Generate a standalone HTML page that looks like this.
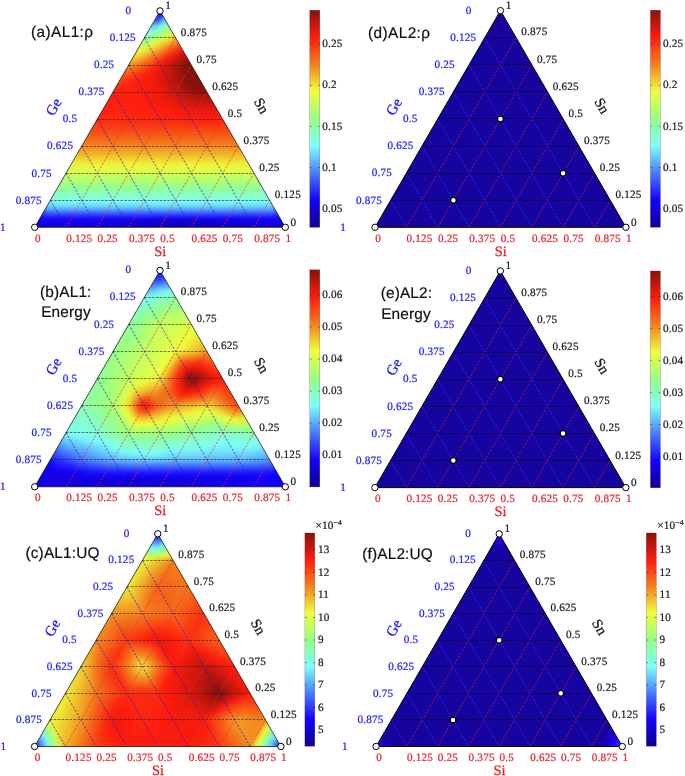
<!DOCTYPE html><html><head><meta charset="utf-8"><title>Ternary AL figure</title><style>html,body{margin:0;padding:0;background:#fff}svg{display:block}text{white-space:pre;text-rendering:geometricPrecision}</style></head><body>
<svg width="685" height="776" viewBox="0 0 685 776">
<defs><linearGradient id="jet" x1="0" y1="1" x2="0" y2="0"><stop offset="0" stop-color="#100092"/><stop offset="0.125" stop-color="#1400ff"/><stop offset="0.25" stop-color="#487dff"/><stop offset="0.375" stop-color="#7dfffa"/><stop offset="0.5" stop-color="#96ff87"/><stop offset="0.625" stop-color="#eeff3c"/><stop offset="0.75" stop-color="#f3801e"/><stop offset="0.875" stop-color="#fd1c0e"/><stop offset="1" stop-color="#87120c"/></linearGradient>
<filter id="sm" x="-5%" y="-5%" width="110%" height="110%" color-interpolation-filters="sRGB"><feGaussianBlur stdDeviation="2.1"/><feComponentTransfer><feFuncA type="linear" slope="60" intercept="0"/></feComponentTransfer></filter>
<radialGradient id="cornL" gradientUnits="userSpaceOnUse" cx="0" cy="0" r="1"><stop offset="0" stop-color="#2a3cff"/><stop offset="1" stop-color="#2a3cff" stop-opacity="0"/></radialGradient>
<clipPath id="cpa"><polygon points="34.7,227.3 285.3,227.3 160,10.91"/></clipPath>
<clipPath id="cpb"><polygon points="34.7,486.8 285.3,486.8 160,270.41"/></clipPath>
<clipPath id="cpc"><polygon points="34.6,746.5 280.9,746.5 157.75,533.82"/></clipPath>
<clipPath id="cpd"><polygon points="375,227.3 625.9,227.3 500.45,10.65"/></clipPath>
<clipPath id="cpe"><polygon points="374.9,487.6 625.8,487.6 500.35,270.95"/></clipPath>
<clipPath id="cpf"><polygon points="376.1,746.5 622.3,746.5 499.2,533.91"/></clipPath>
<radialGradient id="spot"><stop offset="0" stop-color="#701010"/><stop offset="0.35" stop-color="#801210" stop-opacity="0.7"/><stop offset="1" stop-color="#a01410" stop-opacity="0"/></radialGradient>
</defs>
<rect width="685" height="776" fill="#fff"/>
<g id="panel-a">
<g clip-path="url(#cpa)"><g filter="url(#sm)">
<path fill="#1300e3" stroke="#1300e3" d="M34.7,227.3h6.96l-3.48,-6.01zM41.66,227.3h6.96l-3.48,-6.01zM62.54,227.3l3.48,-6.01h-6.96zM219.17,221.29h6.96l-3.48,-6.01z"/>
<path fill="#1300e5" stroke="#1300e5" d="M41.66,227.3l3.48,-6.01h-6.96zM48.62,227.3l3.48,-6.01h-6.96zM226.13,221.29h6.96l-3.48,-6.01zM156.52,16.92h6.96l-3.48,-6.01z"/>
<path fill="#1300e2" stroke="#1300e2" d="M48.62,227.3h6.96l-3.48,-6.01zM55.58,227.3h6.96l-3.48,-6.01zM69.51,227.3l3.48,-6.01h-6.96z"/>
<path fill="#1300e4" stroke="#1300e4" d="M55.58,227.3l3.48,-6.01h-6.96zM135.64,221.29h6.96l-3.48,-6.01z"/>
<path fill="#1300e1" stroke="#1300e1" d="M62.54,227.3h6.96l-3.48,-6.01zM69.51,227.3h6.96l-3.48,-6.01zM76.47,227.3l3.48,-6.01h-6.96zM142.6,221.29h6.96l-3.48,-6.01z"/>
<path fill="#1300e0" stroke="#1300e0" d="M76.47,227.3h6.96l-3.48,-6.01zM278.34,227.3h6.96l-3.48,-6.01zM212.21,221.29h6.96l-3.48,-6.01z"/>
<path fill="#1300df" stroke="#1300df" d="M83.43,227.3l3.48,-6.01h-6.96zM83.43,227.3h6.96l-3.48,-6.01zM271.38,227.3h6.96l-3.48,-6.01zM278.34,227.3l3.48,-6.01h-6.96z"/>
<path fill="#1300dd" stroke="#1300dd" d="M90.39,227.3l3.48,-6.01h-6.96zM264.42,227.3h6.96l-3.48,-6.01zM271.38,227.3l3.48,-6.01h-6.96z"/>
<path fill="#1300de" stroke="#1300de" d="M90.39,227.3h6.96l-3.48,-6.01zM149.56,221.29h6.96l-3.48,-6.01zM205.25,221.29h6.96l-3.48,-6.01z"/>
<path fill="#1300db" stroke="#1300db" d="M97.35,227.3l3.48,-6.01h-6.96zM104.31,227.3h6.96l-3.48,-6.01zM163.48,221.29h6.96l-3.48,-6.01z"/>
<path fill="#1300dc" stroke="#1300dc" d="M97.35,227.3h6.96l-3.48,-6.01zM257.46,227.3h6.96l-3.48,-6.01zM156.52,221.29h6.96l-3.48,-6.01zM198.29,221.29h6.96l-3.48,-6.01z"/>
<path fill="#1300d8" stroke="#1300d8" d="M104.31,227.3l3.48,-6.01h-6.96zM243.53,227.3h6.96l-3.48,-6.01z"/>
<path fill="#1200d5" stroke="#1200d5" d="M111.27,227.3l3.48,-6.01h-6.96z"/>
<path fill="#1300d9" stroke="#1300d9" d="M111.27,227.3h6.96l-3.48,-6.01zM177.4,221.29h6.96l-3.48,-6.01zM184.36,221.29h6.96l-3.48,-6.01z"/>
<path fill="#1200d1" stroke="#1200d1" d="M118.23,227.3l3.48,-6.01h-6.96zM222.65,227.3h6.96l-3.48,-6.01z"/>
<path fill="#1300d7" stroke="#1300d7" d="M118.23,227.3h6.96l-3.48,-6.01zM257.46,227.3l3.48,-6.01h-6.96z"/>
<path fill="#1200cd" stroke="#1200cd" d="M125.19,227.3l3.48,-6.01h-6.96zM208.73,227.3h6.96l-3.48,-6.01z"/>
<path fill="#1200d4" stroke="#1200d4" d="M125.19,227.3h6.96l-3.48,-6.01zM229.61,227.3h6.96l-3.48,-6.01zM250.49,227.3l3.48,-6.01h-6.96z"/>
<path fill="#1200c9" stroke="#1200c9" d="M132.16,227.3l3.48,-6.01h-6.96zM166.96,227.3h6.96l-3.48,-6.01zM173.92,227.3h6.96l-3.48,-6.01zM180.88,227.3h6.96l-3.48,-6.01zM187.84,227.3h6.96l-3.48,-6.01z"/>
<path fill="#1200d2" stroke="#1200d2" d="M132.16,227.3h6.96l-3.48,-6.01z"/>
<path fill="#1200c5" stroke="#1200c5" d="M139.12,227.3l3.48,-6.01h-6.96z"/>
<path fill="#1200d0" stroke="#1200d0" d="M139.12,227.3h6.96l-3.48,-6.01zM243.53,227.3l3.48,-6.01h-6.96z"/>
<path fill="#1200c2" stroke="#1200c2" d="M146.08,227.3l3.48,-6.01h-6.96z"/>
<path fill="#1200ce" stroke="#1200ce" d="M146.08,227.3h6.96l-3.48,-6.01z"/>
<path fill="#1200be" stroke="#1200be" d="M153.04,227.3l3.48,-6.01h-6.96z"/>
<path fill="#1200cc" stroke="#1200cc" d="M153.04,227.3h6.96l-3.48,-6.01zM236.57,227.3l3.48,-6.01h-6.96z"/>
<path fill="#1200bb" stroke="#1200bb" d="M160,227.3l3.48,-6.01h-6.96z"/>
<path fill="#1200ca" stroke="#1200ca" d="M160,227.3h6.96l-3.48,-6.01zM194.81,227.3h6.96l-3.48,-6.01z"/>
<path fill="#1100b9" stroke="#1100b9" d="M166.96,227.3l3.48,-6.01h-6.96z"/>
<path fill="#1100b7" stroke="#1100b7" d="M173.92,227.3l3.48,-6.01h-6.96zM180.88,227.3l3.48,-6.01h-6.96zM187.84,227.3l3.48,-6.01h-6.96z"/>
<path fill="#1100b8" stroke="#1100b8" d="M194.81,227.3l3.48,-6.01h-6.96z"/>
<path fill="#1100ba" stroke="#1100ba" d="M201.77,227.3l3.48,-6.01h-6.96z"/>
<path fill="#1200cb" stroke="#1200cb" d="M201.77,227.3h6.96l-3.48,-6.01z"/>
<path fill="#1200bd" stroke="#1200bd" d="M208.73,227.3l3.48,-6.01h-6.96z"/>
<path fill="#1200c0" stroke="#1200c0" d="M215.69,227.3l3.48,-6.01h-6.96z"/>
<path fill="#1200cf" stroke="#1200cf" d="M215.69,227.3h6.96l-3.48,-6.01z"/>
<path fill="#1200c4" stroke="#1200c4" d="M222.65,227.3l3.48,-6.01h-6.96z"/>
<path fill="#1200c8" stroke="#1200c8" d="M229.61,227.3l3.48,-6.01h-6.96z"/>
<path fill="#1200d6" stroke="#1200d6" d="M236.57,227.3h6.96l-3.48,-6.01z"/>
<path fill="#1300da" stroke="#1300da" d="M250.49,227.3h6.96l-3.48,-6.01zM264.42,227.3l3.48,-6.01h-6.96zM170.44,221.29h6.96l-3.48,-6.01zM191.32,221.29h6.96l-3.48,-6.01z"/>
<path fill="#1400fa" stroke="#1400fa" d="M38.18,221.29h6.96l-3.48,-6.01z"/>
<path fill="#1c14ff" stroke="#1c14ff" d="M45.14,221.29l3.48,-6.01h-6.96zM52.1,221.29l3.48,-6.01h-6.96z"/>
<path fill="#1400f9" stroke="#1400f9" d="M45.14,221.29h6.96l-3.48,-6.01zM52.1,221.29h6.96l-3.48,-6.01z"/>
<path fill="#1c13ff" stroke="#1c13ff" d="M59.06,221.29l3.48,-6.01h-6.96zM66.03,221.29l3.48,-6.01h-6.96zM72.99,221.29l3.48,-6.01h-6.96z"/>
<path fill="#1400f8" stroke="#1400f8" d="M59.06,221.29h6.96l-3.48,-6.01zM66.03,221.29h6.96l-3.48,-6.01z"/>
<path fill="#1400f7" stroke="#1400f7" d="M72.99,221.29h6.96l-3.48,-6.01z"/>
<path fill="#1c12ff" stroke="#1c12ff" d="M79.95,221.29l3.48,-6.01h-6.96z"/>
<path fill="#1400f6" stroke="#1400f6" d="M79.95,221.29h6.96l-3.48,-6.01z"/>
<path fill="#1b12ff" stroke="#1b12ff" d="M86.91,221.29l3.48,-6.01h-6.96zM274.86,221.29l3.48,-6.01h-6.96z"/>
<path fill="#1400f4" stroke="#1400f4" d="M86.91,221.29h6.96l-3.48,-6.01zM267.9,221.29h6.96l-3.48,-6.01z"/>
<path fill="#1b11ff" stroke="#1b11ff" d="M93.87,221.29l3.48,-6.01h-6.96zM267.9,221.29l3.48,-6.01h-6.96z"/>
<path fill="#1400f3" stroke="#1400f3" d="M93.87,221.29h6.96l-3.48,-6.01z"/>
<path fill="#1b10ff" stroke="#1b10ff" d="M100.83,221.29l3.48,-6.01h-6.96zM260.94,221.29l3.48,-6.01h-6.96z"/>
<path fill="#1300f1" stroke="#1300f1" d="M100.83,221.29h6.96l-3.48,-6.01z"/>
<path fill="#1a0fff" stroke="#1a0fff" d="M107.79,221.29l3.48,-6.01h-6.96zM253.98,221.29l3.48,-6.01h-6.96z"/>
<path fill="#1300ee" stroke="#1300ee" d="M107.79,221.29h6.96l-3.48,-6.01zM247.01,221.29h6.96l-3.48,-6.01z"/>
<path fill="#1a0eff" stroke="#1a0eff" d="M114.75,221.29l3.48,-6.01h-6.96zM247.01,221.29l3.48,-6.01h-6.96z"/>
<path fill="#1300ec" stroke="#1300ec" d="M114.75,221.29h6.96l-3.48,-6.01z"/>
<path fill="#190dff" stroke="#190dff" d="M121.71,221.29l3.48,-6.01h-6.96zM240.05,221.29l3.48,-6.01h-6.96z"/>
<path fill="#1300e9" stroke="#1300e9" d="M121.71,221.29h6.96l-3.48,-6.01z"/>
<path fill="#190cff" stroke="#190cff" d="M128.68,221.29l3.48,-6.01h-6.96z"/>
<path fill="#1300e6" stroke="#1300e6" d="M128.68,221.29h6.96l-3.48,-6.01z"/>
<path fill="#180bff" stroke="#180bff" d="M135.64,221.29l3.48,-6.01h-6.96z"/>
<path fill="#1809ff" stroke="#1809ff" d="M142.6,221.29l3.48,-6.01h-6.96zM219.17,221.29l3.48,-6.01h-6.96z"/>
<path fill="#1708ff" stroke="#1708ff" d="M149.56,221.29l3.48,-6.01h-6.96zM212.21,221.29l3.48,-6.01h-6.96z"/>
<path fill="#1707ff" stroke="#1707ff" d="M156.52,221.29l3.48,-6.01h-6.96zM205.25,221.29l3.48,-6.01h-6.96z"/>
<path fill="#1706ff" stroke="#1706ff" d="M163.48,221.29l3.48,-6.01h-6.96z"/>
<path fill="#1606ff" stroke="#1606ff" d="M170.44,221.29l3.48,-6.01h-6.96zM198.29,221.29l3.48,-6.01h-6.96z"/>
<path fill="#1605ff" stroke="#1605ff" d="M177.4,221.29l3.48,-6.01h-6.96zM184.36,221.29l3.48,-6.01h-6.96zM191.32,221.29l3.48,-6.01h-6.96z"/>
<path fill="#180aff" stroke="#180aff" d="M226.13,221.29l3.48,-6.01h-6.96z"/>
<path fill="#190bff" stroke="#190bff" d="M233.09,221.29l3.48,-6.01h-6.96z"/>
<path fill="#1300e8" stroke="#1300e8" d="M233.09,221.29h6.96l-3.48,-6.01z"/>
<path fill="#1300eb" stroke="#1300eb" d="M240.05,221.29h6.96l-3.48,-6.01z"/>
<path fill="#1300f0" stroke="#1300f0" d="M253.98,221.29h6.96l-3.48,-6.01z"/>
<path fill="#1400f2" stroke="#1400f2" d="M260.94,221.29h6.96l-3.48,-6.01z"/>
<path fill="#1400f5" stroke="#1400f5" d="M274.86,221.29h6.96l-3.48,-6.01z"/>
<path fill="#334bff" stroke="#334bff" d="M41.66,215.28h6.96l-3.48,-6.01zM48.62,215.28h6.96l-3.48,-6.01zM55.58,215.28h6.96l-3.48,-6.01zM62.54,215.28h6.96l-3.48,-6.01zM69.51,215.28h6.96l-3.48,-6.01zM76.47,215.28h6.96l-3.48,-6.01zM83.43,215.28h6.96l-3.48,-6.01zM90.39,215.28h6.96l-3.48,-6.01zM97.35,215.28h6.96l-3.48,-6.01zM104.31,215.28h6.96l-3.48,-6.01zM111.27,215.28h6.96l-3.48,-6.01zM118.23,215.28h6.96l-3.48,-6.01zM125.19,215.28h6.96l-3.48,-6.01zM132.16,215.28h6.96l-3.48,-6.01zM139.12,215.28h6.96l-3.48,-6.01zM146.08,215.28h6.96l-3.48,-6.01zM153.04,215.28h6.96l-3.48,-6.01zM160,215.28h6.96l-3.48,-6.01zM166.96,215.28h6.96l-3.48,-6.01zM173.92,215.28h6.96l-3.48,-6.01zM180.88,215.28h6.96l-3.48,-6.01zM187.84,215.28h6.96l-3.48,-6.01zM194.81,215.28h6.96l-3.48,-6.01zM201.77,215.28h6.96l-3.48,-6.01zM208.73,215.28h6.96l-3.48,-6.01zM215.69,215.28h6.96l-3.48,-6.01zM222.65,215.28h6.96l-3.48,-6.01zM229.61,215.28h6.96l-3.48,-6.01zM236.57,215.28h6.96l-3.48,-6.01zM243.53,215.28h6.96l-3.48,-6.01zM250.49,215.28h6.96l-3.48,-6.01zM257.46,215.28h6.96l-3.48,-6.01zM264.42,215.28h6.96l-3.48,-6.01zM271.38,215.28h6.96l-3.48,-6.01z"/>
<path fill="#4474ff" stroke="#4474ff" d="M48.62,215.28l3.48,-6.01h-6.96zM55.58,215.28l3.48,-6.01h-6.96zM62.54,215.28l3.48,-6.01h-6.96zM69.51,215.28l3.48,-6.01h-6.96zM76.47,215.28l3.48,-6.01h-6.96z"/>
<path fill="#4473ff" stroke="#4473ff" d="M83.43,215.28l3.48,-6.01h-6.96zM90.39,215.28l3.48,-6.01h-6.96zM97.35,215.28l3.48,-6.01h-6.96zM104.31,215.28l3.48,-6.01h-6.96zM111.27,215.28l3.48,-6.01h-6.96zM118.23,215.28l3.48,-6.01h-6.96zM125.19,215.28l3.48,-6.01h-6.96zM132.16,215.28l3.48,-6.01h-6.96zM139.12,215.28l3.48,-6.01h-6.96zM146.08,215.28l3.48,-6.01h-6.96zM153.04,215.28l3.48,-6.01h-6.96zM160,215.28l3.48,-6.01h-6.96zM166.96,215.28l3.48,-6.01h-6.96zM173.92,215.28l3.48,-6.01h-6.96zM180.88,215.28l3.48,-6.01h-6.96zM187.84,215.28l3.48,-6.01h-6.96zM194.81,215.28l3.48,-6.01h-6.96zM201.77,215.28l3.48,-6.01h-6.96zM208.73,215.28l3.48,-6.01h-6.96zM215.69,215.28l3.48,-6.01h-6.96zM222.65,215.28l3.48,-6.01h-6.96zM229.61,215.28l3.48,-6.01h-6.96zM236.57,215.28l3.48,-6.01h-6.96zM243.53,215.28l3.48,-6.01h-6.96zM250.49,215.28l3.48,-6.01h-6.96zM257.46,215.28l3.48,-6.01h-6.96zM264.42,215.28l3.48,-6.01h-6.96zM271.38,215.28l3.48,-6.01h-6.96z"/>
<path fill="#64c2fc" stroke="#64c2fc" d="M45.14,209.27h6.96l-3.48,-6.01zM52.1,209.27h6.96l-3.48,-6.01zM59.06,209.27h6.96l-3.48,-6.01zM66.03,209.27h6.96l-3.48,-6.01zM72.99,209.27h6.96l-3.48,-6.01zM79.95,209.27h6.96l-3.48,-6.01zM86.91,209.27h6.96l-3.48,-6.01zM93.87,209.27h6.96l-3.48,-6.01zM100.83,209.27h6.96l-3.48,-6.01zM107.79,209.27h6.96l-3.48,-6.01zM114.75,209.27h6.96l-3.48,-6.01zM121.71,209.27h6.96l-3.48,-6.01zM128.68,209.27h6.96l-3.48,-6.01zM135.64,209.27h6.96l-3.48,-6.01zM142.6,209.27h6.96l-3.48,-6.01zM149.56,209.27h6.96l-3.48,-6.01zM156.52,209.27h6.96l-3.48,-6.01zM163.48,209.27h6.96l-3.48,-6.01zM170.44,209.27h6.96l-3.48,-6.01zM177.4,209.27h6.96l-3.48,-6.01zM184.36,209.27h6.96l-3.48,-6.01zM191.32,209.27h6.96l-3.48,-6.01zM198.29,209.27h6.96l-3.48,-6.01zM205.25,209.27h6.96l-3.48,-6.01zM212.21,209.27h6.96l-3.48,-6.01zM219.17,209.27h6.96l-3.48,-6.01zM226.13,209.27h6.96l-3.48,-6.01zM233.09,209.27h6.96l-3.48,-6.01zM240.05,209.27h6.96l-3.48,-6.01zM247.01,209.27h6.96l-3.48,-6.01zM253.98,209.27h6.96l-3.48,-6.01zM260.94,209.27h6.96l-3.48,-6.01zM267.9,209.27h6.96l-3.48,-6.01z"/>
<path fill="#6dd8fc" stroke="#6dd8fc" d="M52.1,209.27l3.48,-6.01h-6.96zM59.06,209.27l3.48,-6.01h-6.96zM66.03,209.27l3.48,-6.01h-6.96zM72.99,209.27l3.48,-6.01h-6.96zM79.95,209.27l3.48,-6.01h-6.96zM86.91,209.27l3.48,-6.01h-6.96zM93.87,209.27l3.48,-6.01h-6.96zM100.83,209.27l3.48,-6.01h-6.96zM107.79,209.27l3.48,-6.01h-6.96zM114.75,209.27l3.48,-6.01h-6.96zM121.71,209.27l3.48,-6.01h-6.96zM128.68,209.27l3.48,-6.01h-6.96zM135.64,209.27l3.48,-6.01h-6.96zM142.6,209.27l3.48,-6.01h-6.96zM149.56,209.27l3.48,-6.01h-6.96zM156.52,209.27l3.48,-6.01h-6.96zM163.48,209.27l3.48,-6.01h-6.96zM170.44,209.27l3.48,-6.01h-6.96zM177.4,209.27l3.48,-6.01h-6.96zM184.36,209.27l3.48,-6.01h-6.96zM191.32,209.27l3.48,-6.01h-6.96zM198.29,209.27l3.48,-6.01h-6.96zM205.25,209.27l3.48,-6.01h-6.96zM212.21,209.27l3.48,-6.01h-6.96zM219.17,209.27l3.48,-6.01h-6.96zM226.13,209.27l3.48,-6.01h-6.96zM233.09,209.27l3.48,-6.01h-6.96zM240.05,209.27l3.48,-6.01h-6.96zM247.01,209.27l3.48,-6.01h-6.96zM253.98,209.27l3.48,-6.01h-6.96zM260.94,209.27l3.48,-6.01h-6.96zM267.9,209.27l3.48,-6.01h-6.96z"/>
<path fill="#7efff6" stroke="#7efff6" d="M48.62,203.26h6.96l-3.48,-6.01zM55.58,203.26h6.96l-3.48,-6.01zM62.54,203.26h6.96l-3.48,-6.01zM69.51,203.26h6.96l-3.48,-6.01zM76.47,203.26h6.96l-3.48,-6.01zM83.43,203.26h6.96l-3.48,-6.01zM90.39,203.26h6.96l-3.48,-6.01zM97.35,203.26h6.96l-3.48,-6.01zM104.31,203.26h6.96l-3.48,-6.01zM111.27,203.26h6.96l-3.48,-6.01zM118.23,203.26h6.96l-3.48,-6.01zM125.19,203.26h6.96l-3.48,-6.01zM132.16,203.26h6.96l-3.48,-6.01zM139.12,203.26h6.96l-3.48,-6.01zM146.08,203.26h6.96l-3.48,-6.01zM153.04,203.26h6.96l-3.48,-6.01zM160,203.26h6.96l-3.48,-6.01zM166.96,203.26h6.96l-3.48,-6.01zM173.92,203.26h6.96l-3.48,-6.01zM180.88,203.26h6.96l-3.48,-6.01zM187.84,203.26h6.96l-3.48,-6.01zM194.81,203.26h6.96l-3.48,-6.01zM201.77,203.26h6.96l-3.48,-6.01zM208.73,203.26h6.96l-3.48,-6.01zM215.69,203.26h6.96l-3.48,-6.01zM222.65,203.26h6.96l-3.48,-6.01zM229.61,203.26h6.96l-3.48,-6.01zM236.57,203.26h6.96l-3.48,-6.01zM243.53,203.26h6.96l-3.48,-6.01zM250.49,203.26h6.96l-3.48,-6.01zM257.46,203.26h6.96l-3.48,-6.01zM264.42,203.26h6.96l-3.48,-6.01z"/>
<path fill="#81ffe6" stroke="#81ffe6" d="M55.58,203.26l3.48,-6.01h-6.96zM62.54,203.26l3.48,-6.01h-6.96zM69.51,203.26l3.48,-6.01h-6.96zM76.47,203.26l3.48,-6.01h-6.96zM83.43,203.26l3.48,-6.01h-6.96zM90.39,203.26l3.48,-6.01h-6.96zM97.35,203.26l3.48,-6.01h-6.96zM104.31,203.26l3.48,-6.01h-6.96zM111.27,203.26l3.48,-6.01h-6.96zM118.23,203.26l3.48,-6.01h-6.96zM125.19,203.26l3.48,-6.01h-6.96zM132.16,203.26l3.48,-6.01h-6.96zM139.12,203.26l3.48,-6.01h-6.96zM146.08,203.26l3.48,-6.01h-6.96zM153.04,203.26l3.48,-6.01h-6.96zM160,203.26l3.48,-6.01h-6.96zM166.96,203.26l3.48,-6.01h-6.96zM173.92,203.26l3.48,-6.01h-6.96zM180.88,203.26l3.48,-6.01h-6.96zM187.84,203.26l3.48,-6.01h-6.96zM194.81,203.26l3.48,-6.01h-6.96zM201.77,203.26l3.48,-6.01h-6.96zM208.73,203.26l3.48,-6.01h-6.96zM215.69,203.26l3.48,-6.01h-6.96zM222.65,203.26l3.48,-6.01h-6.96zM229.61,203.26l3.48,-6.01h-6.96zM236.57,203.26l3.48,-6.01h-6.96zM243.53,203.26l3.48,-6.01h-6.96zM250.49,203.26l3.48,-6.01h-6.96zM257.46,203.26l3.48,-6.01h-6.96zM264.42,203.26l3.48,-6.01h-6.96z"/>
<path fill="#87ffcb" stroke="#87ffcb" d="M52.1,197.25h6.96l-3.48,-6.01zM59.06,197.25h6.96l-3.48,-6.01zM66.03,197.25h6.96l-3.48,-6.01zM72.99,197.25h6.96l-3.48,-6.01zM79.95,197.25h6.96l-3.48,-6.01zM86.91,197.25h6.96l-3.48,-6.01zM93.87,197.25h6.96l-3.48,-6.01zM100.83,197.25h6.96l-3.48,-6.01zM107.79,197.25h6.96l-3.48,-6.01zM114.75,197.25h6.96l-3.48,-6.01zM121.71,197.25h6.96l-3.48,-6.01zM128.68,197.25h6.96l-3.48,-6.01zM135.64,197.25h6.96l-3.48,-6.01zM142.6,197.25h6.96l-3.48,-6.01zM149.56,197.25h6.96l-3.48,-6.01zM156.52,197.25h6.96l-3.48,-6.01zM163.48,197.25h6.96l-3.48,-6.01zM170.44,197.25h6.96l-3.48,-6.01zM177.4,197.25h6.96l-3.48,-6.01zM184.36,197.25h6.96l-3.48,-6.01zM191.32,197.25h6.96l-3.48,-6.01zM198.29,197.25h6.96l-3.48,-6.01zM205.25,197.25h6.96l-3.48,-6.01zM212.21,197.25h6.96l-3.48,-6.01zM219.17,197.25h6.96l-3.48,-6.01zM226.13,197.25h6.96l-3.48,-6.01zM233.09,197.25h6.96l-3.48,-6.01zM240.05,197.25h6.96l-3.48,-6.01zM247.01,197.25h6.96l-3.48,-6.01zM253.98,197.25h6.96l-3.48,-6.01zM260.94,197.25h6.96l-3.48,-6.01z"/>
<path fill="#8affbe" stroke="#8affbe" d="M59.06,197.25l3.48,-6.01h-6.96zM66.03,197.25l3.48,-6.01h-6.96zM72.99,197.25l3.48,-6.01h-6.96zM79.95,197.25l3.48,-6.01h-6.96zM86.91,197.25l3.48,-6.01h-6.96zM93.87,197.25l3.48,-6.01h-6.96zM100.83,197.25l3.48,-6.01h-6.96zM107.79,197.25l3.48,-6.01h-6.96zM114.75,197.25l3.48,-6.01h-6.96zM121.71,197.25l3.48,-6.01h-6.96zM128.68,197.25l3.48,-6.01h-6.96zM135.64,197.25l3.48,-6.01h-6.96zM142.6,197.25l3.48,-6.01h-6.96zM149.56,197.25l3.48,-6.01h-6.96zM156.52,197.25l3.48,-6.01h-6.96zM163.48,197.25l3.48,-6.01h-6.96zM170.44,197.25l3.48,-6.01h-6.96zM177.4,197.25l3.48,-6.01h-6.96zM184.36,197.25l3.48,-6.01h-6.96zM191.32,197.25l3.48,-6.01h-6.96zM198.29,197.25l3.48,-6.01h-6.96zM205.25,197.25l3.48,-6.01h-6.96zM212.21,197.25l3.48,-6.01h-6.96zM219.17,197.25l3.48,-6.01h-6.96zM226.13,197.25l3.48,-6.01h-6.96zM233.09,197.25l3.48,-6.01h-6.96zM240.05,197.25l3.48,-6.01h-6.96zM247.01,197.25l3.48,-6.01h-6.96zM253.98,197.25l3.48,-6.01h-6.96zM260.94,197.25l3.48,-6.01h-6.96z"/>
<path fill="#90ffa3" stroke="#90ffa3" d="M55.58,191.23h6.96l-3.48,-6.01zM62.54,191.23h6.96l-3.48,-6.01zM69.51,191.23h6.96l-3.48,-6.01zM76.47,191.23h6.96l-3.48,-6.01zM83.43,191.23h6.96l-3.48,-6.01zM90.39,191.23h6.96l-3.48,-6.01zM97.35,191.23h6.96l-3.48,-6.01zM104.31,191.23h6.96l-3.48,-6.01zM111.27,191.23h6.96l-3.48,-6.01zM118.23,191.23h6.96l-3.48,-6.01zM125.19,191.23h6.96l-3.48,-6.01zM132.16,191.23h6.96l-3.48,-6.01zM139.12,191.23h6.96l-3.48,-6.01zM146.08,191.23h6.96l-3.48,-6.01zM153.04,191.23h6.96l-3.48,-6.01zM160,191.23h6.96l-3.48,-6.01zM166.96,191.23h6.96l-3.48,-6.01zM173.92,191.23h6.96l-3.48,-6.01zM180.88,191.23h6.96l-3.48,-6.01zM187.84,191.23h6.96l-3.48,-6.01zM194.81,191.23h6.96l-3.48,-6.01zM201.77,191.23h6.96l-3.48,-6.01zM208.73,191.23h6.96l-3.48,-6.01zM215.69,191.23h6.96l-3.48,-6.01zM222.65,191.23h6.96l-3.48,-6.01zM229.61,191.23h6.96l-3.48,-6.01zM236.57,191.23h6.96l-3.48,-6.01zM243.53,191.23h6.96l-3.48,-6.01zM250.49,191.23h6.96l-3.48,-6.01zM257.46,191.23h6.96l-3.48,-6.01z"/>
<path fill="#93ff96" stroke="#93ff96" d="M62.54,191.23l3.48,-6.01h-6.96zM69.51,191.23l3.48,-6.01h-6.96zM76.47,191.23l3.48,-6.01h-6.96zM83.43,191.23l3.48,-6.01h-6.96zM90.39,191.23l3.48,-6.01h-6.96zM97.35,191.23l3.48,-6.01h-6.96zM104.31,191.23l3.48,-6.01h-6.96zM111.27,191.23l3.48,-6.01h-6.96zM118.23,191.23l3.48,-6.01h-6.96zM125.19,191.23l3.48,-6.01h-6.96zM132.16,191.23l3.48,-6.01h-6.96zM139.12,191.23l3.48,-6.01h-6.96zM146.08,191.23l3.48,-6.01h-6.96zM153.04,191.23l3.48,-6.01h-6.96zM160,191.23l3.48,-6.01h-6.96zM166.96,191.23l3.48,-6.01h-6.96zM173.92,191.23l3.48,-6.01h-6.96zM180.88,191.23l3.48,-6.01h-6.96zM187.84,191.23l3.48,-6.01h-6.96zM194.81,191.23l3.48,-6.01h-6.96zM201.77,191.23l3.48,-6.01h-6.96zM208.73,191.23l3.48,-6.01h-6.96zM215.69,191.23l3.48,-6.01h-6.96zM222.65,191.23l3.48,-6.01h-6.96zM229.61,191.23l3.48,-6.01h-6.96zM236.57,191.23l3.48,-6.01h-6.96zM243.53,191.23l3.48,-6.01h-6.96zM250.49,191.23l3.48,-6.01h-6.96zM257.46,191.23l3.48,-6.01h-6.96z"/>
<path fill="#9fff7f" stroke="#9fff7f" d="M59.06,185.22h6.96l-3.48,-6.01zM66.03,185.22h6.96l-3.48,-6.01zM72.99,185.22h6.96l-3.48,-6.01zM79.95,185.22h6.96l-3.48,-6.01zM86.91,185.22h6.96l-3.48,-6.01zM93.87,185.22h6.96l-3.48,-6.01zM100.83,185.22h6.96l-3.48,-6.01zM107.79,185.22h6.96l-3.48,-6.01zM114.75,185.22h6.96l-3.48,-6.01zM121.71,185.22h6.96l-3.48,-6.01zM128.68,185.22h6.96l-3.48,-6.01zM135.64,185.22h6.96l-3.48,-6.01zM142.6,185.22h6.96l-3.48,-6.01zM149.56,185.22h6.96l-3.48,-6.01zM156.52,185.22h6.96l-3.48,-6.01zM163.48,185.22h6.96l-3.48,-6.01zM170.44,185.22h6.96l-3.48,-6.01zM177.4,185.22h6.96l-3.48,-6.01zM184.36,185.22h6.96l-3.48,-6.01zM191.32,185.22h6.96l-3.48,-6.01zM198.29,185.22h6.96l-3.48,-6.01zM205.25,185.22h6.96l-3.48,-6.01zM212.21,185.22h6.96l-3.48,-6.01zM219.17,185.22h6.96l-3.48,-6.01zM226.13,185.22h6.96l-3.48,-6.01zM233.09,185.22h6.96l-3.48,-6.01zM240.05,185.22h6.96l-3.48,-6.01zM247.01,185.22h6.96l-3.48,-6.01zM253.98,185.22h6.96l-3.48,-6.01z"/>
<path fill="#a9ff77" stroke="#a9ff77" d="M66.03,185.22l3.48,-6.01h-6.96zM72.99,185.22l3.48,-6.01h-6.96zM79.95,185.22l3.48,-6.01h-6.96zM86.91,185.22l3.48,-6.01h-6.96zM93.87,185.22l3.48,-6.01h-6.96zM100.83,185.22l3.48,-6.01h-6.96zM107.79,185.22l3.48,-6.01h-6.96zM114.75,185.22l3.48,-6.01h-6.96zM121.71,185.22l3.48,-6.01h-6.96zM128.68,185.22l3.48,-6.01h-6.96zM135.64,185.22l3.48,-6.01h-6.96zM142.6,185.22l3.48,-6.01h-6.96zM149.56,185.22l3.48,-6.01h-6.96zM156.52,185.22l3.48,-6.01h-6.96zM163.48,185.22l3.48,-6.01h-6.96zM170.44,185.22l3.48,-6.01h-6.96zM177.4,185.22l3.48,-6.01h-6.96zM184.36,185.22l3.48,-6.01h-6.96zM191.32,185.22l3.48,-6.01h-6.96zM198.29,185.22l3.48,-6.01h-6.96zM205.25,185.22l3.48,-6.01h-6.96zM212.21,185.22l3.48,-6.01h-6.96zM219.17,185.22l3.48,-6.01h-6.96zM226.13,185.22l3.48,-6.01h-6.96zM233.09,185.22l3.48,-6.01h-6.96zM240.05,185.22l3.48,-6.01h-6.96zM247.01,185.22l3.48,-6.01h-6.96zM253.98,185.22l3.48,-6.01h-6.96z"/>
<path fill="#beff65" stroke="#beff65" d="M62.54,179.21h6.96l-3.48,-6.01zM69.51,179.21h6.96l-3.48,-6.01zM76.47,179.21h6.96l-3.48,-6.01zM83.43,179.21h6.96l-3.48,-6.01zM90.39,179.21h6.96l-3.48,-6.01zM97.35,179.21h6.96l-3.48,-6.01zM104.31,179.21h6.96l-3.48,-6.01zM111.27,179.21h6.96l-3.48,-6.01zM118.23,179.21h6.96l-3.48,-6.01zM125.19,179.21h6.96l-3.48,-6.01zM132.16,179.21h6.96l-3.48,-6.01zM139.12,179.21h6.96l-3.48,-6.01zM146.08,179.21h6.96l-3.48,-6.01zM153.04,179.21h6.96l-3.48,-6.01zM160,179.21h6.96l-3.48,-6.01zM166.96,179.21h6.96l-3.48,-6.01zM173.92,179.21h6.96l-3.48,-6.01zM180.88,179.21h6.96l-3.48,-6.01zM187.84,179.21h6.96l-3.48,-6.01zM194.81,179.21h6.96l-3.48,-6.01zM201.77,179.21h6.96l-3.48,-6.01zM208.73,179.21h6.96l-3.48,-6.01zM215.69,179.21h6.96l-3.48,-6.01zM222.65,179.21h6.96l-3.48,-6.01zM229.61,179.21h6.96l-3.48,-6.01zM236.57,179.21h6.96l-3.48,-6.01zM243.53,179.21h6.96l-3.48,-6.01zM250.49,179.21h6.96l-3.48,-6.01z"/>
<path fill="#c8ff5d" stroke="#c8ff5d" d="M69.51,179.21l3.48,-6.01h-6.96zM76.47,179.21l3.48,-6.01h-6.96zM83.43,179.21l3.48,-6.01h-6.96zM90.39,179.21l3.48,-6.01h-6.96zM97.35,179.21l3.48,-6.01h-6.96zM104.31,179.21l3.48,-6.01h-6.96zM111.27,179.21l3.48,-6.01h-6.96zM118.23,179.21l3.48,-6.01h-6.96zM125.19,179.21l3.48,-6.01h-6.96zM132.16,179.21l3.48,-6.01h-6.96zM139.12,179.21l3.48,-6.01h-6.96zM146.08,179.21l3.48,-6.01h-6.96zM153.04,179.21l3.48,-6.01h-6.96zM160,179.21l3.48,-6.01h-6.96zM166.96,179.21l3.48,-6.01h-6.96zM173.92,179.21l3.48,-6.01h-6.96zM180.88,179.21l3.48,-6.01h-6.96zM187.84,179.21l3.48,-6.01h-6.96zM194.81,179.21l3.48,-6.01h-6.96zM201.77,179.21l3.48,-6.01h-6.96zM208.73,179.21l3.48,-6.01h-6.96zM215.69,179.21l3.48,-6.01h-6.96zM222.65,179.21l3.48,-6.01h-6.96zM229.61,179.21l3.48,-6.01h-6.96zM236.57,179.21l3.48,-6.01h-6.96zM243.53,179.21l3.48,-6.01h-6.96zM250.49,179.21l3.48,-6.01h-6.96z"/>
<path fill="#daff4d" stroke="#daff4d" d="M66.03,173.2h6.96l-3.48,-6.01zM72.99,173.2h6.96l-3.48,-6.01zM79.95,173.2h6.96l-3.48,-6.01zM86.91,173.2h6.96l-3.48,-6.01zM93.87,173.2h6.96l-3.48,-6.01zM100.83,173.2h6.96l-3.48,-6.01zM107.79,173.2h6.96l-3.48,-6.01zM114.75,173.2h6.96l-3.48,-6.01zM121.71,173.2h6.96l-3.48,-6.01zM128.68,173.2h6.96l-3.48,-6.01zM135.64,173.2h6.96l-3.48,-6.01zM142.6,173.2h6.96l-3.48,-6.01zM149.56,173.2h6.96l-3.48,-6.01zM156.52,173.2h6.96l-3.48,-6.01zM163.48,173.2h6.96l-3.48,-6.01zM170.44,173.2h6.96l-3.48,-6.01zM177.4,173.2h6.96l-3.48,-6.01zM184.36,173.2h6.96l-3.48,-6.01zM191.32,173.2h6.96l-3.48,-6.01zM198.29,173.2h6.96l-3.48,-6.01zM205.25,173.2h6.96l-3.48,-6.01zM212.21,173.2h6.96l-3.48,-6.01zM219.17,173.2h6.96l-3.48,-6.01zM226.13,173.2h6.96l-3.48,-6.01zM233.09,173.2h6.96l-3.48,-6.01zM240.05,173.2h6.96l-3.48,-6.01zM247.01,173.2h6.96l-3.48,-6.01zM153.04,46.97l3.48,-6.01h-6.96z"/>
<path fill="#e1ff47" stroke="#e1ff47" d="M72.99,173.2l3.48,-6.01h-6.96zM79.95,173.2l3.48,-6.01h-6.96zM86.91,173.2l3.48,-6.01h-6.96zM93.87,173.2l3.48,-6.01h-6.96zM100.83,173.2l3.48,-6.01h-6.96zM107.79,173.2l3.48,-6.01h-6.96zM114.75,173.2l3.48,-6.01h-6.96zM121.71,173.2l3.48,-6.01h-6.96zM128.68,173.2l3.48,-6.01h-6.96zM135.64,173.2l3.48,-6.01h-6.96zM142.6,173.2l3.48,-6.01h-6.96zM149.56,173.2l3.48,-6.01h-6.96zM156.52,173.2l3.48,-6.01h-6.96zM163.48,173.2l3.48,-6.01h-6.96zM170.44,173.2l3.48,-6.01h-6.96zM177.4,173.2l3.48,-6.01h-6.96zM184.36,173.2l3.48,-6.01h-6.96zM191.32,173.2l3.48,-6.01h-6.96zM198.29,173.2l3.48,-6.01h-6.96zM205.25,173.2l3.48,-6.01h-6.96zM212.21,173.2l3.48,-6.01h-6.96zM219.17,173.2l3.48,-6.01h-6.96zM226.13,173.2l3.48,-6.01h-6.96zM233.09,173.2l3.48,-6.01h-6.96zM240.05,173.2l3.48,-6.01h-6.96zM247.01,173.2l3.48,-6.01h-6.96zM142.6,52.98l3.48,-6.01h-6.96z"/>
<path fill="#eefa3b" stroke="#eefa3b" d="M69.51,167.19h6.96l-3.48,-6.01zM76.47,167.19h6.96l-3.48,-6.01zM83.43,167.19h6.96l-3.48,-6.01zM90.39,167.19h6.96l-3.48,-6.01zM97.35,167.19h6.96l-3.48,-6.01zM104.31,167.19h6.96l-3.48,-6.01zM111.27,167.19h6.96l-3.48,-6.01zM118.23,167.19h6.96l-3.48,-6.01zM125.19,167.19h6.96l-3.48,-6.01zM132.16,167.19h6.96l-3.48,-6.01zM139.12,167.19h6.96l-3.48,-6.01zM146.08,167.19h6.96l-3.48,-6.01zM153.04,167.19h6.96l-3.48,-6.01zM160,167.19h6.96l-3.48,-6.01zM166.96,167.19h6.96l-3.48,-6.01zM173.92,167.19h6.96l-3.48,-6.01zM180.88,167.19h6.96l-3.48,-6.01zM187.84,167.19h6.96l-3.48,-6.01zM194.81,167.19h6.96l-3.48,-6.01zM201.77,167.19h6.96l-3.48,-6.01zM208.73,167.19h6.96l-3.48,-6.01zM215.69,167.19h6.96l-3.48,-6.01zM222.65,167.19h6.96l-3.48,-6.01zM229.61,167.19h6.96l-3.48,-6.01zM236.57,167.19h6.96l-3.48,-6.01zM243.53,167.19h6.96l-3.48,-6.01z"/>
<path fill="#efef38" stroke="#efef38" d="M76.47,167.19l3.48,-6.01h-6.96zM83.43,167.19l3.48,-6.01h-6.96zM90.39,167.19l3.48,-6.01h-6.96zM97.35,167.19l3.48,-6.01h-6.96zM104.31,167.19l3.48,-6.01h-6.96zM111.27,167.19l3.48,-6.01h-6.96zM118.23,167.19l3.48,-6.01h-6.96zM125.19,167.19l3.48,-6.01h-6.96zM132.16,167.19l3.48,-6.01h-6.96zM139.12,167.19l3.48,-6.01h-6.96zM146.08,167.19l3.48,-6.01h-6.96zM153.04,167.19l3.48,-6.01h-6.96zM160,167.19l3.48,-6.01h-6.96zM166.96,167.19l3.48,-6.01h-6.96zM173.92,167.19l3.48,-6.01h-6.96zM180.88,167.19l3.48,-6.01h-6.96zM187.84,167.19l3.48,-6.01h-6.96zM194.81,167.19l3.48,-6.01h-6.96zM201.77,167.19l3.48,-6.01h-6.96zM208.73,167.19l3.48,-6.01h-6.96zM215.69,167.19l3.48,-6.01h-6.96zM222.65,167.19l3.48,-6.01h-6.96zM229.61,167.19l3.48,-6.01h-6.96zM236.57,167.19l3.48,-6.01h-6.96zM243.53,167.19l3.48,-6.01h-6.96zM170.44,40.96l3.48,-6.01h-6.96z"/>
<path fill="#f0d833" stroke="#f0d833" d="M72.99,161.18h6.96l-3.48,-6.01zM79.95,161.18h6.96l-3.48,-6.01zM86.91,161.18h6.96l-3.48,-6.01zM93.87,161.18h6.96l-3.48,-6.01zM100.83,161.18h6.96l-3.48,-6.01zM107.79,161.18h6.96l-3.48,-6.01zM114.75,161.18h6.96l-3.48,-6.01zM121.71,161.18h6.96l-3.48,-6.01zM128.68,161.18h6.96l-3.48,-6.01zM135.64,161.18h6.96l-3.48,-6.01zM142.6,161.18h6.96l-3.48,-6.01zM149.56,161.18h6.96l-3.48,-6.01zM156.52,161.18h6.96l-3.48,-6.01zM163.48,161.18h6.96l-3.48,-6.01zM170.44,161.18h6.96l-3.48,-6.01zM177.4,161.18h6.96l-3.48,-6.01zM184.36,161.18h6.96l-3.48,-6.01zM191.32,161.18h6.96l-3.48,-6.01zM198.29,161.18h6.96l-3.48,-6.01zM205.25,161.18h6.96l-3.48,-6.01zM212.21,161.18h6.96l-3.48,-6.01zM219.17,161.18h6.96l-3.48,-6.01zM226.13,161.18h6.96l-3.48,-6.01zM233.09,161.18h6.96l-3.48,-6.01zM240.05,161.18h6.96l-3.48,-6.01z"/>
<path fill="#f0cc30" stroke="#f0cc30" d="M79.95,161.18l3.48,-6.01h-6.96zM86.91,161.18l3.48,-6.01h-6.96zM93.87,161.18l3.48,-6.01h-6.96zM100.83,161.18l3.48,-6.01h-6.96zM107.79,161.18l3.48,-6.01h-6.96zM114.75,161.18l3.48,-6.01h-6.96zM121.71,161.18l3.48,-6.01h-6.96zM128.68,161.18l3.48,-6.01h-6.96zM135.64,161.18l3.48,-6.01h-6.96zM142.6,161.18l3.48,-6.01h-6.96zM149.56,161.18l3.48,-6.01h-6.96zM156.52,161.18l3.48,-6.01h-6.96zM163.48,161.18l3.48,-6.01h-6.96zM170.44,161.18l3.48,-6.01h-6.96zM177.4,161.18l3.48,-6.01h-6.96zM184.36,161.18l3.48,-6.01h-6.96zM191.32,161.18l3.48,-6.01h-6.96zM198.29,161.18l3.48,-6.01h-6.96zM205.25,161.18l3.48,-6.01h-6.96zM212.21,161.18l3.48,-6.01h-6.96zM219.17,161.18l3.48,-6.01h-6.96zM226.13,161.18l3.48,-6.01h-6.96zM233.09,161.18l3.48,-6.01h-6.96zM240.05,161.18l3.48,-6.01h-6.96z"/>
<path fill="#f1b42a" stroke="#f1b42a" d="M76.47,155.17h6.96l-3.48,-6.01zM83.43,155.17h6.96l-3.48,-6.01zM90.39,155.17h6.96l-3.48,-6.01zM97.35,155.17h6.96l-3.48,-6.01zM104.31,155.17h6.96l-3.48,-6.01zM111.27,155.17h6.96l-3.48,-6.01zM118.23,155.17h6.96l-3.48,-6.01zM125.19,155.17h6.96l-3.48,-6.01zM132.16,155.17h6.96l-3.48,-6.01zM139.12,155.17h6.96l-3.48,-6.01zM146.08,155.17h6.96l-3.48,-6.01zM153.04,155.17h6.96l-3.48,-6.01zM160,155.17h6.96l-3.48,-6.01zM166.96,155.17h6.96l-3.48,-6.01zM173.92,155.17h6.96l-3.48,-6.01zM180.88,155.17h6.96l-3.48,-6.01zM187.84,155.17h6.96l-3.48,-6.01zM194.81,155.17h6.96l-3.48,-6.01zM201.77,155.17h6.96l-3.48,-6.01zM208.73,155.17h6.96l-3.48,-6.01zM215.69,155.17h6.96l-3.48,-6.01zM222.65,155.17h6.96l-3.48,-6.01zM229.61,155.17h6.96l-3.48,-6.01zM236.57,155.17h6.96l-3.48,-6.01zM149.56,52.98h6.96l-3.48,-6.01z"/>
<path fill="#f1a828" stroke="#f1a828" d="M83.43,155.17l3.48,-6.01h-6.96zM90.39,155.17l3.48,-6.01h-6.96zM97.35,155.17l3.48,-6.01h-6.96zM104.31,155.17l3.48,-6.01h-6.96zM111.27,155.17l3.48,-6.01h-6.96zM118.23,155.17l3.48,-6.01h-6.96zM125.19,155.17l3.48,-6.01h-6.96zM132.16,155.17l3.48,-6.01h-6.96zM139.12,155.17l3.48,-6.01h-6.96zM146.08,155.17l3.48,-6.01h-6.96zM153.04,155.17l3.48,-6.01h-6.96zM160,155.17l3.48,-6.01h-6.96zM166.96,155.17l3.48,-6.01h-6.96zM173.92,155.17l3.48,-6.01h-6.96zM236.57,155.17l3.48,-6.01h-6.96z"/>
<path fill="#f1a827" stroke="#f1a827" d="M180.88,155.17l3.48,-6.01h-6.96zM187.84,155.17l3.48,-6.01h-6.96zM194.81,155.17l3.48,-6.01h-6.96zM201.77,155.17l3.48,-6.01h-6.96zM208.73,155.17l3.48,-6.01h-6.96zM215.69,155.17l3.48,-6.01h-6.96zM222.65,155.17l3.48,-6.01h-6.96zM229.61,155.17l3.48,-6.01h-6.96z"/>
<path fill="#f29022" stroke="#f29022" d="M79.95,149.16h6.96l-3.48,-6.01zM86.91,149.16h6.96l-3.48,-6.01zM93.87,149.16h6.96l-3.48,-6.01zM100.83,149.16h6.96l-3.48,-6.01zM107.79,149.16h6.96l-3.48,-6.01zM114.75,149.16h6.96l-3.48,-6.01zM121.71,149.16h6.96l-3.48,-6.01zM128.68,149.16h6.96l-3.48,-6.01zM135.64,149.16h6.96l-3.48,-6.01zM142.6,149.16h6.96l-3.48,-6.01zM149.56,149.16h6.96l-3.48,-6.01zM156.52,149.16h6.96l-3.48,-6.01zM163.48,149.16h6.96l-3.48,-6.01zM170.44,149.16h6.96l-3.48,-6.01zM177.4,149.16h6.96l-3.48,-6.01zM184.36,149.16h6.96l-3.48,-6.01zM191.32,149.16h6.96l-3.48,-6.01zM198.29,149.16h6.96l-3.48,-6.01zM205.25,149.16h6.96l-3.48,-6.01zM212.21,149.16h6.96l-3.48,-6.01zM219.17,149.16h6.96l-3.48,-6.01zM226.13,149.16h6.96l-3.48,-6.01zM233.09,149.16h6.96l-3.48,-6.01z"/>
<path fill="#f3851f" stroke="#f3851f" d="M86.91,149.16l3.48,-6.01h-6.96zM93.87,149.16l3.48,-6.01h-6.96zM100.83,149.16l3.48,-6.01h-6.96zM107.79,149.16l3.48,-6.01h-6.96zM114.75,149.16l3.48,-6.01h-6.96zM121.71,149.16l3.48,-6.01h-6.96zM128.68,149.16l3.48,-6.01h-6.96zM135.64,149.16l3.48,-6.01h-6.96zM142.6,149.16l3.48,-6.01h-6.96zM149.56,149.16l3.48,-6.01h-6.96zM156.52,149.16l3.48,-6.01h-6.96zM163.48,149.16l3.48,-6.01h-6.96zM170.44,149.16l3.48,-6.01h-6.96zM177.4,149.16l3.48,-6.01h-6.96zM184.36,149.16l3.48,-6.01h-6.96zM191.32,149.16l3.48,-6.01h-6.96zM198.29,149.16l3.48,-6.01h-6.96zM205.25,149.16l3.48,-6.01h-6.96zM212.21,149.16l3.48,-6.01h-6.96zM219.17,149.16l3.48,-6.01h-6.96zM226.13,149.16l3.48,-6.01h-6.96zM233.09,149.16l3.48,-6.01h-6.96zM142.6,65.01l3.48,-6.01h-6.96z"/>
<path fill="#f4731c" stroke="#f4731c" d="M83.43,143.15h6.96l-3.48,-6.01zM90.39,143.15h6.96l-3.48,-6.01zM97.35,143.15h6.96l-3.48,-6.01zM104.31,143.15h6.96l-3.48,-6.01zM111.27,143.15h6.96l-3.48,-6.01zM118.23,143.15h6.96l-3.48,-6.01zM125.19,143.15h6.96l-3.48,-6.01zM132.16,143.15h6.96l-3.48,-6.01zM139.12,143.15h6.96l-3.48,-6.01zM146.08,143.15h6.96l-3.48,-6.01zM153.04,143.15h6.96l-3.48,-6.01zM160,143.15h6.96l-3.48,-6.01zM166.96,143.15h6.96l-3.48,-6.01zM173.92,143.15h6.96l-3.48,-6.01zM180.88,143.15h6.96l-3.48,-6.01zM187.84,143.15h6.96l-3.48,-6.01zM194.81,143.15h6.96l-3.48,-6.01zM201.77,143.15h6.96l-3.48,-6.01zM208.73,143.15h6.96l-3.48,-6.01zM215.69,143.15h6.96l-3.48,-6.01zM222.65,143.15h6.96l-3.48,-6.01zM229.61,143.15h6.96l-3.48,-6.01z"/>
<path fill="#f56b1b" stroke="#f56b1b" d="M90.39,143.15l3.48,-6.01h-6.96zM97.35,143.15l3.48,-6.01h-6.96zM104.31,143.15l3.48,-6.01h-6.96zM111.27,143.15l3.48,-6.01h-6.96zM118.23,143.15l3.48,-6.01h-6.96zM125.19,143.15l3.48,-6.01h-6.96zM132.16,143.15l3.48,-6.01h-6.96zM139.12,143.15l3.48,-6.01h-6.96zM146.08,143.15l3.48,-6.01h-6.96zM153.04,143.15l3.48,-6.01h-6.96zM160,143.15l3.48,-6.01h-6.96zM166.96,143.15l3.48,-6.01h-6.96zM173.92,143.15l3.48,-6.01h-6.96zM180.88,143.15l3.48,-6.01h-6.96zM187.84,143.15l3.48,-6.01h-6.96zM222.65,143.15l3.48,-6.01h-6.96zM229.61,143.15l3.48,-6.01h-6.96z"/>
<path fill="#f56a1b" stroke="#f56a1b" d="M194.81,143.15l3.48,-6.01h-6.96zM201.77,143.15l3.48,-6.01h-6.96zM208.73,143.15l3.48,-6.01h-6.96zM215.69,143.15l3.48,-6.01h-6.96z"/>
<path fill="#f75a18" stroke="#f75a18" d="M86.91,137.14h6.96l-3.48,-6.01zM93.87,137.14h6.96l-3.48,-6.01zM100.83,137.14h6.96l-3.48,-6.01zM107.79,137.14h6.96l-3.48,-6.01zM114.75,137.14h6.96l-3.48,-6.01zM121.71,137.14h6.96l-3.48,-6.01zM128.68,137.14h6.96l-3.48,-6.01zM135.64,137.14h6.96l-3.48,-6.01zM142.6,137.14h6.96l-3.48,-6.01zM149.56,137.14h6.96l-3.48,-6.01zM156.52,137.14h6.96l-3.48,-6.01zM163.48,137.14h6.96l-3.48,-6.01zM170.44,137.14h6.96l-3.48,-6.01zM177.4,137.14h6.96l-3.48,-6.01zM184.36,137.14h6.96l-3.48,-6.01zM226.13,137.14h6.96l-3.48,-6.01z"/>
<path fill="#f85217" stroke="#f85217" d="M93.87,137.14l3.48,-6.01h-6.96zM100.83,137.14l3.48,-6.01h-6.96zM107.79,137.14l3.48,-6.01h-6.96zM114.75,137.14l3.48,-6.01h-6.96zM121.71,137.14l3.48,-6.01h-6.96zM128.68,137.14l3.48,-6.01h-6.96zM135.64,137.14l3.48,-6.01h-6.96zM142.6,137.14l3.48,-6.01h-6.96zM149.56,137.14l3.48,-6.01h-6.96zM156.52,137.14l3.48,-6.01h-6.96zM163.48,137.14l3.48,-6.01h-6.96zM170.44,137.14l3.48,-6.01h-6.96z"/>
<path fill="#f85117" stroke="#f85117" d="M177.4,137.14l3.48,-6.01h-6.96z"/>
<path fill="#f85116" stroke="#f85116" d="M184.36,137.14l3.48,-6.01h-6.96zM191.32,137.14l3.48,-6.01h-6.96zM198.29,137.14l3.48,-6.01h-6.96zM205.25,137.14l3.48,-6.01h-6.96zM212.21,137.14l3.48,-6.01h-6.96zM219.17,137.14l3.48,-6.01h-6.96zM226.13,137.14l3.48,-6.01h-6.96z"/>
<path fill="#f75918" stroke="#f75918" d="M191.32,137.14h6.96l-3.48,-6.01zM198.29,137.14h6.96l-3.48,-6.01zM205.25,137.14h6.96l-3.48,-6.01zM212.21,137.14h6.96l-3.48,-6.01zM219.17,137.14h6.96l-3.48,-6.01z"/>
<path fill="#f94615" stroke="#f94615" d="M90.39,131.13h6.96l-3.48,-6.01zM97.35,131.13h6.96l-3.48,-6.01zM104.31,131.13h6.96l-3.48,-6.01zM111.27,131.13h6.96l-3.48,-6.01zM118.23,131.13h6.96l-3.48,-6.01zM125.19,131.13h6.96l-3.48,-6.01zM132.16,131.13h6.96l-3.48,-6.01zM139.12,131.13h6.96l-3.48,-6.01zM135.64,77.03l3.48,-6.01h-6.96zM146.08,71.02l3.48,-6.01h-6.96z"/>
<path fill="#f94014" stroke="#f94014" d="M97.35,131.13l3.48,-6.01h-6.96zM104.31,131.13l3.48,-6.01h-6.96zM111.27,131.13l3.48,-6.01h-6.96zM118.23,131.13l3.48,-6.01h-6.96zM125.19,131.13l3.48,-6.01h-6.96zM132.16,131.13l3.48,-6.01h-6.96zM139.12,131.13l3.48,-6.01h-6.96zM146.08,131.13l3.48,-6.01h-6.96z"/>
<path fill="#f94515" stroke="#f94515" d="M146.08,131.13h6.96l-3.48,-6.01zM153.04,131.13h6.96l-3.48,-6.01zM160,131.13h6.96l-3.48,-6.01zM166.96,131.13h6.96l-3.48,-6.01zM128.68,77.03h6.96l-3.48,-6.01z"/>
<path fill="#f93f14" stroke="#f93f14" d="M153.04,131.13l3.48,-6.01h-6.96zM160,131.13l3.48,-6.01h-6.96z"/>
<path fill="#fa3f14" stroke="#fa3f14" d="M166.96,131.13l3.48,-6.01h-6.96z"/>
<path fill="#fa3e13" stroke="#fa3e13" d="M173.92,131.13l3.48,-6.01h-6.96zM180.88,131.13l3.48,-6.01h-6.96zM160,58.99h6.96l-3.48,-6.01z"/>
<path fill="#f94414" stroke="#f94414" d="M173.92,131.13h6.96l-3.48,-6.01zM180.88,131.13h6.96l-3.48,-6.01zM222.65,131.13h6.96l-3.48,-6.01zM149.56,65.01h6.96l-3.48,-6.01z"/>
<path fill="#fa3d13" stroke="#fa3d13" d="M187.84,131.13l3.48,-6.01h-6.96zM222.65,131.13l3.48,-6.01h-6.96z"/>
<path fill="#f94314" stroke="#f94314" d="M187.84,131.13h6.96l-3.48,-6.01zM194.81,131.13h6.96l-3.48,-6.01zM201.77,131.13h6.96l-3.48,-6.01zM208.73,131.13h6.96l-3.48,-6.01zM215.69,131.13h6.96l-3.48,-6.01zM125.19,83.04l3.48,-6.01h-6.96z"/>
<path fill="#fa3c13" stroke="#fa3c13" d="M194.81,131.13l3.48,-6.01h-6.96zM201.77,131.13l3.48,-6.01h-6.96zM208.73,131.13l3.48,-6.01h-6.96zM215.69,131.13l3.48,-6.01h-6.96zM166.96,58.99l3.48,-6.01h-6.96z"/>
<path fill="#fb3412" stroke="#fb3412" d="M93.87,125.11h6.96l-3.48,-6.01zM100.83,125.11h6.96l-3.48,-6.01zM107.79,125.11h6.96l-3.48,-6.01zM114.75,125.11h6.96l-3.48,-6.01zM121.71,125.11h6.96l-3.48,-6.01zM128.68,125.11h6.96l-3.48,-6.01zM135.64,125.11h6.96l-3.48,-6.01zM142.6,125.11h6.96l-3.48,-6.01z"/>
<path fill="#fb2e11" stroke="#fb2e11" d="M100.83,125.11l3.48,-6.01h-6.96zM107.79,125.11l3.48,-6.01h-6.96zM114.75,125.11l3.48,-6.01h-6.96zM121.71,125.11l3.48,-6.01h-6.96zM128.68,125.11l3.48,-6.01h-6.96zM135.64,125.11l3.48,-6.01h-6.96zM142.6,125.11l3.48,-6.01h-6.96zM191.32,125.11h6.96l-3.48,-6.01zM198.29,125.11h6.96l-3.48,-6.01zM205.25,125.11h6.96l-3.48,-6.01zM212.21,125.11h6.96l-3.48,-6.01zM125.19,83.04h6.96l-3.48,-6.01zM132.16,83.04l3.48,-6.01h-6.96zM135.64,77.03h6.96l-3.48,-6.01zM142.6,77.03l3.48,-6.01h-6.96z"/>
<path fill="#fb2d11" stroke="#fb2d11" d="M149.56,125.11l3.48,-6.01h-6.96zM156.52,125.11l3.48,-6.01h-6.96zM114.75,89.05h6.96l-3.48,-6.01zM121.71,89.05l3.48,-6.01h-6.96z"/>
<path fill="#fb3312" stroke="#fb3312" d="M149.56,125.11h6.96l-3.48,-6.01zM156.52,125.11h6.96l-3.48,-6.01z"/>
<path fill="#fb2c11" stroke="#fb2c11" d="M163.48,125.11l3.48,-6.01h-6.96zM146.08,71.02h6.96l-3.48,-6.01z"/>
<path fill="#fb3212" stroke="#fb3212" d="M163.48,125.11h6.96l-3.48,-6.01z"/>
<path fill="#fb2b10" stroke="#fb2b10" d="M170.44,125.11l3.48,-6.01h-6.96z"/>
<path fill="#fb3111" stroke="#fb3111" d="M170.44,125.11h6.96l-3.48,-6.01z"/>
<path fill="#fc2a10" stroke="#fc2a10" d="M177.4,125.11l3.48,-6.01h-6.96zM153.04,71.02l3.48,-6.01h-6.96z"/>
<path fill="#fb3011" stroke="#fb3011" d="M177.4,125.11h6.96l-3.48,-6.01z"/>
<path fill="#fc2910" stroke="#fc2910" d="M184.36,125.11l3.48,-6.01h-6.96z"/>
<path fill="#fb2f11" stroke="#fb2f11" d="M184.36,125.11h6.96l-3.48,-6.01zM219.17,125.11h6.96l-3.48,-6.01z"/>
<path fill="#fc2710" stroke="#fc2710" d="M191.32,125.11l3.48,-6.01h-6.96zM219.17,125.11l3.48,-6.01h-6.96zM97.35,119.1h6.96l-3.48,-6.01zM104.31,119.1h6.96l-3.48,-6.01zM111.27,119.1h6.96l-3.48,-6.01zM118.23,119.1h6.96l-3.48,-6.01zM125.19,119.1h6.96l-3.48,-6.01zM132.16,119.1h6.96l-3.48,-6.01z"/>
<path fill="#fc2610" stroke="#fc2610" d="M198.29,125.11l3.48,-6.01h-6.96zM205.25,125.11l3.48,-6.01h-6.96zM212.21,125.11l3.48,-6.01h-6.96zM104.31,119.1l3.48,-6.01h-6.96zM111.27,119.1l3.48,-6.01h-6.96zM118.23,119.1l3.48,-6.01h-6.96zM125.19,119.1l3.48,-6.01h-6.96zM139.12,119.1h6.96l-3.48,-6.01zM146.08,119.1h6.96l-3.48,-6.01zM128.68,89.05l3.48,-6.01h-6.96z"/>
<path fill="#fc2510" stroke="#fc2510" d="M132.16,119.1l3.48,-6.01h-6.96z"/>
<path fill="#fc250f" stroke="#fc250f" d="M139.12,119.1l3.48,-6.01h-6.96zM146.08,119.1l3.48,-6.01h-6.96zM153.04,119.1h6.96l-3.48,-6.01zM118.23,95.06l3.48,-6.01h-6.96zM121.71,89.05h6.96l-3.48,-6.01zM132.16,83.04h6.96l-3.48,-6.01zM139.12,83.04l3.48,-6.01h-6.96zM156.52,65.01h6.96l-3.48,-6.01z"/>
<path fill="#fc240f" stroke="#fc240f" d="M153.04,119.1l3.48,-6.01h-6.96zM160,119.1h6.96l-3.48,-6.01zM111.27,95.06h6.96l-3.48,-6.01z"/>
<path fill="#fc230f" stroke="#fc230f" d="M160,119.1l3.48,-6.01h-6.96zM100.83,113.09h6.96l-3.48,-6.01zM107.79,113.09h6.96l-3.48,-6.01zM114.75,113.09h6.96l-3.48,-6.01zM121.71,113.09h6.96l-3.48,-6.01zM128.68,113.09h6.96l-3.48,-6.01zM135.64,113.09h6.96l-3.48,-6.01z"/>
<path fill="#fc210f" stroke="#fc210f" d="M166.96,119.1l3.48,-6.01h-6.96zM142.6,77.03h6.96l-3.48,-6.01zM163.48,65.01l3.48,-6.01h-6.96z"/>
<path fill="#fc220f" stroke="#fc220f" d="M166.96,119.1h6.96l-3.48,-6.01zM107.79,113.09l3.48,-6.01h-6.96zM114.75,113.09l3.48,-6.01h-6.96zM121.71,113.09l3.48,-6.01h-6.96zM128.68,113.09l3.48,-6.01h-6.96zM135.64,113.09l3.48,-6.01h-6.96zM142.6,113.09h6.96l-3.48,-6.01z"/>
<path fill="#fd1f0e" stroke="#fd1f0e" d="M173.92,119.1l3.48,-6.01h-6.96zM156.52,113.09h6.96l-3.48,-6.01zM139.12,107.08l3.48,-6.01h-6.96zM135.64,101.07l3.48,-6.01h-6.96zM132.16,95.06l3.48,-6.01h-6.96zM128.68,89.05h6.96l-3.48,-6.01zM149.56,77.03l3.48,-6.01h-6.96z"/>
<path fill="#fd200f" stroke="#fd200f" d="M173.92,119.1h6.96l-3.48,-6.01zM149.56,113.09l3.48,-6.01h-6.96zM104.31,107.08h6.96l-3.48,-6.01zM111.27,107.08l3.48,-6.01h-6.96zM111.27,107.08h6.96l-3.48,-6.01zM118.23,107.08l3.48,-6.01h-6.96zM118.23,107.08h6.96l-3.48,-6.01zM125.19,107.08l3.48,-6.01h-6.96zM125.19,107.08h6.96l-3.48,-6.01zM107.79,101.07h6.96l-3.48,-6.01zM114.75,101.07l3.48,-6.01h-6.96zM114.75,101.07h6.96l-3.48,-6.01zM121.71,101.07l3.48,-6.01h-6.96zM121.71,101.07h6.96l-3.48,-6.01zM118.23,95.06h6.96l-3.48,-6.01zM125.19,95.06l3.48,-6.01h-6.96z"/>
<path fill="#fd1c0e" stroke="#fd1c0e" d="M180.88,119.1l3.48,-6.01h-6.96zM187.84,119.1h6.96l-3.48,-6.01zM215.69,119.1h6.96l-3.48,-6.01zM163.48,113.09h6.96l-3.48,-6.01z"/>
<path fill="#fd1e0e" stroke="#fd1e0e" d="M180.88,119.1h6.96l-3.48,-6.01zM156.52,113.09l3.48,-6.01h-6.96zM139.12,107.08h6.96l-3.48,-6.01zM135.64,101.07h6.96l-3.48,-6.01zM132.16,95.06h6.96l-3.48,-6.01zM135.64,89.05l3.48,-6.01h-6.96z"/>
<path fill="#fa1c0e" stroke="#fa1c0e" d="M187.84,119.1l3.48,-6.01h-6.96zM149.56,101.07h6.96l-3.48,-6.01zM146.08,95.06h6.96l-3.48,-6.01zM142.6,89.05h6.96l-3.48,-6.01zM146.08,83.04l3.48,-6.01h-6.96z"/>
<path fill="#f71c0e" stroke="#f71c0e" d="M194.81,119.1l3.48,-6.01h-6.96zM153.04,71.02h6.96l-3.48,-6.01z"/>
<path fill="#fb1c0e" stroke="#fb1c0e" d="M194.81,119.1h6.96l-3.48,-6.01zM201.77,119.1h6.96l-3.48,-6.01zM208.73,119.1h6.96l-3.48,-6.01zM153.04,107.08h6.96l-3.48,-6.01zM149.56,101.07l3.48,-6.01h-6.96zM146.08,95.06l3.48,-6.01h-6.96z"/>
<path fill="#f61b0e" stroke="#f61b0e" d="M201.77,119.1l3.48,-6.01h-6.96zM208.73,119.1l3.48,-6.01h-6.96zM156.52,101.07l3.48,-6.01h-6.96zM153.04,95.06l3.48,-6.01h-6.96zM177.4,52.98h6.96l-3.48,-6.01z"/>
<path fill="#f71b0e" stroke="#f71b0e" d="M215.69,119.1l3.48,-6.01h-6.96zM160,107.08h6.96l-3.48,-6.01zM149.56,89.05l3.48,-6.01h-6.96z"/>
<path fill="#fd210f" stroke="#fd210f" d="M142.6,113.09l3.48,-6.01h-6.96zM149.56,113.09h6.96l-3.48,-6.01z"/>
<path fill="#fc1c0e" stroke="#fc1c0e" d="M163.48,113.09l3.48,-6.01h-6.96zM153.04,107.08l3.48,-6.01h-6.96zM142.6,89.05l3.48,-6.01h-6.96zM139.12,83.04h6.96l-3.48,-6.01zM166.96,58.99h6.96l-3.48,-6.01z"/>
<path fill="#f81c0e" stroke="#f81c0e" d="M170.44,113.09l3.48,-6.01h-6.96zM160,107.08l3.48,-6.01h-6.96zM173.92,58.99l3.48,-6.01h-6.96z"/>
<path fill="#f91c0e" stroke="#f91c0e" d="M170.44,113.09h6.96l-3.48,-6.01z"/>
<path fill="#f31b0e" stroke="#f31b0e" d="M177.4,113.09l3.48,-6.01h-6.96zM153.04,95.06h6.96l-3.48,-6.01z"/>
<path fill="#f51b0e" stroke="#f51b0e" d="M177.4,113.09h6.96l-3.48,-6.01zM146.08,83.04h6.96l-3.48,-6.01z"/>
<path fill="#ed1b0e" stroke="#ed1b0e" d="M184.36,113.09l3.48,-6.01h-6.96zM160,95.06l3.48,-6.01h-6.96zM156.52,77.03l3.48,-6.01h-6.96z"/>
<path fill="#f01b0e" stroke="#f01b0e" d="M184.36,113.09h6.96l-3.48,-6.01zM153.04,83.04l3.48,-6.01h-6.96z"/>
<path fill="#e81a0e" stroke="#e81a0e" d="M191.32,113.09l3.48,-6.01h-6.96z"/>
<path fill="#ec1b0e" stroke="#ec1b0e" d="M191.32,113.09h6.96l-3.48,-6.01zM163.48,101.07h6.96l-3.48,-6.01z"/>
<path fill="#e41a0e" stroke="#e41a0e" d="M198.29,113.09l3.48,-6.01h-6.96zM163.48,65.01h6.96l-3.48,-6.01z"/>
<path fill="#ea1a0e" stroke="#ea1a0e" d="M198.29,113.09h6.96l-3.48,-6.01zM205.25,113.09h6.96l-3.48,-6.01z"/>
<path fill="#e21a0e" stroke="#e21a0e" d="M205.25,113.09l3.48,-6.01h-6.96zM156.52,77.03h6.96l-3.48,-6.01z"/>
<path fill="#e31a0e" stroke="#e31a0e" d="M212.21,113.09l3.48,-6.01h-6.96zM170.44,101.07l3.48,-6.01h-6.96zM160,83.04l3.48,-6.01h-6.96z"/>
<path fill="#eb1b0e" stroke="#eb1b0e" d="M212.21,113.09h6.96l-3.48,-6.01zM153.04,83.04h6.96l-3.48,-6.01z"/>
<path fill="#fd1f0f" stroke="#fd1f0f" d="M132.16,107.08l3.48,-6.01h-6.96zM132.16,107.08h6.96l-3.48,-6.01zM128.68,101.07l3.48,-6.01h-6.96zM128.68,101.07h6.96l-3.48,-6.01zM125.19,95.06h6.96l-3.48,-6.01z"/>
<path fill="#fd1d0e" stroke="#fd1d0e" d="M146.08,107.08l3.48,-6.01h-6.96zM146.08,107.08h6.96l-3.48,-6.01zM142.6,101.07l3.48,-6.01h-6.96zM142.6,101.07h6.96l-3.48,-6.01zM139.12,95.06l3.48,-6.01h-6.96zM139.12,95.06h6.96l-3.48,-6.01zM135.64,89.05h6.96l-3.48,-6.01z"/>
<path fill="#f11b0e" stroke="#f11b0e" d="M166.96,107.08l3.48,-6.01h-6.96zM166.96,107.08h6.96l-3.48,-6.01zM160,71.02l3.48,-6.01h-6.96z"/>
<path fill="#e91a0e" stroke="#e91a0e" d="M173.92,107.08l3.48,-6.01h-6.96zM173.92,107.08h6.96l-3.48,-6.01zM160,95.06h6.96l-3.48,-6.01zM156.52,89.05h6.96l-3.48,-6.01z"/>
<path fill="#e01a0e" stroke="#e01a0e" d="M180.88,107.08l3.48,-6.01h-6.96zM166.96,95.06l3.48,-6.01h-6.96zM163.48,89.05l3.48,-6.01h-6.96z"/>
<path fill="#e11a0e" stroke="#e11a0e" d="M180.88,107.08h6.96l-3.48,-6.01zM170.44,101.07h6.96l-3.48,-6.01z"/>
<path fill="#d6190d" stroke="#d6190d" d="M187.84,107.08l3.48,-6.01h-6.96zM177.4,101.07l3.48,-6.01h-6.96zM166.96,71.02l3.48,-6.01h-6.96z"/>
<path fill="#d9190d" stroke="#d9190d" d="M187.84,107.08h6.96l-3.48,-6.01zM163.48,77.03l3.48,-6.01h-6.96z"/>
<path fill="#cf180d" stroke="#cf180d" d="M194.81,107.08l3.48,-6.01h-6.96zM173.92,95.06l3.48,-6.01h-6.96z"/>
<path fill="#d4190d" stroke="#d4190d" d="M194.81,107.08h6.96l-3.48,-6.01z"/>
<path fill="#ca180d" stroke="#ca180d" d="M201.77,107.08l3.48,-6.01h-6.96z"/>
<path fill="#d1180d" stroke="#d1180d" d="M201.77,107.08h6.96l-3.48,-6.01zM173.92,58.99h6.96l-3.48,-6.01z"/>
<path fill="#c9180d" stroke="#c9180d" d="M208.73,107.08l3.48,-6.01h-6.96z"/>
<path fill="#d3180d" stroke="#d3180d" d="M208.73,107.08h6.96l-3.48,-6.01z"/>
<path fill="#f41b0e" stroke="#f41b0e" d="M156.52,101.07h6.96l-3.48,-6.01zM149.56,89.05h6.96l-3.48,-6.01z"/>
<path fill="#ee1b0e" stroke="#ee1b0e" d="M163.48,101.07l3.48,-6.01h-6.96zM156.52,89.05l3.48,-6.01h-6.96z"/>
<path fill="#d5190d" stroke="#d5190d" d="M177.4,101.07h6.96l-3.48,-6.01z"/>
<path fill="#c7170d" stroke="#c7170d" d="M184.36,101.07l3.48,-6.01h-6.96zM166.96,83.04h6.96l-3.48,-6.01z"/>
<path fill="#c8180d" stroke="#c8180d" d="M184.36,101.07h6.96l-3.48,-6.01z"/>
<path fill="#ba160d" stroke="#ba160d" d="M191.32,101.07l3.48,-6.01h-6.96z"/>
<path fill="#be170d" stroke="#be170d" d="M191.32,101.07h6.96l-3.48,-6.01z"/>
<path fill="#b0150d" stroke="#b0150d" d="M198.29,101.07l3.48,-6.01h-6.96z"/>
<path fill="#b7160d" stroke="#b7160d" d="M198.29,101.07h6.96l-3.48,-6.01zM205.25,101.07h6.96l-3.48,-6.01z"/>
<path fill="#ac150d" stroke="#ac150d" d="M205.25,101.07l3.48,-6.01h-6.96z"/>
<path fill="#db190d" stroke="#db190d" d="M166.96,95.06h6.96l-3.48,-6.01z"/>
<path fill="#cb180d" stroke="#cb180d" d="M173.92,95.06h6.96l-3.48,-6.01z"/>
<path fill="#bb160d" stroke="#bb160d" d="M180.88,95.06l3.48,-6.01h-6.96z"/>
<path fill="#b8160d" stroke="#b8160d" d="M180.88,95.06h6.96l-3.48,-6.01zM173.92,83.04l3.48,-6.01h-6.96zM173.92,71.02l3.48,-6.01h-6.96z"/>
<path fill="#a7150d" stroke="#a7150d" d="M187.84,95.06l3.48,-6.01h-6.96z"/>
<path fill="#a8150d" stroke="#a8150d" d="M187.84,95.06h6.96l-3.48,-6.01zM173.92,71.02h6.96l-3.48,-6.01z"/>
<path fill="#97130c" stroke="#97130c" d="M194.81,95.06l3.48,-6.01h-6.96zM184.36,89.05h6.96l-3.48,-6.01zM177.4,77.03h6.96l-3.48,-6.01z"/>
<path fill="#9b140c" stroke="#9b140c" d="M194.81,95.06h6.96l-3.48,-6.01zM180.88,83.04l3.48,-6.01h-6.96zM180.88,71.02l3.48,-6.01h-6.96z"/>
<path fill="#8d130c" stroke="#8d130c" d="M201.77,95.06l3.48,-6.01h-6.96z"/>
<path fill="#96130c" stroke="#96130c" d="M201.77,95.06h6.96l-3.48,-6.01z"/>
<path fill="#da190d" stroke="#da190d" d="M163.48,89.05h6.96l-3.48,-6.01z"/>
<path fill="#cd180d" stroke="#cd180d" d="M170.44,89.05l3.48,-6.01h-6.96zM180.88,58.99l3.48,-6.01h-6.96z"/>
<path fill="#c6170d" stroke="#c6170d" d="M170.44,89.05h6.96l-3.48,-6.01z"/>
<path fill="#b5160d" stroke="#b5160d" d="M177.4,89.05l3.48,-6.01h-6.96zM170.44,77.03h6.96l-3.48,-6.01z"/>
<path fill="#ae150d" stroke="#ae150d" d="M177.4,89.05h6.96l-3.48,-6.01z"/>
<path fill="#9c140c" stroke="#9c140c" d="M184.36,89.05l3.48,-6.01h-6.96zM184.36,65.01l3.48,-6.01h-6.96z"/>
<path fill="#87120c" stroke="#87120c" d="M191.32,89.05l3.48,-6.01h-6.96zM191.32,89.05h6.96l-3.48,-6.01zM198.29,89.05l3.48,-6.01h-6.96zM198.29,89.05h6.96l-3.48,-6.01zM187.84,83.04l3.48,-6.01h-6.96zM187.84,83.04h6.96l-3.48,-6.01zM194.81,83.04l3.48,-6.01h-6.96zM194.81,83.04h6.96l-3.48,-6.01zM184.36,77.03l3.48,-6.01h-6.96zM184.36,77.03h6.96l-3.48,-6.01zM191.32,77.03l3.48,-6.01h-6.96zM191.32,77.03h6.96l-3.48,-6.01zM187.84,71.02l3.48,-6.01h-6.96zM187.84,71.02h6.96l-3.48,-6.01z"/>
<path fill="#f94114" stroke="#f94114" d="M118.23,83.04h6.96l-3.48,-6.01z"/>
<path fill="#dc190d" stroke="#dc190d" d="M160,83.04h6.96l-3.48,-6.01z"/>
<path fill="#d0180d" stroke="#d0180d" d="M166.96,83.04l3.48,-6.01h-6.96z"/>
<path fill="#ad150d" stroke="#ad150d" d="M173.92,83.04h6.96l-3.48,-6.01z"/>
<path fill="#91130c" stroke="#91130c" d="M180.88,83.04h6.96l-3.48,-6.01z"/>
<path fill="#f75c18" stroke="#f75c18" d="M121.71,77.03h6.96l-3.48,-6.01z"/>
<path fill="#f65d18" stroke="#f65d18" d="M128.68,77.03l3.48,-6.01h-6.96z"/>
<path fill="#f21b0e" stroke="#f21b0e" d="M149.56,77.03h6.96l-3.48,-6.01z"/>
<path fill="#ce180d" stroke="#ce180d" d="M163.48,77.03h6.96l-3.48,-6.01z"/>
<path fill="#c2170d" stroke="#c2170d" d="M170.44,77.03l3.48,-6.01h-6.96z"/>
<path fill="#a6150d" stroke="#a6150d" d="M177.4,77.03l3.48,-6.01h-6.96z"/>
<path fill="#f37e1e" stroke="#f37e1e" d="M125.19,71.02h6.96l-3.48,-6.01z"/>
<path fill="#f37f1e" stroke="#f37f1e" d="M132.16,71.02l3.48,-6.01h-6.96z"/>
<path fill="#f66019" stroke="#f66019" d="M132.16,71.02h6.96l-3.48,-6.01zM163.48,52.98h6.96l-3.48,-6.01zM170.44,52.98l3.48,-6.01h-6.96z"/>
<path fill="#f66119" stroke="#f66119" d="M139.12,71.02l3.48,-6.01h-6.96zM160,58.99l3.48,-6.01h-6.96z"/>
<path fill="#f94715" stroke="#f94715" d="M139.12,71.02h6.96l-3.48,-6.01z"/>
<path fill="#de190d" stroke="#de190d" d="M160,71.02h6.96l-3.48,-6.01z"/>
<path fill="#c3170d" stroke="#c3170d" d="M166.96,71.02h6.96l-3.48,-6.01z"/>
<path fill="#8a120c" stroke="#8a120c" d="M180.88,71.02h6.96l-3.48,-6.01z"/>
<path fill="#f1aa28" stroke="#f1aa28" d="M128.68,65.01h6.96l-3.48,-6.01z"/>
<path fill="#f1ac28" stroke="#f1ac28" d="M135.64,65.01l3.48,-6.01h-6.96z"/>
<path fill="#f3831f" stroke="#f3831f" d="M135.64,65.01h6.96l-3.48,-6.01z"/>
<path fill="#f66219" stroke="#f66219" d="M142.6,65.01h6.96l-3.48,-6.01zM149.56,65.01l3.48,-6.01h-6.96zM153.04,58.99h6.96l-3.48,-6.01zM173.92,46.97h6.96l-3.48,-6.01z"/>
<path fill="#f94214" stroke="#f94214" d="M156.52,65.01l3.48,-6.01h-6.96z"/>
<path fill="#dd190d" stroke="#dd190d" d="M170.44,65.01l3.48,-6.01h-6.96z"/>
<path fill="#c5170d" stroke="#c5170d" d="M170.44,65.01h6.96l-3.48,-6.01z"/>
<path fill="#bd170d" stroke="#bd170d" d="M177.4,65.01l3.48,-6.01h-6.96z"/>
<path fill="#a3140c" stroke="#a3140c" d="M177.4,65.01h6.96l-3.48,-6.01z"/>
<path fill="#89120c" stroke="#89120c" d="M184.36,65.01h6.96l-3.48,-6.01z"/>
<path fill="#efd933" stroke="#efd933" d="M132.16,58.99h6.96l-3.48,-6.01z"/>
<path fill="#efdc34" stroke="#efdc34" d="M139.12,58.99l3.48,-6.01h-6.96z"/>
<path fill="#f1b029" stroke="#f1b029" d="M139.12,58.99h6.96l-3.48,-6.01z"/>
<path fill="#f1b22a" stroke="#f1b22a" d="M146.08,58.99l3.48,-6.01h-6.96z"/>
<path fill="#f3861f" stroke="#f3861f" d="M146.08,58.99h6.96l-3.48,-6.01z"/>
<path fill="#f38720" stroke="#f38720" d="M153.04,58.99l3.48,-6.01h-6.96zM156.52,52.98h6.96l-3.48,-6.01zM163.48,52.98l3.48,-6.01h-6.96z"/>
<path fill="#b3160d" stroke="#b3160d" d="M180.88,58.99h6.96l-3.48,-6.01z"/>
<path fill="#e4ff45" stroke="#e4ff45" d="M135.64,52.98h6.96l-3.48,-6.01z"/>
<path fill="#efe035" stroke="#efe035" d="M142.6,52.98h6.96l-3.48,-6.01z"/>
<path fill="#efe235" stroke="#efe235" d="M149.56,52.98l3.48,-6.01h-6.96z"/>
<path fill="#f1b62b" stroke="#f1b62b" d="M156.52,52.98l3.48,-6.01h-6.96z"/>
<path fill="#fa3913" stroke="#fa3913" d="M170.44,52.98h6.96l-3.48,-6.01zM177.4,52.98l3.48,-6.01h-6.96z"/>
<path fill="#b6ff6c" stroke="#b6ff6c" d="M139.12,46.97h6.96l-3.48,-6.01z"/>
<path fill="#b3ff6e" stroke="#b3ff6e" d="M146.08,46.97l3.48,-6.01h-6.96z"/>
<path fill="#dcff4b" stroke="#dcff4b" d="M146.08,46.97h6.96l-3.48,-6.01z"/>
<path fill="#efe536" stroke="#efe536" d="M153.04,46.97h6.96l-3.48,-6.01z"/>
<path fill="#efe736" stroke="#efe736" d="M160,46.97l3.48,-6.01h-6.96z"/>
<path fill="#f1b82b" stroke="#f1b82b" d="M160,46.97h6.96l-3.48,-6.01z"/>
<path fill="#f1ba2c" stroke="#f1ba2c" d="M166.96,46.97l3.48,-6.01h-6.96z"/>
<path fill="#f38920" stroke="#f38920" d="M166.96,46.97h6.96l-3.48,-6.01z"/>
<path fill="#f38b21" stroke="#f38b21" d="M173.92,46.97l3.48,-6.01h-6.96z"/>
<path fill="#92ff99" stroke="#92ff99" d="M142.6,40.96h6.96l-3.48,-6.01z"/>
<path fill="#91ff9d" stroke="#91ff9d" d="M149.56,40.96l3.48,-6.01h-6.96z"/>
<path fill="#aeff72" stroke="#aeff72" d="M149.56,40.96h6.96l-3.48,-6.01z"/>
<path fill="#abff75" stroke="#abff75" d="M156.52,40.96l3.48,-6.01h-6.96z"/>
<path fill="#d5ff51" stroke="#d5ff51" d="M156.52,40.96h6.96l-3.48,-6.01z"/>
<path fill="#d2ff54" stroke="#d2ff54" d="M163.48,40.96l3.48,-6.01h-6.96z"/>
<path fill="#efec37" stroke="#efec37" d="M163.48,40.96h6.96l-3.48,-6.01z"/>
<path fill="#f1bf2d" stroke="#f1bf2d" d="M170.44,40.96h6.96l-3.48,-6.01z"/>
<path fill="#84ffdb" stroke="#84ffdb" d="M146.08,34.95h6.96l-3.48,-6.01z"/>
<path fill="#83ffdf" stroke="#83ffdf" d="M153.04,34.95l3.48,-6.01h-6.96z"/>
<path fill="#90ffa4" stroke="#90ffa4" d="M153.04,34.95h6.96l-3.48,-6.01z"/>
<path fill="#8fffa8" stroke="#8fffa8" d="M160,34.95l3.48,-6.01h-6.96z"/>
<path fill="#a6ff79" stroke="#a6ff79" d="M160,34.95h6.96l-3.48,-6.01z"/>
<path fill="#a3ff7c" stroke="#a3ff7c" d="M166.96,34.95l3.48,-6.01h-6.96z"/>
<path fill="#cdff58" stroke="#cdff58" d="M166.96,34.95h6.96l-3.48,-6.01z"/>
<path fill="#6bd3fc" stroke="#6bd3fc" d="M149.56,28.94h6.96l-3.48,-6.01z"/>
<path fill="#69cefc" stroke="#69cefc" d="M156.52,28.94l3.48,-6.01h-6.96z"/>
<path fill="#81ffe8" stroke="#81ffe8" d="M156.52,28.94h6.96l-3.48,-6.01z"/>
<path fill="#80ffed" stroke="#80ffed" d="M163.48,28.94l3.48,-6.01h-6.96z"/>
<path fill="#8dffb0" stroke="#8dffb0" d="M163.48,28.94h6.96l-3.48,-6.01z"/>
<path fill="#3753ff" stroke="#3753ff" d="M153.04,22.93h6.96l-3.48,-6.01z"/>
<path fill="#3249ff" stroke="#3249ff" d="M160,22.93l3.48,-6.01h-6.96z"/>
<path fill="#65c3fc" stroke="#65c3fc" d="M160,22.93h6.96l-3.48,-6.01z"/>
</g>
</g>
<path d="M144.34,37.96L253.98,227.3M128.68,65.01L222.65,227.3M113.01,92.05L191.32,227.3M97.35,119.1L160,227.3M81.69,146.15L128.68,227.3M66.03,173.2L97.35,227.3M50.36,200.25L66.03,227.3" fill="none" stroke="#2418c8" stroke-width="0.7" stroke-dasharray="2.3 1.5"/>
<path d="M66.03,227.3L175.66,37.96M97.35,227.3L191.32,65.01M128.68,227.3L206.99,92.05M160,227.3L222.65,119.1M191.32,227.3L238.31,146.15M222.65,227.3L253.98,173.2M253.98,227.3L269.64,200.25" fill="none" stroke="#e83030" stroke-width="0.7" stroke-dasharray="2.3 1.5"/>
<path d="M50.36,200.5H269.64M66.03,173.5H253.98M81.69,146.5H238.31M97.35,119.5H222.65M113.01,92.5H206.99M128.68,65.5H191.32M144.34,37.5H175.66" fill="none" stroke="#202020" stroke-width="0.62" stroke-dasharray="2.5 1.4"/>
<polygon points="34.7,227.3 285.3,227.3 160,10.91" fill="none" stroke="#000" stroke-width="0.7" stroke-linejoin="round"/>
<circle cx="34.7" cy="227.3" r="3.2" fill="#fff" stroke="#000" stroke-width="1"/>
<circle cx="285.3" cy="227.3" r="3.2" fill="#fff" stroke="#000" stroke-width="1"/>
<circle cx="160" cy="10.91" r="3.2" fill="#fff" stroke="#000" stroke-width="1"/>
<g font-family='"Liberation Serif","DejaVu Serif",serif' font-size="11.2" letter-spacing="0.18" fill="#1a1aff" stroke="#1a1aff" stroke-width="0.22">
<text x="125.4" y="13.78">0</text>
<text x="109.74" y="40.91">0.125</text>
<text x="94.08" y="68.04">0.25</text>
<text x="78.41" y="95.16">0.375</text>
<text x="62.75" y="122.29">0.5</text>
<text x="47.09" y="149.42">0.625</text>
<text x="31.42" y="176.55">0.75</text>
<text x="15.76" y="203.67">0.875</text>
<text x="0.1" y="230.8">1</text>
</g>
<g font-family='"Liberation Serif","DejaVu Serif",serif' font-size="11.2" letter-spacing="0.18" fill="#1a1a1a" stroke="#1a1a1a" stroke-width="0.22">
<text x="290.5" y="225.5">0</text>
<text x="274.84" y="198.37">0.125</text>
<text x="259.18" y="171.25">0.25</text>
<text x="243.51" y="144.12">0.375</text>
<text x="227.85" y="116.99">0.5</text>
<text x="212.19" y="89.86">0.625</text>
<text x="196.52" y="62.74">0.75</text>
<text x="180.86" y="35.61">0.875</text>
<text x="165.2" y="9.28">1</text>
</g>
<g font-family='"Liberation Serif","DejaVu Serif",serif' font-size="11.2" letter-spacing="0.18" fill="#e8222c" stroke="#e8222c" stroke-width="0.22">
<text x="34.9" y="241.6">0</text>
<text x="66.23" y="241.6">0.125</text>
<text x="97.55" y="241.6">0.25</text>
<text x="128.88" y="241.6">0.375</text>
<text x="160.2" y="241.6">0.5</text>
<text x="191.52" y="241.6">0.625</text>
<text x="222.85" y="241.6">0.75</text>
<text x="254.18" y="241.6">0.875</text>
<text x="285.5" y="241.6">1</text>
</g>
<text transform="translate(57.75,109.3) rotate(-60)" text-anchor="middle" font-family='"Liberation Serif","DejaVu Serif",serif' font-size="14.6" fill="#1a1aff" stroke="#1a1aff" stroke-width="0.3">Ge</text>
<text transform="translate(257.35,108.2) rotate(60)" text-anchor="middle" font-family='"Liberation Serif","DejaVu Serif",serif' font-size="14.6" fill="#1a1a1a" stroke="#1a1a1a" stroke-width="0.3">Sn</text>
<text x="160.2" y="255.7" text-anchor="middle" font-family='"Liberation Serif","DejaVu Serif",serif' font-size="14.4" fill="#e8222c" stroke="#e8222c" stroke-width="0.3">Si</text>
<text x="31" y="36.7" font-family='"Liberation Sans","DejaVu Sans",sans-serif' font-size="15.4" letter-spacing="0.4" fill="#111" stroke="#111" stroke-width="0.2">(a)AL1:ρ</text>
<rect x="309.8" y="10.2" width="10" height="217.1" fill="url(#jet)" stroke="#501010" stroke-opacity="0.5" stroke-width="0.4"/>
<path d="M309.8,44.2h1.8M319.8,44.2h-1.8M309.8,85.3h1.8M319.8,85.3h-1.8M309.8,126.4h1.8M319.8,126.4h-1.8M309.8,167.5h1.8M319.8,167.5h-1.8M309.8,208.6h1.8M319.8,208.6h-1.8" stroke="#222" stroke-width="0.5" fill="none"/>
<g font-family='"Liberation Serif","DejaVu Serif",serif' font-size="11.2" letter-spacing="0.18" fill="#1a1a1a" stroke="#1a1a1a" stroke-width="0.22">
<text x="322.3" y="47.3">0.25</text>
<text x="322.3" y="88.4">0.2</text>
<text x="322.3" y="129.5">0.15</text>
<text x="322.3" y="170.6">0.1</text>
<text x="322.3" y="211.7">0.05</text>
</g>
</g>
<g id="panel-b">
<g clip-path="url(#cpb)"><g filter="url(#sm)">
<path fill="#1300e8" stroke="#1300e8" d="M34.7,486.8h6.96l-3.48,-6.01zM38.18,480.79h6.96l-3.48,-6.01zM79.95,480.79l3.48,-6.01h-6.96zM163.48,480.79h6.96l-3.48,-6.01z"/>
<path fill="#1300e7" stroke="#1300e7" d="M41.66,486.8l3.48,-6.01h-6.96zM229.61,486.8l3.48,-6.01h-6.96zM45.14,480.79l3.48,-6.01h-6.96zM52.1,480.79l3.48,-6.01h-6.96zM79.95,480.79h6.96l-3.48,-6.01zM93.87,480.79h6.96l-3.48,-6.01zM100.83,480.79h6.96l-3.48,-6.01zM107.79,480.79h6.96l-3.48,-6.01zM114.75,480.79h6.96l-3.48,-6.01zM121.71,480.79h6.96l-3.48,-6.01zM128.68,480.79h6.96l-3.48,-6.01zM135.64,480.79h6.96l-3.48,-6.01zM142.6,480.79h6.96l-3.48,-6.01zM149.56,480.79h6.96l-3.48,-6.01zM156.52,480.79h6.96l-3.48,-6.01z"/>
<path fill="#1300e4" stroke="#1300e4" d="M41.66,486.8h6.96l-3.48,-6.01zM72.99,480.79l3.48,-6.01h-6.96z"/>
<path fill="#1300e3" stroke="#1300e3" d="M48.62,486.8l3.48,-6.01h-6.96zM229.61,486.8h6.96l-3.48,-6.01z"/>
<path fill="#1300e1" stroke="#1300e1" d="M48.62,486.8h6.96l-3.48,-6.01zM55.58,486.8l3.48,-6.01h-6.96z"/>
<path fill="#1300de" stroke="#1300de" d="M55.58,486.8h6.96l-3.48,-6.01zM62.54,486.8l3.48,-6.01h-6.96z"/>
<path fill="#1300da" stroke="#1300da" d="M62.54,486.8h6.96l-3.48,-6.01z"/>
<path fill="#1300dc" stroke="#1300dc" d="M69.51,486.8l3.48,-6.01h-6.96z"/>
<path fill="#1200d5" stroke="#1200d5" d="M69.51,486.8h6.96l-3.48,-6.01zM173.92,486.8l3.48,-6.01h-6.96z"/>
<path fill="#1300d6" stroke="#1300d6" d="M76.47,486.8l3.48,-6.01h-6.96zM90.39,486.8l3.48,-6.01h-6.96zM180.88,486.8l3.48,-6.01h-6.96zM201.77,486.8h6.96l-3.48,-6.01z"/>
<path fill="#1200d0" stroke="#1200d0" d="M76.47,486.8h6.96l-3.48,-6.01zM83.43,486.8h6.96l-3.48,-6.01z"/>
<path fill="#1300db" stroke="#1300db" d="M83.43,486.8l3.48,-6.01h-6.96z"/>
<path fill="#1200ca" stroke="#1200ca" d="M90.39,486.8h6.96l-3.48,-6.01z"/>
<path fill="#1200d2" stroke="#1200d2" d="M97.35,486.8l3.48,-6.01h-6.96zM104.31,486.8l3.48,-6.01h-6.96zM111.27,486.8l3.48,-6.01h-6.96zM118.23,486.8l3.48,-6.01h-6.96zM125.19,486.8l3.48,-6.01h-6.96zM132.16,486.8l3.48,-6.01h-6.96zM139.12,486.8l3.48,-6.01h-6.96zM146.08,486.8l3.48,-6.01h-6.96zM153.04,486.8l3.48,-6.01h-6.96zM160,486.8l3.48,-6.01h-6.96z"/>
<path fill="#1200c8" stroke="#1200c8" d="M97.35,486.8h6.96l-3.48,-6.01zM104.31,486.8h6.96l-3.48,-6.01zM111.27,486.8h6.96l-3.48,-6.01zM118.23,486.8h6.96l-3.48,-6.01zM125.19,486.8h6.96l-3.48,-6.01zM132.16,486.8h6.96l-3.48,-6.01zM139.12,486.8h6.96l-3.48,-6.01zM146.08,486.8h6.96l-3.48,-6.01zM153.04,486.8h6.96l-3.48,-6.01z"/>
<path fill="#1200c9" stroke="#1200c9" d="M160,486.8h6.96l-3.48,-6.01z"/>
<path fill="#1200d4" stroke="#1200d4" d="M166.96,486.8l3.48,-6.01h-6.96z"/>
<path fill="#1200cb" stroke="#1200cb" d="M166.96,486.8h6.96l-3.48,-6.01z"/>
<path fill="#1200cc" stroke="#1200cc" d="M173.92,486.8h6.96l-3.48,-6.01z"/>
<path fill="#1200ce" stroke="#1200ce" d="M180.88,486.8h6.96l-3.48,-6.01z"/>
<path fill="#1300d8" stroke="#1300d8" d="M187.84,486.8l3.48,-6.01h-6.96z"/>
<path fill="#1200cf" stroke="#1200cf" d="M187.84,486.8h6.96l-3.48,-6.01z"/>
<path fill="#1300d9" stroke="#1300d9" d="M194.81,486.8l3.48,-6.01h-6.96zM208.73,486.8h6.96l-3.48,-6.01z"/>
<path fill="#1200d3" stroke="#1200d3" d="M194.81,486.8h6.96l-3.48,-6.01z"/>
<path fill="#1300dd" stroke="#1300dd" d="M201.77,486.8l3.48,-6.01h-6.96zM215.69,486.8h6.96l-3.48,-6.01zM72.99,480.79h6.96l-3.48,-6.01z"/>
<path fill="#1300df" stroke="#1300df" d="M208.73,486.8l3.48,-6.01h-6.96z"/>
<path fill="#1300e2" stroke="#1300e2" d="M215.69,486.8l3.48,-6.01h-6.96zM59.06,480.79h6.96l-3.48,-6.01zM66.03,480.79h6.96l-3.48,-6.01z"/>
<path fill="#1300e5" stroke="#1300e5" d="M222.65,486.8l3.48,-6.01h-6.96zM52.1,480.79h6.96l-3.48,-6.01zM59.06,480.79l3.48,-6.01h-6.96zM66.03,480.79l3.48,-6.01h-6.96z"/>
<path fill="#1300e0" stroke="#1300e0" d="M222.65,486.8h6.96l-3.48,-6.01z"/>
<path fill="#1300eb" stroke="#1300eb" d="M236.57,486.8l3.48,-6.01h-6.96zM41.66,474.78h6.96l-3.48,-6.01zM48.62,474.78h6.96l-3.48,-6.01z"/>
<path fill="#1300e6" stroke="#1300e6" d="M236.57,486.8h6.96l-3.48,-6.01zM45.14,480.79h6.96l-3.48,-6.01z"/>
<path fill="#1300ec" stroke="#1300ec" d="M243.53,486.8l3.48,-6.01h-6.96zM55.58,474.78h6.96l-3.48,-6.01zM62.54,474.78h6.96l-3.48,-6.01zM69.51,474.78h6.96l-3.48,-6.01z"/>
<path fill="#1300ea" stroke="#1300ea" d="M243.53,486.8h6.96l-3.48,-6.01zM184.36,480.79h6.96l-3.48,-6.01zM191.32,480.79h6.96l-3.48,-6.01z"/>
<path fill="#1300f0" stroke="#1300f0" d="M250.49,486.8l3.48,-6.01h-6.96zM212.21,480.79h6.96l-3.48,-6.01z"/>
<path fill="#1300ed" stroke="#1300ed" d="M250.49,486.8h6.96l-3.48,-6.01z"/>
<path fill="#1300f1" stroke="#1300f1" d="M257.46,486.8l3.48,-6.01h-6.96zM264.42,486.8h6.96l-3.48,-6.01zM93.87,480.79l3.48,-6.01h-6.96zM100.83,480.79l3.48,-6.01h-6.96zM107.79,480.79l3.48,-6.01h-6.96zM114.75,480.79l3.48,-6.01h-6.96zM121.71,480.79l3.48,-6.01h-6.96zM128.68,480.79l3.48,-6.01h-6.96zM135.64,480.79l3.48,-6.01h-6.96zM142.6,480.79l3.48,-6.01h-6.96zM149.56,480.79l3.48,-6.01h-6.96zM156.52,480.79l3.48,-6.01h-6.96zM163.48,480.79l3.48,-6.01h-6.96zM48.62,474.78l3.48,-6.01h-6.96zM55.58,474.78l3.48,-6.01h-6.96z"/>
<path fill="#1300ef" stroke="#1300ef" d="M257.46,486.8h6.96l-3.48,-6.01z"/>
<path fill="#1400f3" stroke="#1400f3" d="M264.42,486.8l3.48,-6.01h-6.96zM184.36,480.79l3.48,-6.01h-6.96zM226.13,480.79h6.96l-3.48,-6.01z"/>
<path fill="#1400f4" stroke="#1400f4" d="M271.38,486.8l3.48,-6.01h-6.96zM278.34,486.8h6.96l-3.48,-6.01zM86.91,480.79l3.48,-6.01h-6.96zM191.32,480.79l3.48,-6.01h-6.96zM198.29,480.79l3.48,-6.01h-6.96z"/>
<path fill="#1400f2" stroke="#1400f2" d="M271.38,486.8h6.96l-3.48,-6.01zM170.44,480.79l3.48,-6.01h-6.96zM177.4,480.79l3.48,-6.01h-6.96zM219.17,480.79h6.96l-3.48,-6.01z"/>
<path fill="#1400f6" stroke="#1400f6" d="M278.34,486.8l3.48,-6.01h-6.96zM205.25,480.79l3.48,-6.01h-6.96zM212.21,480.79l3.48,-6.01h-6.96z"/>
<path fill="#1300e9" stroke="#1300e9" d="M86.91,480.79h6.96l-3.48,-6.01zM170.44,480.79h6.96l-3.48,-6.01zM177.4,480.79h6.96l-3.48,-6.01z"/>
<path fill="#1300ee" stroke="#1300ee" d="M198.29,480.79h6.96l-3.48,-6.01zM205.25,480.79h6.96l-3.48,-6.01z"/>
<path fill="#1400f8" stroke="#1400f8" d="M219.17,480.79l3.48,-6.01h-6.96zM226.13,480.79l3.48,-6.01h-6.96z"/>
<path fill="#1400fa" stroke="#1400fa" d="M233.09,480.79l3.48,-6.01h-6.96zM240.05,480.79l3.48,-6.01h-6.96zM260.94,480.79h6.96l-3.48,-6.01zM267.9,480.79h6.96l-3.48,-6.01z"/>
<path fill="#1400f5" stroke="#1400f5" d="M233.09,480.79h6.96l-3.48,-6.01zM240.05,480.79h6.96l-3.48,-6.01z"/>
<path fill="#1400fc" stroke="#1400fc" d="M247.01,480.79l3.48,-6.01h-6.96zM274.86,480.79h6.96l-3.48,-6.01z"/>
<path fill="#1400f9" stroke="#1400f9" d="M247.01,480.79h6.96l-3.48,-6.01zM253.98,480.79h6.96l-3.48,-6.01zM62.54,474.78l3.48,-6.01h-6.96zM69.51,474.78l3.48,-6.01h-6.96z"/>
<path fill="#1400fd" stroke="#1400fd" d="M253.98,480.79l3.48,-6.01h-6.96zM260.94,480.79l3.48,-6.01h-6.96z"/>
<path fill="#1400fe" stroke="#1400fe" d="M267.9,480.79l3.48,-6.01h-6.96zM274.86,480.79l3.48,-6.01h-6.96zM45.14,468.77h6.96l-3.48,-6.01z"/>
<path fill="#1503ff" stroke="#1503ff" d="M76.47,474.78l3.48,-6.01h-6.96z"/>
<path fill="#1400f7" stroke="#1400f7" d="M76.47,474.78h6.96l-3.48,-6.01z"/>
<path fill="#1b10ff" stroke="#1b10ff" d="M83.43,474.78l3.48,-6.01h-6.96z"/>
<path fill="#1605ff" stroke="#1605ff" d="M83.43,474.78h6.96l-3.48,-6.01z"/>
<path fill="#201eff" stroke="#201eff" d="M90.39,474.78l3.48,-6.01h-6.96z"/>
<path fill="#180aff" stroke="#180aff" d="M90.39,474.78h6.96l-3.48,-6.01zM97.35,474.78h6.96l-3.48,-6.01z"/>
<path fill="#211fff" stroke="#211fff" d="M97.35,474.78l3.48,-6.01h-6.96z"/>
<path fill="#2120ff" stroke="#2120ff" d="M104.31,474.78l3.48,-6.01h-6.96z"/>
<path fill="#190bff" stroke="#190bff" d="M104.31,474.78h6.96l-3.48,-6.01zM111.27,474.78h6.96l-3.48,-6.01zM243.53,474.78h6.96l-3.48,-6.01zM250.49,474.78h6.96l-3.48,-6.01zM257.46,474.78h6.96l-3.48,-6.01z"/>
<path fill="#2324ff" stroke="#2324ff" d="M111.27,474.78l3.48,-6.01h-6.96zM118.23,474.78l3.48,-6.01h-6.96zM250.49,474.78l3.48,-6.01h-6.96zM257.46,474.78l3.48,-6.01h-6.96z"/>
<path fill="#190cff" stroke="#190cff" d="M118.23,474.78h6.96l-3.48,-6.01zM125.19,474.78h6.96l-3.48,-6.01zM132.16,474.78h6.96l-3.48,-6.01zM139.12,474.78h6.96l-3.48,-6.01zM146.08,474.78h6.96l-3.48,-6.01zM153.04,474.78h6.96l-3.48,-6.01zM160,474.78h6.96l-3.48,-6.01zM166.96,474.78h6.96l-3.48,-6.01zM173.92,474.78h6.96l-3.48,-6.01zM180.88,474.78h6.96l-3.48,-6.01zM187.84,474.78h6.96l-3.48,-6.01zM194.81,474.78h6.96l-3.48,-6.01zM201.77,474.78h6.96l-3.48,-6.01zM208.73,474.78h6.96l-3.48,-6.01zM215.69,474.78h6.96l-3.48,-6.01zM222.65,474.78h6.96l-3.48,-6.01zM229.61,474.78h6.96l-3.48,-6.01zM236.57,474.78h6.96l-3.48,-6.01z"/>
<path fill="#2427ff" stroke="#2427ff" d="M125.19,474.78l3.48,-6.01h-6.96zM132.16,474.78l3.48,-6.01h-6.96zM72.99,468.77h6.96l-3.48,-6.01z"/>
<path fill="#252aff" stroke="#252aff" d="M139.12,474.78l3.48,-6.01h-6.96zM146.08,474.78l3.48,-6.01h-6.96z"/>
<path fill="#2529ff" stroke="#2529ff" d="M153.04,474.78l3.48,-6.01h-6.96z"/>
<path fill="#2528ff" stroke="#2528ff" d="M160,474.78l3.48,-6.01h-6.96zM166.96,474.78l3.48,-6.01h-6.96z"/>
<path fill="#2426ff" stroke="#2426ff" d="M173.92,474.78l3.48,-6.01h-6.96zM180.88,474.78l3.48,-6.01h-6.96zM187.84,474.78l3.48,-6.01h-6.96zM194.81,474.78l3.48,-6.01h-6.96zM201.77,474.78l3.48,-6.01h-6.96zM208.73,474.78l3.48,-6.01h-6.96zM215.69,474.78l3.48,-6.01h-6.96zM222.65,474.78l3.48,-6.01h-6.96zM229.61,474.78l3.48,-6.01h-6.96zM236.57,474.78l3.48,-6.01h-6.96zM243.53,474.78l3.48,-6.01h-6.96z"/>
<path fill="#2221ff" stroke="#2221ff" d="M264.42,474.78l3.48,-6.01h-6.96zM271.38,474.78l3.48,-6.01h-6.96z"/>
<path fill="#180bff" stroke="#180bff" d="M264.42,474.78h6.96l-3.48,-6.01zM271.38,474.78h6.96l-3.48,-6.01z"/>
<path fill="#1706ff" stroke="#1706ff" d="M52.1,468.77l3.48,-6.01h-6.96zM156.52,276.42h6.96l-3.48,-6.01z"/>
<path fill="#1502ff" stroke="#1502ff" d="M52.1,468.77h6.96l-3.48,-6.01z"/>
<path fill="#1e17ff" stroke="#1e17ff" d="M59.06,468.77l3.48,-6.01h-6.96z"/>
<path fill="#1d15ff" stroke="#1d15ff" d="M59.06,468.77h6.96l-3.48,-6.01zM66.03,468.77h6.96l-3.48,-6.01z"/>
<path fill="#2223ff" stroke="#2223ff" d="M66.03,468.77l3.48,-6.01h-6.96z"/>
<path fill="#272eff" stroke="#272eff" d="M72.99,468.77l3.48,-6.01h-6.96z"/>
<path fill="#2f41ff" stroke="#2f41ff" d="M79.95,468.77l3.48,-6.01h-6.96z"/>
<path fill="#2a36ff" stroke="#2a36ff" d="M79.95,468.77h6.96l-3.48,-6.01z"/>
<path fill="#354fff" stroke="#354fff" d="M86.91,468.77l3.48,-6.01h-6.96z"/>
<path fill="#3043ff" stroke="#3043ff" d="M86.91,468.77h6.96l-3.48,-6.01zM62.54,462.76l3.48,-6.01h-6.96z"/>
<path fill="#3a5cff" stroke="#3a5cff" d="M93.87,468.77l3.48,-6.01h-6.96zM170.44,468.77h6.96l-3.48,-6.01zM177.4,468.77h6.96l-3.48,-6.01zM184.36,468.77h6.96l-3.48,-6.01zM191.32,468.77h6.96l-3.48,-6.01zM198.29,468.77h6.96l-3.48,-6.01zM205.25,468.77h6.96l-3.48,-6.01zM212.21,468.77h6.96l-3.48,-6.01zM219.17,468.77h6.96l-3.48,-6.01zM226.13,468.77h6.96l-3.48,-6.01zM233.09,468.77h6.96l-3.48,-6.01z"/>
<path fill="#3248ff" stroke="#3248ff" d="M93.87,468.77h6.96l-3.48,-6.01z"/>
<path fill="#3b5eff" stroke="#3b5eff" d="M100.83,468.77l3.48,-6.01h-6.96zM121.71,468.77h6.96l-3.48,-6.01zM128.68,468.77h6.96l-3.48,-6.01zM59.06,456.75h6.96l-3.48,-6.01z"/>
<path fill="#344eff" stroke="#344eff" d="M100.83,468.77h6.96l-3.48,-6.01z"/>
<path fill="#416cff" stroke="#416cff" d="M107.79,468.77l3.48,-6.01h-6.96z"/>
<path fill="#3857ff" stroke="#3857ff" d="M107.79,468.77h6.96l-3.48,-6.01zM69.51,462.76l3.48,-6.01h-6.96z"/>
<path fill="#4370ff" stroke="#4370ff" d="M114.75,468.77l3.48,-6.01h-6.96z"/>
<path fill="#3958ff" stroke="#3958ff" d="M114.75,468.77h6.96l-3.48,-6.01z"/>
<path fill="#4576ff" stroke="#4576ff" d="M121.71,468.77l3.48,-6.01h-6.96zM177.4,468.77l3.48,-6.01h-6.96zM184.36,468.77l3.48,-6.01h-6.96zM191.32,468.77l3.48,-6.01h-6.96zM198.29,468.77l3.48,-6.01h-6.96zM205.25,468.77l3.48,-6.01h-6.96zM212.21,468.77l3.48,-6.01h-6.96zM219.17,468.77l3.48,-6.01h-6.96zM226.13,468.77l3.48,-6.01h-6.96zM233.09,468.77l3.48,-6.01h-6.96zM240.05,468.77l3.48,-6.01h-6.96zM66.03,456.75l3.48,-6.01h-6.96z"/>
<path fill="#4779ff" stroke="#4779ff" d="M128.68,468.77l3.48,-6.01h-6.96z"/>
<path fill="#487dff" stroke="#487dff" d="M135.64,468.77l3.48,-6.01h-6.96zM156.52,468.77l3.48,-6.01h-6.96zM55.58,450.73h6.96l-3.48,-6.01z"/>
<path fill="#3e64ff" stroke="#3e64ff" d="M135.64,468.77h6.96l-3.48,-6.01z"/>
<path fill="#4b83ff" stroke="#4b83ff" d="M142.6,468.77l3.48,-6.01h-6.96z"/>
<path fill="#3e65ff" stroke="#3e65ff" d="M142.6,468.77h6.96l-3.48,-6.01zM76.47,462.76h6.96l-3.48,-6.01z"/>
<path fill="#4a82ff" stroke="#4a82ff" d="M149.56,468.77l3.48,-6.01h-6.96z"/>
<path fill="#3d62ff" stroke="#3d62ff" d="M149.56,468.77h6.96l-3.48,-6.01zM59.06,456.75l3.48,-6.01h-6.96z"/>
<path fill="#3c60ff" stroke="#3c60ff" d="M156.52,468.77h6.96l-3.48,-6.01z"/>
<path fill="#487cff" stroke="#487cff" d="M163.48,468.77l3.48,-6.01h-6.96zM83.43,462.76l3.48,-6.01h-6.96zM156.52,288.44l3.48,-6.01h-6.96z"/>
<path fill="#3b5fff" stroke="#3b5fff" d="M163.48,468.77h6.96l-3.48,-6.01z"/>
<path fill="#4678ff" stroke="#4678ff" d="M170.44,468.77l3.48,-6.01h-6.96z"/>
<path fill="#3a5bff" stroke="#3a5bff" d="M240.05,468.77h6.96l-3.48,-6.01z"/>
<path fill="#4371ff" stroke="#4371ff" d="M247.01,468.77l3.48,-6.01h-6.96z"/>
<path fill="#3754ff" stroke="#3754ff" d="M247.01,468.77h6.96l-3.48,-6.01zM253.98,468.77h6.96l-3.48,-6.01z"/>
<path fill="#416dff" stroke="#416dff" d="M253.98,468.77l3.48,-6.01h-6.96z"/>
<path fill="#4069ff" stroke="#4069ff" d="M260.94,468.77l3.48,-6.01h-6.96z"/>
<path fill="#354eff" stroke="#354eff" d="M260.94,468.77h6.96l-3.48,-6.01z"/>
<path fill="#3d63ff" stroke="#3d63ff" d="M267.9,468.77l3.48,-6.01h-6.96z"/>
<path fill="#344dff" stroke="#344dff" d="M267.9,468.77h6.96l-3.48,-6.01z"/>
<path fill="#1e19ff" stroke="#1e19ff" d="M48.62,462.76h6.96l-3.48,-6.01z"/>
<path fill="#272fff" stroke="#272fff" d="M55.58,462.76l3.48,-6.01h-6.96z"/>
<path fill="#272dff" stroke="#272dff" d="M55.58,462.76h6.96l-3.48,-6.01z"/>
<path fill="#2e3fff" stroke="#2e3fff" d="M62.54,462.76h6.96l-3.48,-6.01z"/>
<path fill="#3651ff" stroke="#3651ff" d="M69.51,462.76h6.96l-3.48,-6.01z"/>
<path fill="#406bff" stroke="#406bff" d="M76.47,462.76l3.48,-6.01h-6.96z"/>
<path fill="#4474ff" stroke="#4474ff" d="M83.43,462.76h6.96l-3.48,-6.01z"/>
<path fill="#4d8aff" stroke="#4d8aff" d="M90.39,462.76l3.48,-6.01h-6.96z"/>
<path fill="#4a81ff" stroke="#4a81ff" d="M90.39,462.76h6.96l-3.48,-6.01z"/>
<path fill="#5398fe" stroke="#5398fe" d="M97.35,462.76l3.48,-6.01h-6.96z"/>
<path fill="#4e8dfe" stroke="#4e8dfe" d="M97.35,462.76h6.96l-3.48,-6.01z"/>
<path fill="#58a5fd" stroke="#58a5fd" d="M104.31,462.76l3.48,-6.01h-6.96zM111.27,462.76h6.96l-3.48,-6.01zM243.53,462.76h6.96l-3.48,-6.01zM86.91,456.75l3.48,-6.01h-6.96z"/>
<path fill="#549bfe" stroke="#549bfe" d="M104.31,462.76h6.96l-3.48,-6.01zM79.95,456.75l3.48,-6.01h-6.96z"/>
<path fill="#5eb3fd" stroke="#5eb3fd" d="M111.27,462.76l3.48,-6.01h-6.96zM93.87,456.75l3.48,-6.01h-6.96zM59.06,444.72h6.96l-3.48,-6.01z"/>
<path fill="#63befc" stroke="#63befc" d="M118.23,462.76l3.48,-6.01h-6.96z"/>
<path fill="#5bacfd" stroke="#5bacfd" d="M118.23,462.76h6.96l-3.48,-6.01zM236.57,462.76h6.96l-3.48,-6.01z"/>
<path fill="#65c5fc" stroke="#65c5fc" d="M125.19,462.76l3.48,-6.01h-6.96zM83.43,450.73l3.48,-6.01h-6.96z"/>
<path fill="#5eb2fd" stroke="#5eb2fd" d="M125.19,462.76h6.96l-3.48,-6.01z"/>
<path fill="#68ccfc" stroke="#68ccfc" d="M132.16,462.76l3.48,-6.01h-6.96zM107.79,456.75h6.96l-3.48,-6.01z"/>
<path fill="#60b9fd" stroke="#60b9fd" d="M132.16,462.76h6.96l-3.48,-6.01zM153.04,462.76h6.96l-3.48,-6.01z"/>
<path fill="#6bd3fc" stroke="#6bd3fc" d="M139.12,462.76l3.48,-6.01h-6.96zM212.21,456.75h6.96l-3.48,-6.01zM219.17,456.75h6.96l-3.48,-6.01zM226.13,456.75h6.96l-3.48,-6.01zM233.09,456.75h6.96l-3.48,-6.01z"/>
<path fill="#63c0fc" stroke="#63c0fc" d="M139.12,462.76h6.96l-3.48,-6.01zM208.73,462.76l3.48,-6.01h-6.96zM215.69,462.76l3.48,-6.01h-6.96zM222.65,462.76l3.48,-6.01h-6.96zM229.61,462.76l3.48,-6.01h-6.96zM236.57,462.76l3.48,-6.01h-6.96z"/>
<path fill="#6dd7fc" stroke="#6dd7fc" d="M146.08,462.76l3.48,-6.01h-6.96z"/>
<path fill="#62befd" stroke="#62befd" d="M146.08,462.76h6.96l-3.48,-6.01z"/>
<path fill="#6bd2fc" stroke="#6bd2fc" d="M153.04,462.76l3.48,-6.01h-6.96z"/>
<path fill="#69cefc" stroke="#69cefc" d="M160,462.76l3.48,-6.01h-6.96z"/>
<path fill="#5fb5fd" stroke="#5fb5fd" d="M160,462.76h6.96l-3.48,-6.01zM250.49,462.76l3.48,-6.01h-6.96z"/>
<path fill="#67c9fc" stroke="#67c9fc" d="M166.96,462.76l3.48,-6.01h-6.96z"/>
<path fill="#5db1fd" stroke="#5db1fd" d="M166.96,462.76h6.96l-3.48,-6.01z"/>
<path fill="#65c4fc" stroke="#65c4fc" d="M173.92,462.76l3.48,-6.01h-6.96z"/>
<path fill="#5caefd" stroke="#5caefd" d="M173.92,462.76h6.96l-3.48,-6.01zM180.88,462.76h6.96l-3.48,-6.01zM187.84,462.76h6.96l-3.48,-6.01zM194.81,462.76h6.96l-3.48,-6.01zM201.77,462.76h6.96l-3.48,-6.01zM208.73,462.76h6.96l-3.48,-6.01zM215.69,462.76h6.96l-3.48,-6.01zM222.65,462.76h6.96l-3.48,-6.01zM229.61,462.76h6.96l-3.48,-6.01zM257.46,462.76l3.48,-6.01h-6.96z"/>
<path fill="#64c2fc" stroke="#64c2fc" d="M180.88,462.76l3.48,-6.01h-6.96zM187.84,462.76l3.48,-6.01h-6.96zM194.81,462.76l3.48,-6.01h-6.96zM201.77,462.76l3.48,-6.01h-6.96z"/>
<path fill="#62bcfd" stroke="#62bcfd" d="M243.53,462.76l3.48,-6.01h-6.96zM76.47,450.73l3.48,-6.01h-6.96z"/>
<path fill="#569ffe" stroke="#569ffe" d="M250.49,462.76h6.96l-3.48,-6.01z"/>
<path fill="#5399fe" stroke="#5399fe" d="M257.46,462.76h6.96l-3.48,-6.01z"/>
<path fill="#59a7fd" stroke="#59a7fd" d="M264.42,462.76l3.48,-6.01h-6.96zM69.51,450.73h6.96l-3.48,-6.01z"/>
<path fill="#5092fe" stroke="#5092fe" d="M264.42,462.76h6.96l-3.48,-6.01z"/>
<path fill="#334aff" stroke="#334aff" d="M52.1,456.75h6.96l-3.48,-6.01z"/>
<path fill="#4472ff" stroke="#4472ff" d="M66.03,456.75h6.96l-3.48,-6.01z"/>
<path fill="#4d8afe" stroke="#4d8afe" d="M72.99,456.75l3.48,-6.01h-6.96z"/>
<path fill="#4c87ff" stroke="#4c87ff" d="M72.99,456.75h6.96l-3.48,-6.01z"/>
<path fill="#5194fe" stroke="#5194fe" d="M79.95,456.75h6.96l-3.48,-6.01z"/>
<path fill="#57a1fe" stroke="#57a1fe" d="M86.91,456.75h6.96l-3.48,-6.01zM156.52,288.44h6.96l-3.48,-6.01z"/>
<path fill="#5caffd" stroke="#5caffd" d="M93.87,456.75h6.96l-3.48,-6.01z"/>
<path fill="#64c1fc" stroke="#64c1fc" d="M100.83,456.75l3.48,-6.01h-6.96zM153.04,294.45l3.48,-6.01h-6.96z"/>
<path fill="#62bdfd" stroke="#62bdfd" d="M100.83,456.75h6.96l-3.48,-6.01zM83.43,450.73h6.96l-3.48,-6.01z"/>
<path fill="#69cffc" stroke="#69cffc" d="M107.79,456.75l3.48,-6.01h-6.96zM260.94,456.75l3.48,-6.01h-6.96zM90.39,450.73l3.48,-6.01h-6.96z"/>
<path fill="#72e5fb" stroke="#72e5fb" d="M114.75,456.75l3.48,-6.01h-6.96zM121.71,456.75h6.96l-3.48,-6.01z"/>
<path fill="#6fdefb" stroke="#6fdefb" d="M114.75,456.75h6.96l-3.48,-6.01zM79.95,444.72h6.96l-3.48,-6.01z"/>
<path fill="#77f1fb" stroke="#77f1fb" d="M121.71,456.75l3.48,-6.01h-6.96zM149.56,456.75h6.96l-3.48,-6.01z"/>
<path fill="#7af8fa" stroke="#7af8fa" d="M128.68,456.75l3.48,-6.01h-6.96z"/>
<path fill="#75ecfb" stroke="#75ecfb" d="M128.68,456.75h6.96l-3.48,-6.01zM156.52,456.75h6.96l-3.48,-6.01zM177.4,456.75l3.48,-6.01h-6.96z"/>
<path fill="#7dfffa" stroke="#7dfffa" d="M135.64,456.75l3.48,-6.01h-6.96zM111.27,450.73h6.96l-3.48,-6.01z"/>
<path fill="#78f2fa" stroke="#78f2fa" d="M135.64,456.75h6.96l-3.48,-6.01z"/>
<path fill="#7efff6" stroke="#7efff6" d="M142.6,456.75l3.48,-6.01h-6.96zM180.88,450.73h6.96l-3.48,-6.01zM187.84,450.73h6.96l-3.48,-6.01zM194.81,450.73h6.96l-3.48,-6.01zM100.83,444.72h6.96l-3.48,-6.01z"/>
<path fill="#79f5fa" stroke="#79f5fa" d="M142.6,456.75h6.96l-3.48,-6.01zM170.44,456.75l3.48,-6.01h-6.96zM69.51,438.71h6.96l-3.48,-6.01z"/>
<path fill="#7efff7" stroke="#7efff7" d="M149.56,456.75l3.48,-6.01h-6.96z"/>
<path fill="#7dfefa" stroke="#7dfefa" d="M156.52,456.75l3.48,-6.01h-6.96zM76.47,438.71h6.96l-3.48,-6.01z"/>
<path fill="#7bf9fa" stroke="#7bf9fa" d="M163.48,456.75l3.48,-6.01h-6.96z"/>
<path fill="#73e8fb" stroke="#73e8fb" d="M163.48,456.75h6.96l-3.48,-6.01zM104.31,450.73h6.96l-3.48,-6.01zM62.54,438.71h6.96l-3.48,-6.01z"/>
<path fill="#71e2fb" stroke="#71e2fb" d="M170.44,456.75h6.96l-3.48,-6.01z"/>
<path fill="#6fdcfb" stroke="#6fdcfb" d="M177.4,456.75h6.96l-3.48,-6.01zM184.36,456.75h6.96l-3.48,-6.01zM191.32,456.75h6.96l-3.48,-6.01zM198.29,456.75h6.96l-3.48,-6.01zM212.21,456.75l3.48,-6.01h-6.96zM219.17,456.75l3.48,-6.01h-6.96zM226.13,456.75l3.48,-6.01h-6.96zM233.09,456.75l3.48,-6.01h-6.96zM72.99,444.72l3.48,-6.01h-6.96z"/>
<path fill="#74e9fb" stroke="#74e9fb" d="M184.36,456.75l3.48,-6.01h-6.96zM191.32,456.75l3.48,-6.01h-6.96zM198.29,456.75l3.48,-6.01h-6.96z"/>
<path fill="#73e5fb" stroke="#73e5fb" d="M205.25,456.75l3.48,-6.01h-6.96zM79.95,444.72l3.48,-6.01h-6.96z"/>
<path fill="#6cd4fc" stroke="#6cd4fc" d="M205.25,456.75h6.96l-3.48,-6.01zM72.99,444.72h6.96l-3.48,-6.01z"/>
<path fill="#70e0fb" stroke="#70e0fb" d="M240.05,456.75l3.48,-6.01h-6.96z"/>
<path fill="#6bd4fc" stroke="#6bd4fc" d="M240.05,456.75h6.96l-3.48,-6.01z"/>
<path fill="#6fddfb" stroke="#6fddfb" d="M247.01,456.75l3.48,-6.01h-6.96zM97.35,450.73l3.48,-6.01h-6.96z"/>
<path fill="#69cdfc" stroke="#69cdfc" d="M247.01,456.75h6.96l-3.48,-6.01z"/>
<path fill="#6cd6fc" stroke="#6cd6fc" d="M253.98,456.75l3.48,-6.01h-6.96zM160,294.45l3.48,-6.01h-6.96z"/>
<path fill="#66c6fc" stroke="#66c6fc" d="M253.98,456.75h6.96l-3.48,-6.01z"/>
<path fill="#63bffc" stroke="#63bffc" d="M260.94,456.75h6.96l-3.48,-6.01z"/>
<path fill="#5296fe" stroke="#5296fe" d="M62.54,450.73l3.48,-6.01h-6.96z"/>
<path fill="#5192fe" stroke="#5192fe" d="M62.54,450.73h6.96l-3.48,-6.01z"/>
<path fill="#5babfd" stroke="#5babfd" d="M69.51,450.73l3.48,-6.01h-6.96z"/>
<path fill="#5eb4fd" stroke="#5eb4fd" d="M76.47,450.73h6.96l-3.48,-6.01z"/>
<path fill="#68cafc" stroke="#68cafc" d="M90.39,450.73h6.96l-3.48,-6.01z"/>
<path fill="#6dd8fb" stroke="#6dd8fb" d="M97.35,450.73h6.96l-3.48,-6.01z"/>
<path fill="#75ebfb" stroke="#75ebfb" d="M104.31,450.73l3.48,-6.01h-6.96zM166.96,294.45l3.48,-6.01h-6.96z"/>
<path fill="#7dfff9" stroke="#7dfff9" d="M111.27,450.73l3.48,-6.01h-6.96zM243.53,450.73l3.48,-6.01h-6.96z"/>
<path fill="#82ffe4" stroke="#82ffe4" d="M118.23,450.73l3.48,-6.01h-6.96zM125.19,450.73h6.96l-3.48,-6.01zM160,450.73h6.96l-3.48,-6.01zM205.25,444.72h6.96l-3.48,-6.01zM90.39,438.71l3.48,-6.01h-6.96z"/>
<path fill="#80ffea" stroke="#80ffea" d="M118.23,450.73h6.96l-3.48,-6.01zM187.84,450.73l3.48,-6.01h-6.96zM194.81,450.73l3.48,-6.01h-6.96zM90.39,438.71h6.96l-3.48,-6.01z"/>
<path fill="#84ffd9" stroke="#84ffd9" d="M125.19,450.73l3.48,-6.01h-6.96zM139.12,306.47h6.96l-3.48,-6.01zM149.56,300.46h6.96l-3.48,-6.01z"/>
<path fill="#85ffd3" stroke="#85ffd3" d="M132.16,450.73l3.48,-6.01h-6.96zM184.36,444.72h6.96l-3.48,-6.01zM191.32,444.72h6.96l-3.48,-6.01zM229.61,438.71h6.96l-3.48,-6.01z"/>
<path fill="#83ffde" stroke="#83ffde" d="M132.16,450.73h6.96l-3.48,-6.01zM97.35,438.71h6.96l-3.48,-6.01zM79.95,432.7l3.48,-6.01h-6.96zM79.95,432.7h6.96l-3.48,-6.01z"/>
<path fill="#86ffcf" stroke="#86ffcf" d="M139.12,450.73l3.48,-6.01h-6.96zM146.08,450.73l3.48,-6.01h-6.96zM236.57,438.71h6.96l-3.48,-6.01zM83.43,426.69h6.96l-3.48,-6.01zM163.48,300.46l3.48,-6.01h-6.96z"/>
<path fill="#83ffdc" stroke="#83ffdc" d="M139.12,450.73h6.96l-3.48,-6.01zM146.08,450.73h6.96l-3.48,-6.01z"/>
<path fill="#86ffd0" stroke="#86ffd0" d="M153.04,450.73l3.48,-6.01h-6.96zM222.65,438.71l3.48,-6.01h-6.96zM83.43,426.69l3.48,-6.01h-6.96z"/>
<path fill="#83ffe0" stroke="#83ffe0" d="M153.04,450.73h6.96l-3.48,-6.01zM173.92,450.73l3.48,-6.01h-6.96zM107.79,444.72l3.48,-6.01h-6.96zM212.21,444.72l3.48,-6.01h-6.96zM69.51,426.69h6.96l-3.48,-6.01z"/>
<path fill="#85ffd4" stroke="#85ffd4" d="M160,450.73l3.48,-6.01h-6.96z"/>
<path fill="#84ffd8" stroke="#84ffd8" d="M166.96,450.73l3.48,-6.01h-6.96zM76.47,426.69l3.48,-6.01h-6.96zM146.08,306.47l3.48,-6.01h-6.96z"/>
<path fill="#81ffe8" stroke="#81ffe8" d="M166.96,450.73h6.96l-3.48,-6.01zM180.88,450.73l3.48,-6.01h-6.96zM219.17,444.72l3.48,-6.01h-6.96zM226.13,444.72l3.48,-6.01h-6.96z"/>
<path fill="#7ffff1" stroke="#7ffff1" d="M173.92,450.73h6.96l-3.48,-6.01z"/>
<path fill="#80ffee" stroke="#80ffee" d="M201.77,450.73l3.48,-6.01h-6.96zM66.03,432.7h6.96l-3.48,-6.01z"/>
<path fill="#7cfcfa" stroke="#7cfcfa" d="M201.77,450.73h6.96l-3.48,-6.01zM69.51,438.71l3.48,-6.01h-6.96z"/>
<path fill="#7dfff8" stroke="#7dfff8" d="M208.73,450.73l3.48,-6.01h-6.96z"/>
<path fill="#77f0fb" stroke="#77f0fb" d="M208.73,450.73h6.96l-3.48,-6.01z"/>
<path fill="#7af7fa" stroke="#7af7fa" d="M215.69,450.73l3.48,-6.01h-6.96zM222.65,450.73l3.48,-6.01h-6.96zM229.61,450.73l3.48,-6.01h-6.96z"/>
<path fill="#76eefb" stroke="#76eefb" d="M215.69,450.73h6.96l-3.48,-6.01zM222.65,450.73h6.96l-3.48,-6.01z"/>
<path fill="#76effb" stroke="#76effb" d="M229.61,450.73h6.96l-3.48,-6.01zM86.91,444.72l3.48,-6.01h-6.96z"/>
<path fill="#7cfbfa" stroke="#7cfbfa" d="M236.57,450.73l3.48,-6.01h-6.96z"/>
<path fill="#78f4fa" stroke="#78f4fa" d="M236.57,450.73h6.96l-3.48,-6.01z"/>
<path fill="#79f4fa" stroke="#79f4fa" d="M243.53,450.73h6.96l-3.48,-6.01zM93.87,444.72h6.96l-3.48,-6.01z"/>
<path fill="#7cfdfa" stroke="#7cfdfa" d="M250.49,450.73l3.48,-6.01h-6.96z"/>
<path fill="#76edfb" stroke="#76edfb" d="M250.49,450.73h6.96l-3.48,-6.01z"/>
<path fill="#79f6fa" stroke="#79f6fa" d="M257.46,450.73l3.48,-6.01h-6.96z"/>
<path fill="#73e7fb" stroke="#73e7fb" d="M257.46,450.73h6.96l-3.48,-6.01zM86.91,444.72h6.96l-3.48,-6.01z"/>
<path fill="#68cbfc" stroke="#68cbfc" d="M66.03,444.72l3.48,-6.01h-6.96z"/>
<path fill="#66c7fc" stroke="#66c7fc" d="M66.03,444.72h6.96l-3.48,-6.01z"/>
<path fill="#7af9fa" stroke="#7af9fa" d="M93.87,444.72l3.48,-6.01h-6.96z"/>
<path fill="#7efff3" stroke="#7efff3" d="M100.83,444.72l3.48,-6.01h-6.96zM149.56,300.46l3.48,-6.01h-6.96z"/>
<path fill="#82ffe2" stroke="#82ffe2" d="M107.79,444.72h6.96l-3.48,-6.01z"/>
<path fill="#87ffcc" stroke="#87ffcc" d="M114.75,444.72l3.48,-6.01h-6.96zM208.73,438.71h6.96l-3.48,-6.01zM229.61,438.71l3.48,-6.01h-6.96zM93.87,432.7h6.96l-3.48,-6.01z"/>
<path fill="#87ffcd" stroke="#87ffcd" d="M114.75,444.72h6.96l-3.48,-6.01z"/>
<path fill="#8bffb7" stroke="#8bffb7" d="M121.71,444.72l3.48,-6.01h-6.96zM128.68,444.72h6.96l-3.48,-6.01zM194.81,438.71h6.96l-3.48,-6.01z"/>
<path fill="#8affbe" stroke="#8affbe" d="M121.71,444.72h6.96l-3.48,-6.01zM163.48,444.72h6.96l-3.48,-6.01zM100.83,432.7l3.48,-6.01h-6.96z"/>
<path fill="#8effac" stroke="#8effac" d="M128.68,444.72l3.48,-6.01h-6.96zM90.39,414.67l3.48,-6.01h-6.96z"/>
<path fill="#8fffa8" stroke="#8fffa8" d="M135.64,444.72l3.48,-6.01h-6.96zM142.6,444.72l3.48,-6.01h-6.96zM149.56,444.72l3.48,-6.01h-6.96zM194.81,438.71l3.48,-6.01h-6.96zM104.31,426.69l3.48,-6.01h-6.96z"/>
<path fill="#8cffb5" stroke="#8cffb5" d="M135.64,444.72h6.96l-3.48,-6.01zM142.6,444.72h6.96l-3.48,-6.01zM149.56,444.72h6.96l-3.48,-6.01zM170.44,444.72l3.48,-6.01h-6.96zM111.27,438.71h6.96l-3.48,-6.01zM97.35,426.69h6.96l-3.48,-6.01zM163.48,300.46h6.96l-3.48,-6.01z"/>
<path fill="#8fffa9" stroke="#8fffa9" d="M156.52,444.72l3.48,-6.01h-6.96zM226.13,432.7h6.96l-3.48,-6.01zM90.39,414.67h6.96l-3.48,-6.01zM86.91,408.66l3.48,-6.01h-6.96z"/>
<path fill="#8bffb9" stroke="#8bffb9" d="M156.52,444.72h6.96l-3.48,-6.01zM97.35,426.69l3.48,-6.01h-6.96zM83.43,414.67h6.96l-3.48,-6.01z"/>
<path fill="#8effad" stroke="#8effad" d="M163.48,444.72l3.48,-6.01h-6.96z"/>
<path fill="#88ffc6" stroke="#88ffc6" d="M170.44,444.72h6.96l-3.48,-6.01zM90.39,426.69h6.96l-3.48,-6.01zM142.6,312.48l3.48,-6.01h-6.96zM153.04,306.47l3.48,-6.01h-6.96z"/>
<path fill="#8affbd" stroke="#8affbd" d="M177.4,444.72l3.48,-6.01h-6.96zM208.73,438.71l3.48,-6.01h-6.96z"/>
<path fill="#87ffce" stroke="#87ffce" d="M177.4,444.72h6.96l-3.48,-6.01zM93.87,432.7l3.48,-6.01h-6.96z"/>
<path fill="#89ffc5" stroke="#89ffc5" d="M184.36,444.72l3.48,-6.01h-6.96zM146.08,306.47h6.96l-3.48,-6.01z"/>
<path fill="#88ffc8" stroke="#88ffc8" d="M191.32,444.72l3.48,-6.01h-6.96zM104.31,438.71l3.48,-6.01h-6.96zM236.57,438.71l3.48,-6.01h-6.96zM90.39,426.69l3.48,-6.01h-6.96z"/>
<path fill="#87ffcb" stroke="#87ffcb" d="M198.29,444.72l3.48,-6.01h-6.96zM243.53,438.71h6.96l-3.48,-6.01z"/>
<path fill="#84ffda" stroke="#84ffda" d="M198.29,444.72h6.96l-3.48,-6.01z"/>
<path fill="#85ffd5" stroke="#85ffd5" d="M205.25,444.72l3.48,-6.01h-6.96zM86.91,432.7h6.96l-3.48,-6.01z"/>
<path fill="#7fffef" stroke="#7fffef" d="M212.21,444.72h6.96l-3.48,-6.01z"/>
<path fill="#7ffff0" stroke="#7ffff0" d="M219.17,444.72h6.96l-3.48,-6.01zM226.13,444.72h6.96l-3.48,-6.01z"/>
<path fill="#82ffe5" stroke="#82ffe5" d="M233.09,444.72l3.48,-6.01h-6.96z"/>
<path fill="#80ffec" stroke="#80ffec" d="M233.09,444.72h6.96l-3.48,-6.01zM83.43,438.71l3.48,-6.01h-6.96zM142.6,300.46h6.96l-3.48,-6.01z"/>
<path fill="#83ffe1" stroke="#83ffe1" d="M240.05,444.72l3.48,-6.01h-6.96z"/>
<path fill="#81ffe7" stroke="#81ffe7" d="M240.05,444.72h6.96l-3.48,-6.01zM247.01,444.72h6.96l-3.48,-6.01z"/>
<path fill="#83ffdd" stroke="#83ffdd" d="M247.01,444.72l3.48,-6.01h-6.96z"/>
<path fill="#83ffdf" stroke="#83ffdf" d="M253.98,444.72l3.48,-6.01h-6.96z"/>
<path fill="#80ffed" stroke="#80ffed" d="M253.98,444.72h6.96l-3.48,-6.01z"/>
<path fill="#7efff4" stroke="#7efff4" d="M76.47,438.71l3.48,-6.01h-6.96z"/>
<path fill="#7ffff3" stroke="#7ffff3" d="M83.43,438.71h6.96l-3.48,-6.01z"/>
<path fill="#84ffdb" stroke="#84ffdb" d="M97.35,438.71l3.48,-6.01h-6.96z"/>
<path fill="#88ffc9" stroke="#88ffc9" d="M104.31,438.71h6.96l-3.48,-6.01zM79.95,420.68h6.96l-3.48,-6.01z"/>
<path fill="#8cffb3" stroke="#8cffb3" d="M111.27,438.71l3.48,-6.01h-6.96zM79.95,408.66h6.96l-3.48,-6.01zM160,306.47l3.48,-6.01h-6.96z"/>
<path fill="#91ff9f" stroke="#91ff9f" d="M118.23,438.71l3.48,-6.01h-6.96zM100.83,420.68h6.96l-3.48,-6.01zM146.08,318.49l3.48,-6.01h-6.96zM156.52,312.48l3.48,-6.01h-6.96z"/>
<path fill="#91ffa0" stroke="#91ffa0" d="M118.23,438.71h6.96l-3.48,-6.01zM139.12,318.49h6.96l-3.48,-6.01zM160,306.47h6.96l-3.48,-6.01z"/>
<path fill="#95ff8a" stroke="#95ff8a" d="M125.19,438.71l3.48,-6.01h-6.96zM166.96,438.71l3.48,-6.01h-6.96zM97.35,402.65h6.96l-3.48,-6.01zM104.31,366.58h6.96l-3.48,-6.01z"/>
<path fill="#94ff91" stroke="#94ff91" d="M125.19,438.71h6.96l-3.48,-6.01zM191.32,432.7h6.96l-3.48,-6.01zM107.79,420.68l3.48,-6.01h-6.96zM100.83,384.61l3.48,-6.01h-6.96zM173.92,306.47l3.48,-6.01h-6.96z"/>
<path fill="#9aff83" stroke="#9aff83" d="M132.16,438.71l3.48,-6.01h-6.96zM139.12,438.71l3.48,-6.01h-6.96zM146.08,438.71l3.48,-6.01h-6.96zM153.04,438.71l3.48,-6.01h-6.96zM139.12,330.52l3.48,-6.01h-6.96z"/>
<path fill="#94ff8e" stroke="#94ff8e" d="M132.16,438.71h6.96l-3.48,-6.01zM139.12,438.71h6.96l-3.48,-6.01zM146.08,438.71h6.96l-3.48,-6.01zM153.04,438.71h6.96l-3.48,-6.01zM100.83,372.59h6.96l-3.48,-6.01zM118.23,342.54h6.96l-3.48,-6.01z"/>
<path fill="#9aff84" stroke="#9aff84" d="M160,438.71l3.48,-6.01h-6.96zM100.83,408.66h6.96l-3.48,-6.01zM104.31,402.65l3.48,-6.01h-6.96zM104.31,378.6h6.96l-3.48,-6.01zM125.19,342.54h6.96l-3.48,-6.01z"/>
<path fill="#93ff93" stroke="#93ff93" d="M160,438.71h6.96l-3.48,-6.01zM111.27,426.69l3.48,-6.01h-6.96zM93.87,408.66h6.96l-3.48,-6.01zM97.35,402.65l3.48,-6.01h-6.96zM97.35,378.6h6.96l-3.48,-6.01z"/>
<path fill="#92ff9b" stroke="#92ff9b" d="M166.96,438.71h6.96l-3.48,-6.01zM198.29,432.7h6.96l-3.48,-6.01z"/>
<path fill="#94ff92" stroke="#94ff92" d="M173.92,438.71l3.48,-6.01h-6.96zM205.25,432.7l3.48,-6.01h-6.96zM226.13,432.7l3.48,-6.01h-6.96zM128.68,336.53l3.48,-6.01h-6.96z"/>
<path fill="#90ffa3" stroke="#90ffa3" d="M173.92,438.71h6.96l-3.48,-6.01zM86.91,408.66h6.96l-3.48,-6.01zM90.39,402.65l3.48,-6.01h-6.96z"/>
<path fill="#92ff9a" stroke="#92ff9a" d="M180.88,438.71l3.48,-6.01h-6.96zM90.39,402.65h6.96l-3.48,-6.01zM125.19,330.52h6.96l-3.48,-6.01z"/>
<path fill="#8effab" stroke="#8effab" d="M180.88,438.71h6.96l-3.48,-6.01z"/>
<path fill="#90ffa2" stroke="#90ffa2" d="M187.84,438.71l3.48,-6.01h-6.96zM104.31,426.69h6.96l-3.48,-6.01zM100.83,420.68l3.48,-6.01h-6.96zM128.68,324.51h6.96l-3.48,-6.01zM170.44,300.46h6.96l-3.48,-6.01z"/>
<path fill="#8dffb1" stroke="#8dffb1" d="M187.84,438.71h6.96l-3.48,-6.01z"/>
<path fill="#8dffb3" stroke="#8dffb3" d="M201.77,438.71l3.48,-6.01h-6.96zM93.87,420.68l3.48,-6.01h-6.96zM153.04,306.47h6.96l-3.48,-6.01z"/>
<path fill="#89ffc2" stroke="#89ffc2" d="M201.77,438.71h6.96l-3.48,-6.01zM86.91,420.68l3.48,-6.01h-6.96z"/>
<path fill="#88ffc7" stroke="#88ffc7" d="M215.69,438.71l3.48,-6.01h-6.96zM135.64,312.48h6.96l-3.48,-6.01zM156.52,300.46h6.96l-3.48,-6.01z"/>
<path fill="#85ffd6" stroke="#85ffd6" d="M215.69,438.71h6.96l-3.48,-6.01zM86.91,432.7l3.48,-6.01h-6.96z"/>
<path fill="#85ffd7" stroke="#85ffd7" d="M222.65,438.71h6.96l-3.48,-6.01zM76.47,426.69h6.96l-3.48,-6.01z"/>
<path fill="#89ffc4" stroke="#89ffc4" d="M243.53,438.71l3.48,-6.01h-6.96z"/>
<path fill="#8affc0" stroke="#8affc0" d="M250.49,438.71l3.48,-6.01h-6.96zM86.91,420.68h6.96l-3.48,-6.01z"/>
<path fill="#87ffca" stroke="#87ffca" d="M250.49,438.71h6.96l-3.48,-6.01zM79.95,420.68l3.48,-6.01h-6.96z"/>
<path fill="#81ffe6" stroke="#81ffe6" d="M72.99,432.7l3.48,-6.01h-6.96zM72.99,432.7h6.96l-3.48,-6.01z"/>
<path fill="#8bffb8" stroke="#8bffb8" d="M100.83,432.7h6.96l-3.48,-6.01z"/>
<path fill="#8effaa" stroke="#8effaa" d="M107.79,432.7l3.48,-6.01h-6.96zM83.43,402.65h6.96l-3.48,-6.01z"/>
<path fill="#90ffa4" stroke="#90ffa4" d="M107.79,432.7h6.96l-3.48,-6.01zM86.91,396.64h6.96l-3.48,-6.01z"/>
<path fill="#93ff95" stroke="#93ff95" d="M114.75,432.7l3.48,-6.01h-6.96z"/>
<path fill="#94ff8f" stroke="#94ff8f" d="M114.75,432.7h6.96l-3.48,-6.01z"/>
<path fill="#9bff83" stroke="#9bff83" d="M121.71,432.7l3.48,-6.01h-6.96zM208.73,426.69h6.96l-3.48,-6.01zM107.79,384.61l3.48,-6.01h-6.96z"/>
<path fill="#9fff7f" stroke="#9fff7f" d="M121.71,432.7h6.96l-3.48,-6.01zM111.27,414.67l3.48,-6.01h-6.96zM111.27,378.6l3.48,-6.01h-6.96z"/>
<path fill="#b3ff6e" stroke="#b3ff6e" d="M128.68,432.7l3.48,-6.01h-6.96zM114.75,408.66l3.48,-6.01h-6.96z"/>
<path fill="#b3ff6f" stroke="#b3ff6f" d="M128.68,432.7h6.96l-3.48,-6.01zM135.64,432.7h6.96l-3.48,-6.01zM142.6,432.7h6.96l-3.48,-6.01zM149.56,432.7h6.96l-3.48,-6.01zM118.23,378.6h6.96l-3.48,-6.01zM173.92,318.49l3.48,-6.01h-6.96z"/>
<path fill="#c1ff62" stroke="#c1ff62" d="M135.64,432.7l3.48,-6.01h-6.96zM142.6,432.7l3.48,-6.01h-6.96zM149.56,432.7l3.48,-6.01h-6.96zM156.52,432.7l3.48,-6.01h-6.96z"/>
<path fill="#b1ff70" stroke="#b1ff70" d="M156.52,432.7h6.96l-3.48,-6.01zM135.64,348.55h6.96l-3.48,-6.01zM139.12,342.54h6.96l-3.48,-6.01zM156.52,324.51l3.48,-6.01h-6.96z"/>
<path fill="#b8ff6a" stroke="#b8ff6a" d="M163.48,432.7l3.48,-6.01h-6.96zM118.23,414.67l3.48,-6.01h-6.96zM118.23,402.65l3.48,-6.01h-6.96zM125.19,378.6l3.48,-6.01h-6.96zM128.68,372.59l3.48,-6.01h-6.96zM132.16,366.58l3.48,-6.01h-6.96zM135.64,360.57l3.48,-6.01h-6.96zM139.12,354.56l3.48,-6.01h-6.96zM149.56,336.53l3.48,-6.01h-6.96z"/>
<path fill="#a9ff77" stroke="#a9ff77" d="M163.48,432.7h6.96l-3.48,-6.01zM114.75,372.59h6.96l-3.48,-6.01zM142.6,336.53l3.48,-6.01h-6.96z"/>
<path fill="#b2ff6f" stroke="#b2ff6f" d="M170.44,432.7l3.48,-6.01h-6.96zM201.77,426.69l3.48,-6.01h-6.96zM222.65,426.69h6.96l-3.48,-6.01zM114.75,396.64h6.96l-3.48,-6.01zM142.6,336.53h6.96l-3.48,-6.01z"/>
<path fill="#a3ff7c" stroke="#a3ff7c" d="M170.44,432.7h6.96l-3.48,-6.01zM201.77,426.69h6.96l-3.48,-6.01zM114.75,420.68h6.96l-3.48,-6.01zM111.27,390.63l3.48,-6.01h-6.96zM114.75,360.57h6.96l-3.48,-6.01zM118.23,354.56h6.96l-3.48,-6.01zM132.16,342.54h6.96l-3.48,-6.01zM135.64,336.53h6.96l-3.48,-6.01zM177.4,312.48l3.48,-6.01h-6.96z"/>
<path fill="#abff75" stroke="#abff75" d="M177.4,432.7l3.48,-6.01h-6.96zM194.81,426.69h6.96l-3.48,-6.01zM114.75,396.64l3.48,-6.01h-6.96zM118.23,378.6l3.48,-6.01h-6.96zM177.4,312.48h6.96l-3.48,-6.01z"/>
<path fill="#9dff81" stroke="#9dff81" d="M177.4,432.7h6.96l-3.48,-6.01zM104.31,390.63h6.96l-3.48,-6.01zM107.79,372.59h6.96l-3.48,-6.01z"/>
<path fill="#a5ff7a" stroke="#a5ff7a" d="M184.36,432.7l3.48,-6.01h-6.96zM107.79,396.64h6.96l-3.48,-6.01zM118.23,366.58l3.48,-6.01h-6.96zM125.19,354.56l3.48,-6.01h-6.96z"/>
<path fill="#97ff87" stroke="#97ff87" d="M184.36,432.7h6.96l-3.48,-6.01zM104.31,390.63l3.48,-6.01h-6.96zM107.79,360.57h6.96l-3.48,-6.01z"/>
<path fill="#9eff80" stroke="#9eff80" d="M191.32,432.7l3.48,-6.01h-6.96zM114.75,420.68l3.48,-6.01h-6.96zM107.79,396.64l3.48,-6.01h-6.96zM170.44,312.48l3.48,-6.01h-6.96z"/>
<path fill="#96ff88" stroke="#96ff88" d="M198.29,432.7l3.48,-6.01h-6.96zM104.31,414.67h6.96l-3.48,-6.01zM100.83,408.66l3.48,-6.01h-6.96zM100.83,384.61h6.96l-3.48,-6.01zM107.79,372.59l3.48,-6.01h-6.96zM114.75,348.55h6.96l-3.48,-6.01zM128.68,336.53h6.96l-3.48,-6.01z"/>
<path fill="#8fffa5" stroke="#8fffa5" d="M205.25,432.7h6.96l-3.48,-6.01zM233.09,432.7h6.96l-3.48,-6.01z"/>
<path fill="#91ff9c" stroke="#91ff9c" d="M212.21,432.7l3.48,-6.01h-6.96zM97.35,414.67l3.48,-6.01h-6.96z"/>
<path fill="#8dffaf" stroke="#8dffaf" d="M212.21,432.7h6.96l-3.48,-6.01zM93.87,420.68h6.96l-3.48,-6.01z"/>
<path fill="#8fffa6" stroke="#8fffa6" d="M219.17,432.7l3.48,-6.01h-6.96z"/>
<path fill="#8dffb2" stroke="#8dffb2" d="M219.17,432.7h6.96l-3.48,-6.01zM142.6,312.48h6.96l-3.48,-6.01zM149.56,312.48l3.48,-6.01h-6.96z"/>
<path fill="#95ff8d" stroke="#95ff8d" d="M233.09,432.7l3.48,-6.01h-6.96zM111.27,426.69h6.96l-3.48,-6.01zM135.64,324.51h6.96l-3.48,-6.01zM142.6,324.51l3.48,-6.01h-6.96z"/>
<path fill="#95ff89" stroke="#95ff89" d="M240.05,432.7l3.48,-6.01h-6.96z"/>
<path fill="#90ffa1" stroke="#90ffa1" d="M240.05,432.7h6.96l-3.48,-6.01zM135.64,324.51l3.48,-6.01h-6.96zM166.96,306.47l3.48,-6.01h-6.96z"/>
<path fill="#97ff86" stroke="#97ff86" d="M247.01,432.7l3.48,-6.01h-6.96zM121.71,348.55l3.48,-6.01h-6.96zM173.92,306.47h6.96l-3.48,-6.01z"/>
<path fill="#91ff9d" stroke="#91ff9d" d="M247.01,432.7h6.96l-3.48,-6.01zM93.87,396.64l3.48,-6.01h-6.96z"/>
<path fill="#9cff82" stroke="#9cff82" d="M118.23,426.69l3.48,-6.01h-6.96zM114.75,360.57l3.48,-6.01h-6.96z"/>
<path fill="#a1ff7e" stroke="#a1ff7e" d="M118.23,426.69h6.96l-3.48,-6.01zM142.6,324.51h6.96l-3.48,-6.01z"/>
<path fill="#b5ff6d" stroke="#b5ff6d" d="M125.19,426.69l3.48,-6.01h-6.96zM142.6,348.55l3.48,-6.01h-6.96z"/>
<path fill="#c2ff61" stroke="#c2ff61" d="M125.19,426.69h6.96l-3.48,-6.01zM173.92,426.69h6.96l-3.48,-6.01zM132.16,378.6l3.48,-6.01h-6.96zM135.64,372.59l3.48,-6.01h-6.96zM139.12,366.58l3.48,-6.01h-6.96zM142.6,360.57l3.48,-6.01h-6.96zM146.08,354.56l3.48,-6.01h-6.96zM149.56,336.53h6.96l-3.48,-6.01zM170.44,324.51l3.48,-6.01h-6.96z"/>
<path fill="#dfff49" stroke="#dfff49" d="M132.16,426.69l3.48,-6.01h-6.96zM121.71,408.66l3.48,-6.01h-6.96zM184.36,336.53l3.48,-6.01h-6.96z"/>
<path fill="#deff49" stroke="#deff49" d="M132.16,426.69h6.96l-3.48,-6.01zM139.12,426.69h6.96l-3.48,-6.01zM146.08,426.69h6.96l-3.48,-6.01zM156.52,360.57h6.96l-3.48,-6.01zM166.96,354.56l3.48,-6.01h-6.96zM177.4,336.53h6.96l-3.48,-6.01z"/>
<path fill="#edff3d" stroke="#edff3d" d="M139.12,426.69l3.48,-6.01h-6.96zM146.08,426.69l3.48,-6.01h-6.96zM153.04,426.69l3.48,-6.01h-6.96zM166.96,366.58l3.48,-6.01h-6.96zM177.4,348.55h6.96l-3.48,-6.01z"/>
<path fill="#dcff4b" stroke="#dcff4b" d="M153.04,426.69h6.96l-3.48,-6.01zM163.48,348.55h6.96l-3.48,-6.01zM187.84,330.52l3.48,-6.01h-6.96z"/>
<path fill="#e3ff46" stroke="#e3ff46" d="M160,426.69l3.48,-6.01h-6.96zM142.6,384.61l3.48,-6.01h-6.96z"/>
<path fill="#d0ff56" stroke="#d0ff56" d="M160,426.69h6.96l-3.48,-6.01zM191.32,420.68h6.96l-3.48,-6.01z"/>
<path fill="#d7ff4f" stroke="#d7ff4f" d="M166.96,426.69l3.48,-6.01h-6.96zM139.12,378.6h6.96l-3.48,-6.01zM142.6,372.59h6.96l-3.48,-6.01zM146.08,366.58h6.96l-3.48,-6.01zM156.52,360.57l3.48,-6.01h-6.96zM180.88,330.52l3.48,-6.01h-6.96z"/>
<path fill="#c9ff5c" stroke="#c9ff5c" d="M166.96,426.69h6.96l-3.48,-6.01zM146.08,354.56h6.96l-3.48,-6.01z"/>
<path fill="#d1ff55" stroke="#d1ff55" d="M173.92,426.69l3.48,-6.01h-6.96zM243.53,426.69l3.48,-6.01h-6.96z"/>
<path fill="#cbff5a" stroke="#cbff5a" d="M180.88,426.69l3.48,-6.01h-6.96zM229.61,426.69l3.48,-6.01h-6.96zM132.16,378.6h6.96l-3.48,-6.01zM135.64,372.59h6.96l-3.48,-6.01zM139.12,366.58h6.96l-3.48,-6.01zM142.6,360.57h6.96l-3.48,-6.01zM153.04,342.54h6.96l-3.48,-6.01zM170.44,324.51h6.96l-3.48,-6.01z"/>
<path fill="#bcff67" stroke="#bcff67" d="M180.88,426.69h6.96l-3.48,-6.01zM236.57,426.69h6.96l-3.48,-6.01z"/>
<path fill="#c3ff60" stroke="#c3ff60" d="M187.84,426.69l3.48,-6.01h-6.96z"/>
<path fill="#b4ff6e" stroke="#b4ff6e" d="M187.84,426.69h6.96l-3.48,-6.01z"/>
<path fill="#baff68" stroke="#baff68" d="M194.81,426.69l3.48,-6.01h-6.96z"/>
<path fill="#aaff76" stroke="#aaff76" d="M208.73,426.69l3.48,-6.01h-6.96zM111.27,390.63h6.96l-3.48,-6.01zM135.64,348.55l3.48,-6.01h-6.96zM146.08,330.52l3.48,-6.01h-6.96z"/>
<path fill="#a2ff7d" stroke="#a2ff7d" d="M215.69,426.69l3.48,-6.01h-6.96zM107.79,384.61h6.96l-3.48,-6.01zM114.75,372.59l3.48,-6.01h-6.96zM153.04,318.49h6.96l-3.48,-6.01z"/>
<path fill="#99ff85" stroke="#99ff85" d="M215.69,426.69h6.96l-3.48,-6.01zM100.83,396.64h6.96l-3.48,-6.01zM111.27,366.58l3.48,-6.01h-6.96zM135.64,336.53l3.48,-6.01h-6.96z"/>
<path fill="#b6ff6c" stroke="#b6ff6c" d="M222.65,426.69l3.48,-6.01h-6.96z"/>
<path fill="#b9ff69" stroke="#b9ff69" d="M229.61,426.69h6.96l-3.48,-6.01z"/>
<path fill="#ceff57" stroke="#ceff57" d="M236.57,426.69l3.48,-6.01h-6.96zM205.25,420.68l3.48,-6.01h-6.96zM149.56,360.57l3.48,-6.01h-6.96zM166.96,330.52l3.48,-6.01h-6.96z"/>
<path fill="#bfff64" stroke="#bfff64" d="M243.53,426.69h6.96l-3.48,-6.01zM205.25,420.68h6.96l-3.48,-6.01zM125.19,378.6h6.96l-3.48,-6.01zM128.68,372.59h6.96l-3.48,-6.01zM132.16,366.58h6.96l-3.48,-6.01zM135.64,360.57h6.96l-3.48,-6.01zM139.12,354.56h6.96l-3.48,-6.01zM142.6,348.55h6.96l-3.48,-6.01z"/>
<path fill="#86ffd1" stroke="#86ffd1" d="M72.99,420.68h6.96l-3.48,-6.01z"/>
<path fill="#95ff8b" stroke="#95ff8b" d="M107.79,420.68h6.96l-3.48,-6.01zM146.08,318.49h6.96l-3.48,-6.01zM153.04,318.49l3.48,-6.01h-6.96z"/>
<path fill="#b7ff6b" stroke="#b7ff6b" d="M121.71,420.68l3.48,-6.01h-6.96zM146.08,342.54l3.48,-6.01h-6.96zM180.88,318.49l3.48,-6.01h-6.96z"/>
<path fill="#c4ff60" stroke="#c4ff60" d="M121.71,420.68h6.96l-3.48,-6.01zM149.56,348.55l3.48,-6.01h-6.96zM153.04,330.52h6.96l-3.48,-6.01z"/>
<path fill="#e1ff47" stroke="#e1ff47" d="M128.68,420.68l3.48,-6.01h-6.96zM208.73,414.67h6.96l-3.48,-6.01zM163.48,360.57l3.48,-6.01h-6.96z"/>
<path fill="#eeff3c" stroke="#eeff3c" d="M128.68,420.68h6.96l-3.48,-6.01zM156.52,372.59h6.96l-3.48,-6.01zM187.84,342.54l3.48,-6.01h-6.96z"/>
<path fill="#f0d031" stroke="#f0d031" d="M135.64,420.68l3.48,-6.01h-6.96zM180.88,414.67l3.48,-6.01h-6.96z"/>
<path fill="#f0d231" stroke="#f0d231" d="M135.64,420.68h6.96l-3.48,-6.01zM142.6,420.68h6.96l-3.48,-6.01z"/>
<path fill="#f1ab28" stroke="#f1ab28" d="M142.6,420.68l3.48,-6.01h-6.96zM149.56,420.68l3.48,-6.01h-6.96zM153.04,390.63h6.96l-3.48,-6.01z"/>
<path fill="#f0d833" stroke="#f0d833" d="M149.56,420.68h6.96l-3.48,-6.01zM163.48,372.59h6.96l-3.48,-6.01zM194.81,342.54h6.96l-3.48,-6.01z"/>
<path fill="#f0cc30" stroke="#f0cc30" d="M156.52,420.68l3.48,-6.01h-6.96zM132.16,414.67l3.48,-6.01h-6.96zM191.32,408.66h6.96l-3.48,-6.01z"/>
<path fill="#efea37" stroke="#efea37" d="M156.52,420.68h6.96l-3.48,-6.01zM156.52,384.61l3.48,-6.01h-6.96zM184.36,348.55h6.96l-3.48,-6.01z"/>
<path fill="#efde34" stroke="#efde34" d="M163.48,420.68l3.48,-6.01h-6.96zM187.84,414.67l3.48,-6.01h-6.96zM205.25,408.66h6.96l-3.48,-6.01z"/>
<path fill="#eefd3b" stroke="#eefd3b" d="M163.48,420.68h6.96l-3.48,-6.01z"/>
<path fill="#eef339" stroke="#eef339" d="M170.44,420.68l3.48,-6.01h-6.96zM191.32,336.53h6.96l-3.48,-6.01z"/>
<path fill="#e8ff41" stroke="#e8ff41" d="M170.44,420.68h6.96l-3.48,-6.01zM132.16,390.63l3.48,-6.01h-6.96zM153.04,378.6l3.48,-6.01h-6.96zM163.48,360.57h6.96l-3.48,-6.01zM173.92,354.56l3.48,-6.01h-6.96z"/>
<path fill="#eefc3b" stroke="#eefc3b" d="M177.4,420.68l3.48,-6.01h-6.96zM149.56,384.61l3.48,-6.01h-6.96zM153.04,378.6h6.96l-3.48,-6.01zM163.48,372.59l3.48,-6.01h-6.96z"/>
<path fill="#e2ff47" stroke="#e2ff47" d="M177.4,420.68h6.96l-3.48,-6.01zM153.04,366.58h6.96l-3.48,-6.01zM173.92,342.54h6.96l-3.48,-6.01z"/>
<path fill="#e9ff40" stroke="#e9ff40" d="M184.36,420.68l3.48,-6.01h-6.96z"/>
<path fill="#d9ff4e" stroke="#d9ff4e" d="M184.36,420.68h6.96l-3.48,-6.01zM125.19,390.63h6.96l-3.48,-6.01zM128.68,384.61h6.96l-3.48,-6.01z"/>
<path fill="#e0ff48" stroke="#e0ff48" d="M191.32,420.68l3.48,-6.01h-6.96zM170.44,348.55l3.48,-6.01h-6.96z"/>
<path fill="#d6ff50" stroke="#d6ff50" d="M198.29,420.68l3.48,-6.01h-6.96zM121.71,396.64h6.96l-3.48,-6.01zM135.64,384.61l3.48,-6.01h-6.96zM163.48,348.55l3.48,-6.01h-6.96z"/>
<path fill="#c7ff5d" stroke="#c7ff5d" d="M198.29,420.68h6.96l-3.48,-6.01zM156.52,336.53l3.48,-6.01h-6.96zM177.4,324.51l3.48,-6.01h-6.96z"/>
<path fill="#c6ff5e" stroke="#c6ff5e" d="M212.21,420.68l3.48,-6.01h-6.96zM118.23,414.67h6.96l-3.48,-6.01zM163.48,324.51h6.96l-3.48,-6.01z"/>
<path fill="#bdff66" stroke="#bdff66" d="M212.21,420.68h6.96l-3.48,-6.01z"/>
<path fill="#daff4d" stroke="#daff4d" d="M219.17,420.68l3.48,-6.01h-6.96zM153.04,366.58l3.48,-6.01h-6.96zM170.44,336.53h6.96l-3.48,-6.01zM177.4,336.53l3.48,-6.01h-6.96z"/>
<path fill="#d6ff51" stroke="#d6ff51" d="M219.17,420.68h6.96l-3.48,-6.01zM170.44,336.53l3.48,-6.01h-6.96z"/>
<path fill="#eef83a" stroke="#eef83a" d="M226.13,420.68l3.48,-6.01h-6.96z"/>
<path fill="#eefe3c" stroke="#eefe3c" d="M226.13,420.68h6.96l-3.48,-6.01z"/>
<path fill="#efda33" stroke="#efda33" d="M233.09,420.68l3.48,-6.01h-6.96zM146.08,390.63l3.48,-6.01h-6.96z"/>
<path fill="#eef439" stroke="#eef439" d="M233.09,420.68h6.96l-3.48,-6.01zM187.84,414.67h6.96l-3.48,-6.01z"/>
<path fill="#f0d532" stroke="#f0d532" d="M240.05,420.68l3.48,-6.01h-6.96z"/>
<path fill="#efef38" stroke="#efef38" d="M240.05,420.68h6.96l-3.48,-6.01z"/>
<path fill="#89ffc3" stroke="#89ffc3" d="M76.47,414.67h6.96l-3.48,-6.01z"/>
<path fill="#8bffbb" stroke="#8bffbb" d="M83.43,414.67l3.48,-6.01h-6.96z"/>
<path fill="#92ff99" stroke="#92ff99" d="M97.35,414.67h6.96l-3.48,-6.01zM93.87,408.66l3.48,-6.01h-6.96z"/>
<path fill="#95ff8c" stroke="#95ff8c" d="M104.31,414.67l3.48,-6.01h-6.96zM100.83,396.64l3.48,-6.01h-6.96zM104.31,378.6l3.48,-6.01h-6.96zM125.19,342.54l3.48,-6.01h-6.96zM156.52,312.48h6.96l-3.48,-6.01zM163.48,312.48l3.48,-6.01h-6.96z"/>
<path fill="#a4ff7b" stroke="#a4ff7b" d="M111.27,414.67h6.96l-3.48,-6.01zM139.12,330.52h6.96l-3.48,-6.01z"/>
<path fill="#e4ff44" stroke="#e4ff44" d="M125.19,414.67l3.48,-6.01h-6.96z"/>
<path fill="#eefa3b" stroke="#eefa3b" d="M125.19,414.67h6.96l-3.48,-6.01zM184.36,348.55l3.48,-6.01h-6.96z"/>
<path fill="#f1a827" stroke="#f1a827" d="M132.16,414.67h6.96l-3.48,-6.01z"/>
<path fill="#f66319" stroke="#f66319" d="M139.12,414.67l3.48,-6.01h-6.96z"/>
<path fill="#f66419" stroke="#f66419" d="M139.12,414.67h6.96l-3.48,-6.01zM173.92,378.6l3.48,-6.01h-6.96zM177.4,372.59l3.48,-6.01h-6.96z"/>
<path fill="#f94515" stroke="#f94515" d="M146.08,414.67l3.48,-6.01h-6.96z"/>
<path fill="#f56c1b" stroke="#f56c1b" d="M146.08,414.67h6.96l-3.48,-6.01zM153.04,402.65l3.48,-6.01h-6.96zM180.88,402.65h6.96l-3.48,-6.01z"/>
<path fill="#f56f1b" stroke="#f56f1b" d="M153.04,414.67l3.48,-6.01h-6.96zM135.64,408.66l3.48,-6.01h-6.96zM139.12,402.65l3.48,-6.01h-6.96z"/>
<path fill="#f2a226" stroke="#f2a226" d="M153.04,414.67h6.96l-3.48,-6.01z"/>
<path fill="#f29623" stroke="#f29623" d="M160,414.67l3.48,-6.01h-6.96zM219.17,408.66h6.96l-3.48,-6.01zM201.77,354.56h6.96l-3.48,-6.01z"/>
<path fill="#f1b42a" stroke="#f1b42a" d="M160,414.67h6.96l-3.48,-6.01z"/>
<path fill="#f1ae29" stroke="#f1ae29" d="M166.96,414.67l3.48,-6.01h-6.96zM160,390.63l3.48,-6.01h-6.96z"/>
<path fill="#f0cf31" stroke="#f0cf31" d="M166.96,414.67h6.96l-3.48,-6.01zM156.52,384.61h6.96l-3.48,-6.01z"/>
<path fill="#f0c62e" stroke="#f0c62e" d="M173.92,414.67l3.48,-6.01h-6.96zM153.04,390.63l3.48,-6.01h-6.96z"/>
<path fill="#efdb33" stroke="#efdb33" d="M173.92,414.67h6.96l-3.48,-6.01zM166.96,366.58h6.96l-3.48,-6.01z"/>
<path fill="#efe736" stroke="#efe736" d="M180.88,414.67h6.96l-3.48,-6.01z"/>
<path fill="#efeb37" stroke="#efeb37" d="M194.81,414.67l3.48,-6.01h-6.96zM132.16,390.63h6.96l-3.48,-6.01z"/>
<path fill="#ecff3e" stroke="#ecff3e" d="M194.81,414.67h6.96l-3.48,-6.01z"/>
<path fill="#eef93b" stroke="#eef93b" d="M201.77,414.67l3.48,-6.01h-6.96z"/>
<path fill="#e3ff45" stroke="#e3ff45" d="M201.77,414.67h6.96l-3.48,-6.01zM125.19,402.65l3.48,-6.01h-6.96zM128.68,396.64l3.48,-6.01h-6.96z"/>
<path fill="#eaff3f" stroke="#eaff3f" d="M208.73,414.67l3.48,-6.01h-6.96zM170.44,360.57l3.48,-6.01h-6.96zM180.88,342.54h6.96l-3.48,-6.01z"/>
<path fill="#efe937" stroke="#efe937" d="M215.69,414.67l3.48,-6.01h-6.96zM125.19,402.65h6.96l-3.48,-6.01zM128.68,396.64h6.96l-3.48,-6.01z"/>
<path fill="#efee38" stroke="#efee38" d="M215.69,414.67h6.96l-3.48,-6.01zM187.84,342.54h6.96l-3.48,-6.01z"/>
<path fill="#f0c42e" stroke="#f0c42e" d="M222.65,414.67l3.48,-6.01h-6.96z"/>
<path fill="#f0ca2f" stroke="#f0ca2f" d="M222.65,414.67h6.96l-3.48,-6.01z"/>
<path fill="#f2a026" stroke="#f2a026" d="M229.61,414.67l3.48,-6.01h-6.96z"/>
<path fill="#f2a627" stroke="#f2a627" d="M229.61,414.67h6.96l-3.48,-6.01zM208.73,402.65h6.96l-3.48,-6.01z"/>
<path fill="#f3821e" stroke="#f3821e" d="M236.57,414.67l3.48,-6.01h-6.96zM215.69,402.65h6.96l-3.48,-6.01z"/>
<path fill="#f29c25" stroke="#f29c25" d="M236.57,414.67h6.96l-3.48,-6.01z"/>
<path fill="#a1ff7d" stroke="#a1ff7d" d="M107.79,408.66l3.48,-6.01h-6.96zM149.56,324.51l3.48,-6.01h-6.96zM160,318.49l3.48,-6.01h-6.96z"/>
<path fill="#a6ff79" stroke="#a6ff79" d="M107.79,408.66h6.96l-3.48,-6.01zM111.27,402.65l3.48,-6.01h-6.96zM111.27,378.6h6.96l-3.48,-6.01z"/>
<path fill="#c8ff5c" stroke="#c8ff5c" d="M114.75,408.66h6.96l-3.48,-6.01zM160,330.52l3.48,-6.01h-6.96z"/>
<path fill="#eef73a" stroke="#eef73a" d="M121.71,408.66h6.96l-3.48,-6.01zM160,378.6l3.48,-6.01h-6.96z"/>
<path fill="#f0d632" stroke="#f0d632" d="M128.68,408.66l3.48,-6.01h-6.96zM132.16,402.65l3.48,-6.01h-6.96zM135.64,396.64l3.48,-6.01h-6.96z"/>
<path fill="#f2a326" stroke="#f2a326" d="M128.68,408.66h6.96l-3.48,-6.01z"/>
<path fill="#f94314" stroke="#f94314" d="M135.64,408.66h6.96l-3.48,-6.01zM173.92,390.63l3.48,-6.01h-6.96zM170.44,384.61h6.96l-3.48,-6.01z"/>
<path fill="#f51b0e" stroke="#f51b0e" d="M142.6,408.66l3.48,-6.01h-6.96z"/>
<path fill="#ee1b0e" stroke="#ee1b0e" d="M142.6,408.66h6.96l-3.48,-6.01zM184.36,396.64l3.48,-6.01h-6.96z"/>
<path fill="#fc250f" stroke="#fc250f" d="M149.56,408.66l3.48,-6.01h-6.96z"/>
<path fill="#f94114" stroke="#f94114" d="M149.56,408.66h6.96l-3.48,-6.01z"/>
<path fill="#f75717" stroke="#f75717" d="M156.52,408.66l3.48,-6.01h-6.96z"/>
<path fill="#f5701b" stroke="#f5701b" d="M156.52,408.66h6.96l-3.48,-6.01z"/>
<path fill="#f5711c" stroke="#f5711c" d="M163.48,408.66l3.48,-6.01h-6.96zM166.96,402.65l3.48,-6.01h-6.96zM173.92,402.65l3.48,-6.01h-6.96z"/>
<path fill="#f38620" stroke="#f38620" d="M163.48,408.66h6.96l-3.48,-6.01z"/>
<path fill="#f38820" stroke="#f38820" d="M170.44,408.66l3.48,-6.01h-6.96zM142.6,396.64h6.96l-3.48,-6.01z"/>
<path fill="#f2a126" stroke="#f2a126" d="M170.44,408.66h6.96l-3.48,-6.01zM184.36,408.66l3.48,-6.01h-6.96z"/>
<path fill="#f29323" stroke="#f29323" d="M177.4,408.66l3.48,-6.01h-6.96z"/>
<path fill="#f1b129" stroke="#f1b129" d="M177.4,408.66h6.96l-3.48,-6.01z"/>
<path fill="#f1be2d" stroke="#f1be2d" d="M184.36,408.66h6.96l-3.48,-6.01z"/>
<path fill="#f1af29" stroke="#f1af29" d="M191.32,408.66l3.48,-6.01h-6.96z"/>
<path fill="#f1bd2c" stroke="#f1bd2c" d="M198.29,408.66l3.48,-6.01h-6.96zM163.48,384.61l3.48,-6.01h-6.96zM173.92,366.58l3.48,-6.01h-6.96zM198.29,348.55h6.96l-3.48,-6.01z"/>
<path fill="#efd933" stroke="#efd933" d="M198.29,408.66h6.96l-3.48,-6.01zM180.88,354.56h6.96l-3.48,-6.01z"/>
<path fill="#f0ca30" stroke="#f0ca30" d="M205.25,408.66l3.48,-6.01h-6.96z"/>
<path fill="#f1bb2c" stroke="#f1bb2c" d="M212.21,408.66l3.48,-6.01h-6.96zM170.44,372.59l3.48,-6.01h-6.96z"/>
<path fill="#f1ba2c" stroke="#f1ba2c" d="M212.21,408.66h6.96l-3.48,-6.01z"/>
<path fill="#f29723" stroke="#f29723" d="M219.17,408.66l3.48,-6.01h-6.96zM201.77,402.65h6.96l-3.48,-6.01z"/>
<path fill="#f4761c" stroke="#f4761c" d="M226.13,408.66l3.48,-6.01h-6.96zM153.04,402.65h6.96l-3.48,-6.01z"/>
<path fill="#f4751c" stroke="#f4751c" d="M226.13,408.66h6.96l-3.48,-6.01z"/>
<path fill="#f75918" stroke="#f75918" d="M233.09,408.66l3.48,-6.01h-6.96zM198.29,360.57h6.96l-3.48,-6.01z"/>
<path fill="#f75818" stroke="#f75818" d="M233.09,408.66h6.96l-3.48,-6.01zM166.96,390.63h6.96l-3.48,-6.01z"/>
<path fill="#a0ff7e" stroke="#a0ff7e" d="M104.31,402.65h6.96l-3.48,-6.01zM128.68,348.55l3.48,-6.01h-6.96zM163.48,312.48h6.96l-3.48,-6.01z"/>
<path fill="#adff73" stroke="#adff73" d="M111.27,402.65h6.96l-3.48,-6.01z"/>
<path fill="#d4ff53" stroke="#d4ff53" d="M118.23,402.65h6.96l-3.48,-6.01z"/>
<path fill="#f28f22" stroke="#f28f22" d="M132.16,402.65h6.96l-3.48,-6.01zM160,390.63h6.96l-3.48,-6.01z"/>
<path fill="#f93f14" stroke="#f93f14" d="M139.12,402.65h6.96l-3.48,-6.01z"/>
<path fill="#f85116" stroke="#f85116" d="M146.08,402.65l3.48,-6.01h-6.96zM208.73,366.58l3.48,-6.01h-6.96zM208.73,366.58h6.96l-3.48,-6.01z"/>
<path fill="#f94414" stroke="#f94414" d="M146.08,402.65h6.96l-3.48,-6.01zM226.13,396.64l3.48,-6.01h-6.96zM215.69,390.63l3.48,-6.01h-6.96z"/>
<path fill="#f4741c" stroke="#f4741c" d="M160,402.65l3.48,-6.01h-6.96zM163.48,396.64l3.48,-6.01h-6.96z"/>
<path fill="#f56a1a" stroke="#f56a1a" d="M160,402.65h6.96l-3.48,-6.01zM173.92,402.65h6.96l-3.48,-6.01zM163.48,396.64h6.96l-3.48,-6.01zM191.32,360.57h6.96l-3.48,-6.01z"/>
<path fill="#f37f1e" stroke="#f37f1e" d="M166.96,402.65h6.96l-3.48,-6.01z"/>
<path fill="#f84f16" stroke="#f84f16" d="M180.88,402.65l3.48,-6.01h-6.96zM229.61,402.65l3.48,-6.01h-6.96z"/>
<path fill="#f75a18" stroke="#f75a18" d="M187.84,402.65l3.48,-6.01h-6.96zM219.17,396.64h6.96l-3.48,-6.01z"/>
<path fill="#f4781d" stroke="#f4781d" d="M187.84,402.65h6.96l-3.48,-6.01zM184.36,360.57h6.96l-3.48,-6.01z"/>
<path fill="#f5681a" stroke="#f5681a" d="M194.81,402.65l3.48,-6.01h-6.96z"/>
<path fill="#f3851f" stroke="#f3851f" d="M194.81,402.65h6.96l-3.48,-6.01z"/>
<path fill="#f4731c" stroke="#f4731c" d="M201.77,402.65l3.48,-6.01h-6.96z"/>
<path fill="#f29423" stroke="#f29423" d="M208.73,402.65l3.48,-6.01h-6.96z"/>
<path fill="#f38920" stroke="#f38920" d="M215.69,402.65l3.48,-6.01h-6.96zM163.48,384.61h6.96l-3.48,-6.01z"/>
<path fill="#f56b1b" stroke="#f56b1b" d="M222.65,402.65l3.48,-6.01h-6.96zM205.25,396.64h6.96l-3.48,-6.01z"/>
<path fill="#f6651a" stroke="#f6651a" d="M222.65,402.65h6.96l-3.48,-6.01zM180.88,366.58l3.48,-6.01h-6.96z"/>
<path fill="#f94915" stroke="#f94915" d="M229.61,402.65h6.96l-3.48,-6.01zM205.25,396.64l3.48,-6.01h-6.96z"/>
<path fill="#93ff94" stroke="#93ff94" d="M93.87,396.64h6.96l-3.48,-6.01zM121.71,336.53h6.96l-3.48,-6.01z"/>
<path fill="#bcff66" stroke="#bcff66" d="M121.71,396.64l3.48,-6.01h-6.96z"/>
<path fill="#f29e25" stroke="#f29e25" d="M135.64,396.64h6.96l-3.48,-6.01zM149.56,396.64l3.48,-6.01h-6.96zM184.36,360.57l3.48,-6.01h-6.96z"/>
<path fill="#f1b52b" stroke="#f1b52b" d="M142.6,396.64l3.48,-6.01h-6.96z"/>
<path fill="#f28e21" stroke="#f28e21" d="M149.56,396.64h6.96l-3.48,-6.01z"/>
<path fill="#f38c21" stroke="#f38c21" d="M156.52,396.64l3.48,-6.01h-6.96zM177.4,360.57h6.96l-3.48,-6.01z"/>
<path fill="#f37c1d" stroke="#f37c1d" d="M156.52,396.64h6.96l-3.48,-6.01zM170.44,372.59h6.96l-3.48,-6.01z"/>
<path fill="#f75c18" stroke="#f75c18" d="M170.44,396.64l3.48,-6.01h-6.96z"/>
<path fill="#f75417" stroke="#f75417" d="M170.44,396.64h6.96l-3.48,-6.01z"/>
<path fill="#fb3111" stroke="#fb3111" d="M177.4,396.64l3.48,-6.01h-6.96z"/>
<path fill="#fc2a10" stroke="#fc2a10" d="M177.4,396.64h6.96l-3.48,-6.01z"/>
<path fill="#fb2d11" stroke="#fb2d11" d="M184.36,396.64h6.96l-3.48,-6.01zM173.92,390.63h6.96l-3.48,-6.01z"/>
<path fill="#fd1e0e" stroke="#fd1e0e" d="M191.32,396.64l3.48,-6.01h-6.96z"/>
<path fill="#fa3b13" stroke="#fa3b13" d="M191.32,396.64h6.96l-3.48,-6.01z"/>
<path fill="#fb2c11" stroke="#fb2c11" d="M198.29,396.64l3.48,-6.01h-6.96zM177.4,384.61l3.48,-6.01h-6.96z"/>
<path fill="#f84b16" stroke="#f84b16" d="M198.29,396.64h6.96l-3.48,-6.01zM187.84,366.58l3.48,-6.01h-6.96z"/>
<path fill="#f5691a" stroke="#f5691a" d="M212.21,396.64l3.48,-6.01h-6.96zM170.44,384.61l3.48,-6.01h-6.96z"/>
<path fill="#f4771d" stroke="#f4771d" d="M212.21,396.64h6.96l-3.48,-6.01zM198.29,360.57l3.48,-6.01h-6.96z"/>
<path fill="#f66019" stroke="#f66019" d="M219.17,396.64l3.48,-6.01h-6.96z"/>
<path fill="#fa3e13" stroke="#fa3e13" d="M226.13,396.64h6.96l-3.48,-6.01z"/>
<path fill="#91ff9e" stroke="#91ff9e" d="M90.39,390.63h6.96l-3.48,-6.01zM149.56,312.48h6.96l-3.48,-6.01z"/>
<path fill="#93ff97" stroke="#93ff97" d="M97.35,390.63l3.48,-6.01h-6.96z"/>
<path fill="#95ff8e" stroke="#95ff8e" d="M97.35,390.63h6.96l-3.48,-6.01zM166.96,306.47h6.96l-3.48,-6.01z"/>
<path fill="#b0ff71" stroke="#b0ff71" d="M118.23,390.63l3.48,-6.01h-6.96zM149.56,324.51h6.96l-3.48,-6.01zM160,318.49h6.96l-3.48,-6.01z"/>
<path fill="#b6ff6b" stroke="#b6ff6b" d="M118.23,390.63h6.96l-3.48,-6.01zM166.96,318.49h6.96l-3.48,-6.01z"/>
<path fill="#c1ff63" stroke="#c1ff63" d="M125.19,390.63l3.48,-6.01h-6.96zM146.08,342.54h6.96l-3.48,-6.01z"/>
<path fill="#eff038" stroke="#eff038" d="M139.12,390.63l3.48,-6.01h-6.96zM173.92,354.56h6.96l-3.48,-6.01z"/>
<path fill="#f0d732" stroke="#f0d732" d="M139.12,390.63h6.96l-3.48,-6.01z"/>
<path fill="#f0c02d" stroke="#f0c02d" d="M146.08,390.63h6.96l-3.48,-6.01z"/>
<path fill="#f37e1e" stroke="#f37e1e" d="M166.96,390.63l3.48,-6.01h-6.96z"/>
<path fill="#f71b0e" stroke="#f71b0e" d="M180.88,390.63l3.48,-6.01h-6.96z"/>
<path fill="#d8190d" stroke="#d8190d" d="M180.88,390.63h6.96l-3.48,-6.01z"/>
<path fill="#c2170d" stroke="#c2170d" d="M187.84,390.63l3.48,-6.01h-6.96z"/>
<path fill="#db190d" stroke="#db190d" d="M187.84,390.63h6.96l-3.48,-6.01z"/>
<path fill="#d3180d" stroke="#d3180d" d="M194.81,390.63l3.48,-6.01h-6.96z"/>
<path fill="#ec1b0e" stroke="#ec1b0e" d="M194.81,390.63h6.96l-3.48,-6.01z"/>
<path fill="#e71a0e" stroke="#e71a0e" d="M201.77,390.63l3.48,-6.01h-6.96z"/>
<path fill="#fc2810" stroke="#fc2810" d="M201.77,390.63h6.96l-3.48,-6.01zM208.73,390.63l3.48,-6.01h-6.96z"/>
<path fill="#f94815" stroke="#f94815" d="M208.73,390.63h6.96l-3.48,-6.01z"/>
<path fill="#f85016" stroke="#f85016" d="M215.69,390.63h6.96l-3.48,-6.01z"/>
<path fill="#fa3913" stroke="#fa3913" d="M222.65,390.63l3.48,-6.01h-6.96z"/>
<path fill="#fb3312" stroke="#fb3312" d="M222.65,390.63h6.96l-3.48,-6.01zM173.92,378.6h6.96l-3.48,-6.01zM177.4,372.59h6.96l-3.48,-6.01z"/>
<path fill="#92ff98" stroke="#92ff98" d="M93.87,384.61h6.96l-3.48,-6.01z"/>
<path fill="#a8ff78" stroke="#a8ff78" d="M114.75,384.61l3.48,-6.01h-6.96zM128.68,348.55h6.96l-3.48,-6.01z"/>
<path fill="#afff72" stroke="#afff72" d="M114.75,384.61h6.96l-3.48,-6.01zM121.71,372.59l3.48,-6.01h-6.96zM125.19,366.58l3.48,-6.01h-6.96zM128.68,360.57l3.48,-6.01h-6.96z"/>
<path fill="#b4ff6d" stroke="#b4ff6d" d="M121.71,384.61l3.48,-6.01h-6.96zM146.08,330.52h6.96l-3.48,-6.01z"/>
<path fill="#bbff67" stroke="#bbff67" d="M121.71,384.61h6.96l-3.48,-6.01zM173.92,318.49h6.96l-3.48,-6.01z"/>
<path fill="#c5ff5f" stroke="#c5ff5f" d="M128.68,384.61l3.48,-6.01h-6.96zM153.04,342.54l3.48,-6.01h-6.96z"/>
<path fill="#e6ff43" stroke="#e6ff43" d="M135.64,384.61h6.96l-3.48,-6.01z"/>
<path fill="#eef63a" stroke="#eef63a" d="M142.6,384.61h6.96l-3.48,-6.01zM180.88,354.56l3.48,-6.01h-6.96z"/>
<path fill="#efe436" stroke="#efe436" d="M149.56,384.61h6.96l-3.48,-6.01zM191.32,348.55l3.48,-6.01h-6.96z"/>
<path fill="#f11b0e" stroke="#f11b0e" d="M177.4,384.61h6.96l-3.48,-6.01z"/>
<path fill="#cd180d" stroke="#cd180d" d="M184.36,384.61l3.48,-6.01h-6.96zM191.32,372.59h6.96l-3.48,-6.01z"/>
<path fill="#ae150d" stroke="#ae150d" d="M184.36,384.61h6.96l-3.48,-6.01z"/>
<path fill="#98130c" stroke="#98130c" d="M191.32,384.61l3.48,-6.01h-6.96z"/>
<path fill="#b2160d" stroke="#b2160d" d="M191.32,384.61h6.96l-3.48,-6.01z"/>
<path fill="#ac150d" stroke="#ac150d" d="M198.29,384.61l3.48,-6.01h-6.96zM194.81,378.6l3.48,-6.01h-6.96z"/>
<path fill="#c7170d" stroke="#c7170d" d="M198.29,384.61h6.96l-3.48,-6.01z"/>
<path fill="#c1170d" stroke="#c1170d" d="M205.25,384.61l3.48,-6.01h-6.96zM201.77,378.6l3.48,-6.01h-6.96z"/>
<path fill="#e51a0e" stroke="#e51a0e" d="M205.25,384.61h6.96l-3.48,-6.01z"/>
<path fill="#e11a0e" stroke="#e11a0e" d="M212.21,384.61l3.48,-6.01h-6.96z"/>
<path fill="#fc210f" stroke="#fc210f" d="M212.21,384.61h6.96l-3.48,-6.01z"/>
<path fill="#fd1d0e" stroke="#fd1d0e" d="M219.17,384.61l3.48,-6.01h-6.96z"/>
<path fill="#fc2910" stroke="#fc2910" d="M219.17,384.61h6.96l-3.48,-6.01z"/>
<path fill="#cfff57" stroke="#cfff57" d="M139.12,378.6l3.48,-6.01h-6.96zM142.6,372.59l3.48,-6.01h-6.96zM146.08,366.58l3.48,-6.01h-6.96zM160,342.54l3.48,-6.01h-6.96z"/>
<path fill="#dbff4c" stroke="#dbff4c" d="M146.08,378.6l3.48,-6.01h-6.96zM149.56,372.59l3.48,-6.01h-6.96zM160,354.56h6.96l-3.48,-6.01zM180.88,330.52h6.96l-3.48,-6.01z"/>
<path fill="#e4ff45" stroke="#e4ff45" d="M146.08,378.6h6.96l-3.48,-6.01zM149.56,372.59h6.96l-3.48,-6.01zM160,366.58l3.48,-6.01h-6.96zM187.84,330.52h6.96l-3.48,-6.01z"/>
<path fill="#f0d332" stroke="#f0d332" d="M160,378.6h6.96l-3.48,-6.01zM191.32,348.55h6.96l-3.48,-6.01z"/>
<path fill="#f1b72b" stroke="#f1b72b" d="M166.96,378.6l3.48,-6.01h-6.96z"/>
<path fill="#f47a1d" stroke="#f47a1d" d="M166.96,378.6h6.96l-3.48,-6.01z"/>
<path fill="#fd200f" stroke="#fd200f" d="M180.88,378.6l3.48,-6.01h-6.96zM184.36,372.59l3.48,-6.01h-6.96z"/>
<path fill="#d5190d" stroke="#d5190d" d="M180.88,378.6h6.96l-3.48,-6.01z"/>
<path fill="#bf170d" stroke="#bf170d" d="M187.84,378.6l3.48,-6.01h-6.96z"/>
<path fill="#9b140c" stroke="#9b140c" d="M187.84,378.6h6.96l-3.48,-6.01z"/>
<path fill="#a9150d" stroke="#a9150d" d="M194.81,378.6h6.96l-3.48,-6.01z"/>
<path fill="#be170d" stroke="#be170d" d="M201.77,378.6h6.96l-3.48,-6.01z"/>
<path fill="#dd190d" stroke="#dd190d" d="M208.73,378.6l3.48,-6.01h-6.96z"/>
<path fill="#dc190d" stroke="#dc190d" d="M208.73,378.6h6.96l-3.48,-6.01zM198.29,372.59h6.96l-3.48,-6.01z"/>
<path fill="#fb1c0e" stroke="#fb1c0e" d="M215.69,378.6l3.48,-6.01h-6.96zM205.25,372.59l3.48,-6.01h-6.96z"/>
<path fill="#fa1c0e" stroke="#fa1c0e" d="M215.69,378.6h6.96l-3.48,-6.01z"/>
<path fill="#b5ff6c" stroke="#b5ff6c" d="M121.71,372.59h6.96l-3.48,-6.01zM125.19,366.58h6.96l-3.48,-6.01zM128.68,360.57h6.96l-3.48,-6.01zM132.16,354.56h6.96l-3.48,-6.01z"/>
<path fill="#e7ff42" stroke="#e7ff42" d="M156.52,372.59l3.48,-6.01h-6.96zM184.36,336.53h6.96l-3.48,-6.01z"/>
<path fill="#de190d" stroke="#de190d" d="M184.36,372.59h6.96l-3.48,-6.01zM198.29,372.59l3.48,-6.01h-6.96z"/>
<path fill="#e91a0e" stroke="#e91a0e" d="M191.32,372.59l3.48,-6.01h-6.96z"/>
<path fill="#fc1c0e" stroke="#fc1c0e" d="M205.25,372.59h6.96l-3.48,-6.01z"/>
<path fill="#fa3712" stroke="#fa3712" d="M212.21,372.59l3.48,-6.01h-6.96z"/>
<path fill="#fa3612" stroke="#fa3612" d="M212.21,372.59h6.96l-3.48,-6.01z"/>
<path fill="#a0ff7f" stroke="#a0ff7f" d="M111.27,366.58h6.96l-3.48,-6.01z"/>
<path fill="#acff74" stroke="#acff74" d="M118.23,366.58h6.96l-3.48,-6.01zM121.71,360.57h6.96l-3.48,-6.01zM125.19,354.56h6.96l-3.48,-6.01z"/>
<path fill="#ebff3f" stroke="#ebff3f" d="M160,366.58h6.96l-3.48,-6.01zM191.32,336.53l3.48,-6.01h-6.96z"/>
<path fill="#f37d1d" stroke="#f37d1d" d="M173.92,366.58h6.96l-3.48,-6.01z"/>
<path fill="#fa3c13" stroke="#fa3c13" d="M180.88,366.58h6.96l-3.48,-6.01z"/>
<path fill="#fb2e11" stroke="#fb2e11" d="M187.84,366.58h6.96l-3.48,-6.01z"/>
<path fill="#fa3d13" stroke="#fa3d13" d="M194.81,366.58l3.48,-6.01h-6.96z"/>
<path fill="#fd1f0f" stroke="#fd1f0f" d="M194.81,366.58h6.96l-3.48,-6.01z"/>
<path fill="#fb3412" stroke="#fb3412" d="M201.77,366.58l3.48,-6.01h-6.96zM201.77,366.58h6.96l-3.48,-6.01z"/>
<path fill="#a6ff7a" stroke="#a6ff7a" d="M121.71,360.57l3.48,-6.01h-6.96z"/>
<path fill="#d5ff51" stroke="#d5ff51" d="M149.56,360.57h6.96l-3.48,-6.01zM160,354.56l3.48,-6.01h-6.96zM163.48,336.53h6.96l-3.48,-6.01z"/>
<path fill="#efdf34" stroke="#efdf34" d="M170.44,360.57h6.96l-3.48,-6.01zM187.84,354.56l3.48,-6.01h-6.96z"/>
<path fill="#f0c12d" stroke="#f0c12d" d="M177.4,360.57l3.48,-6.01h-6.96z"/>
<path fill="#f38a20" stroke="#f38a20" d="M191.32,360.57l3.48,-6.01h-6.96z"/>
<path fill="#f56d1b" stroke="#f56d1b" d="M205.25,360.57l3.48,-6.01h-6.96zM205.25,360.57h6.96l-3.48,-6.01z"/>
<path fill="#99ff84" stroke="#99ff84" d="M111.27,354.56h6.96l-3.48,-6.01z"/>
<path fill="#9bff82" stroke="#9bff82" d="M118.23,354.56l3.48,-6.01h-6.96zM132.16,342.54l3.48,-6.01h-6.96z"/>
<path fill="#aeff72" stroke="#aeff72" d="M132.16,354.56l3.48,-6.01h-6.96z"/>
<path fill="#cbff59" stroke="#cbff59" d="M153.04,354.56l3.48,-6.01h-6.96z"/>
<path fill="#d2ff54" stroke="#d2ff54" d="M153.04,354.56h6.96l-3.48,-6.01zM166.96,330.52h6.96l-3.48,-6.01z"/>
<path fill="#e5ff44" stroke="#e5ff44" d="M166.96,354.56h6.96l-3.48,-6.01zM170.44,348.55h6.96l-3.48,-6.01z"/>
<path fill="#f0c32e" stroke="#f0c32e" d="M187.84,354.56h6.96l-3.48,-6.01z"/>
<path fill="#f0c92f" stroke="#f0c92f" d="M194.81,354.56l3.48,-6.01h-6.96z"/>
<path fill="#f1ad29" stroke="#f1ad29" d="M194.81,354.56h6.96l-3.48,-6.01z"/>
<path fill="#f1b22a" stroke="#f1b22a" d="M201.77,354.56l3.48,-6.01h-6.96z"/>
<path fill="#9fff80" stroke="#9fff80" d="M121.71,348.55h6.96l-3.48,-6.01z"/>
<path fill="#c9ff5b" stroke="#c9ff5b" d="M149.56,348.55h6.96l-3.48,-6.01z"/>
<path fill="#cdff58" stroke="#cdff58" d="M156.52,348.55l3.48,-6.01h-6.96zM160,330.52h6.96l-3.48,-6.01z"/>
<path fill="#d3ff53" stroke="#d3ff53" d="M156.52,348.55h6.96l-3.48,-6.01z"/>
<path fill="#e5ff43" stroke="#e5ff43" d="M177.4,348.55l3.48,-6.01h-6.96z"/>
<path fill="#f0cd30" stroke="#f0cd30" d="M198.29,348.55l3.48,-6.01h-6.96z"/>
<path fill="#a7ff79" stroke="#a7ff79" d="M139.12,342.54l3.48,-6.01h-6.96zM170.44,312.48h6.96l-3.48,-6.01z"/>
<path fill="#d4ff52" stroke="#d4ff52" d="M160,342.54h6.96l-3.48,-6.01zM184.36,324.51h6.96l-3.48,-6.01z"/>
<path fill="#d8ff4f" stroke="#d8ff4f" d="M166.96,342.54l3.48,-6.01h-6.96z"/>
<path fill="#ddff4b" stroke="#ddff4b" d="M166.96,342.54h6.96l-3.48,-6.01z"/>
<path fill="#ddff4a" stroke="#ddff4a" d="M173.92,342.54l3.48,-6.01h-6.96z"/>
<path fill="#e2ff46" stroke="#e2ff46" d="M180.88,342.54l3.48,-6.01h-6.96z"/>
<path fill="#efe837" stroke="#efe837" d="M194.81,342.54l3.48,-6.01h-6.96z"/>
<path fill="#ccff59" stroke="#ccff59" d="M156.52,336.53h6.96l-3.48,-6.01zM184.36,324.51l3.48,-6.01h-6.96z"/>
<path fill="#d0ff55" stroke="#d0ff55" d="M163.48,336.53l3.48,-6.01h-6.96z"/>
<path fill="#93ff96" stroke="#93ff96" d="M132.16,330.52l3.48,-6.01h-6.96z"/>
<path fill="#96ff89" stroke="#96ff89" d="M132.16,330.52h6.96l-3.48,-6.01z"/>
<path fill="#baff69" stroke="#baff69" d="M153.04,330.52l3.48,-6.01h-6.96z"/>
<path fill="#d2ff53" stroke="#d2ff53" d="M173.92,330.52l3.48,-6.01h-6.96z"/>
<path fill="#d7ff50" stroke="#d7ff50" d="M173.92,330.52h6.96l-3.48,-6.01z"/>
<path fill="#c0ff63" stroke="#c0ff63" d="M156.52,324.51h6.96l-3.48,-6.01zM180.88,318.49h6.96l-3.48,-6.01z"/>
<path fill="#beff65" stroke="#beff65" d="M163.48,324.51l3.48,-6.01h-6.96z"/>
<path fill="#cfff56" stroke="#cfff56" d="M177.4,324.51h6.96l-3.48,-6.01z"/>
<path fill="#8cffb4" stroke="#8cffb4" d="M132.16,318.49h6.96l-3.48,-6.01zM139.12,318.49l3.48,-6.01h-6.96z"/>
<path fill="#aeff73" stroke="#aeff73" d="M166.96,318.49l3.48,-6.01h-6.96z"/>
<path fill="#82ffe1" stroke="#82ffe1" d="M156.52,300.46l3.48,-6.01h-6.96z"/>
<path fill="#8affbc" stroke="#8affbc" d="M170.44,300.46l3.48,-6.01h-6.96z"/>
<path fill="#6ad1fc" stroke="#6ad1fc" d="M146.08,294.45h6.96l-3.48,-6.01z"/>
<path fill="#73e6fb" stroke="#73e6fb" d="M153.04,294.45h6.96l-3.48,-6.01z"/>
<path fill="#7bfbfa" stroke="#7bfbfa" d="M160,294.45h6.96l-3.48,-6.01z"/>
<path fill="#80ffeb" stroke="#80ffeb" d="M166.96,294.45h6.96l-3.48,-6.01z"/>
<path fill="#4e8cfe" stroke="#4e8cfe" d="M149.56,288.44h6.96l-3.48,-6.01z"/>
<path fill="#5091fe" stroke="#5091fe" d="M163.48,288.44l3.48,-6.01h-6.96z"/>
<path fill="#5fb6fd" stroke="#5fb6fd" d="M163.48,288.44h6.96l-3.48,-6.01z"/>
<path fill="#3249ff" stroke="#3249ff" d="M153.04,282.43h6.96l-3.48,-6.01z"/>
<path fill="#2c39ff" stroke="#2c39ff" d="M160,282.43l3.48,-6.01h-6.96z"/>
<path fill="#3b5dff" stroke="#3b5dff" d="M160,282.43h6.96l-3.48,-6.01z"/>
</g>
<circle cx="191.32" cy="378.6" r="10" fill="url(#spot)" opacity="0.75"/>
</g>
<path d="M144.34,297.46L253.98,486.8M128.68,324.51L222.65,486.8M113.01,351.55L191.32,486.8M97.35,378.6L160,486.8M81.69,405.65L128.68,486.8M66.03,432.7L97.35,486.8M50.36,459.75L66.03,486.8" fill="none" stroke="#2418c8" stroke-width="0.7" stroke-dasharray="2.3 1.5"/>
<path d="M66.03,486.8L175.66,297.46M97.35,486.8L191.32,324.51M128.68,486.8L206.99,351.55M160,486.8L222.65,378.6M191.32,486.8L238.31,405.65M222.65,486.8L253.98,432.7M253.98,486.8L269.64,459.75" fill="none" stroke="#e83030" stroke-width="0.7" stroke-dasharray="2.3 1.5"/>
<path d="M50.36,459.5H269.64M66.03,432.5H253.98M81.69,405.5H238.31M97.35,378.5H222.65M113.01,351.5H206.99M128.68,324.5H191.32M144.34,297.5H175.66" fill="none" stroke="#202020" stroke-width="0.62" stroke-dasharray="2.5 1.4"/>
<polygon points="34.7,486.8 285.3,486.8 160,270.41" fill="none" stroke="#000" stroke-width="0.7" stroke-linejoin="round"/>
<circle cx="34.7" cy="486.8" r="3.2" fill="#fff" stroke="#000" stroke-width="1"/>
<circle cx="285.3" cy="486.8" r="3.2" fill="#fff" stroke="#000" stroke-width="1"/>
<circle cx="160" cy="270.41" r="3.2" fill="#fff" stroke="#000" stroke-width="1"/>
<g font-family='"Liberation Serif","DejaVu Serif",serif' font-size="11.2" letter-spacing="0.18" fill="#1a1aff" stroke="#1a1aff" stroke-width="0.22">
<text x="125.4" y="273.28">0</text>
<text x="109.74" y="300.41">0.125</text>
<text x="94.08" y="327.54">0.25</text>
<text x="78.41" y="354.66">0.375</text>
<text x="62.75" y="381.79">0.5</text>
<text x="47.09" y="408.92">0.625</text>
<text x="31.42" y="436.05">0.75</text>
<text x="15.76" y="463.17">0.875</text>
<text x="0.1" y="490.3">1</text>
</g>
<g font-family='"Liberation Serif","DejaVu Serif",serif' font-size="11.2" letter-spacing="0.18" fill="#1a1a1a" stroke="#1a1a1a" stroke-width="0.22">
<text x="290.5" y="485">0</text>
<text x="274.84" y="457.87">0.125</text>
<text x="259.18" y="430.75">0.25</text>
<text x="243.51" y="403.62">0.375</text>
<text x="227.85" y="376.49">0.5</text>
<text x="212.19" y="349.36">0.625</text>
<text x="196.52" y="322.24">0.75</text>
<text x="180.86" y="295.11">0.875</text>
<text x="165.2" y="268.78">1</text>
</g>
<g font-family='"Liberation Serif","DejaVu Serif",serif' font-size="11.2" letter-spacing="0.18" fill="#e8222c" stroke="#e8222c" stroke-width="0.22">
<text x="34.9" y="501.1">0</text>
<text x="66.23" y="501.1">0.125</text>
<text x="97.55" y="501.1">0.25</text>
<text x="128.88" y="501.1">0.375</text>
<text x="160.2" y="501.1">0.5</text>
<text x="191.52" y="501.1">0.625</text>
<text x="222.85" y="501.1">0.75</text>
<text x="254.18" y="501.1">0.875</text>
<text x="285.5" y="501.1">1</text>
</g>
<text transform="translate(57.75,368.8) rotate(-60)" text-anchor="middle" font-family='"Liberation Serif","DejaVu Serif",serif' font-size="14.6" fill="#1a1aff" stroke="#1a1aff" stroke-width="0.3">Ge</text>
<text transform="translate(257.35,367.7) rotate(60)" text-anchor="middle" font-family='"Liberation Serif","DejaVu Serif",serif' font-size="14.6" fill="#1a1a1a" stroke="#1a1a1a" stroke-width="0.3">Sn</text>
<text x="160.2" y="515.2" text-anchor="middle" font-family='"Liberation Serif","DejaVu Serif",serif' font-size="14.4" fill="#e8222c" stroke="#e8222c" stroke-width="0.3">Si</text>
<text x="40" y="296.7" font-family='"Liberation Sans","DejaVu Sans",sans-serif' font-size="15.4" letter-spacing="0.15" fill="#111" stroke="#111" stroke-width="0.2">(b)AL1:</text>
<text x="41.2" y="317.3" font-family='"Liberation Sans","DejaVu Sans",sans-serif' font-size="15.4" letter-spacing="0.15" fill="#111" stroke="#111" stroke-width="0.2">Energy</text>
<rect x="309.8" y="269.8" width="10" height="217.1" fill="url(#jet)" stroke="#501010" stroke-opacity="0.5" stroke-width="0.4"/>
<path d="M309.8,295.1h1.8M319.8,295.1h-1.8M309.8,327.1h1.8M319.8,327.1h-1.8M309.8,359.1h1.8M319.8,359.1h-1.8M309.8,391.1h1.8M319.8,391.1h-1.8M309.8,423.1h1.8M319.8,423.1h-1.8M309.8,455.1h1.8M319.8,455.1h-1.8" stroke="#222" stroke-width="0.5" fill="none"/>
<g font-family='"Liberation Serif","DejaVu Serif",serif' font-size="11.2" letter-spacing="0.18" fill="#1a1a1a" stroke="#1a1a1a" stroke-width="0.22">
<text x="322.3" y="298.2">0.06</text>
<text x="322.3" y="330.2">0.05</text>
<text x="322.3" y="362.2">0.04</text>
<text x="322.3" y="394.2">0.03</text>
<text x="322.3" y="426.2">0.02</text>
<text x="322.3" y="458.2">0.01</text>
</g>
</g>
<g id="panel-c">
<g clip-path="url(#cpc)"><g filter="url(#sm)">
<path fill="#2c3bff" stroke="#2c3bff" d="M34.6,746.5h6.84l-3.42,-5.91z"/>
<path fill="#4f8ffe" stroke="#4f8ffe" d="M41.44,746.5l3.42,-5.91h-6.84z"/>
<path fill="#64c3fc" stroke="#64c3fc" d="M41.44,746.5h6.84l-3.42,-5.91z"/>
<path fill="#82ffe2" stroke="#82ffe2" d="M48.28,746.5l3.42,-5.91h-6.84z"/>
<path fill="#8cffb5" stroke="#8cffb5" d="M48.28,746.5h6.84l-3.42,-5.91z"/>
<path fill="#aeff73" stroke="#aeff73" d="M55.12,746.5l3.42,-5.91h-6.84z"/>
<path fill="#d1ff55" stroke="#d1ff55" d="M55.12,746.5h6.84l-3.42,-5.91z"/>
<path fill="#f0d432" stroke="#f0d432" d="M61.97,746.5l3.42,-5.91h-6.84zM55.12,734.68h6.84l-3.42,-5.91zM147.49,563.36h6.84l-3.42,-5.91z"/>
<path fill="#f1b52a" stroke="#f1b52a" d="M61.97,746.5h6.84l-3.42,-5.91z"/>
<path fill="#f1ab28" stroke="#f1ab28" d="M68.81,746.5l3.42,-5.91h-6.84zM79.07,716.96l3.42,-5.91h-6.84zM82.49,699.24l3.42,-5.91h-6.84zM82.49,687.42h6.84l-3.42,-5.91zM89.33,663.79l3.42,-5.91h-6.84zM137.22,604.71l3.42,-5.91h-6.84zM168.01,563.36l3.42,-5.91h-6.84z"/>
<path fill="#f29924" stroke="#f29924" d="M68.81,746.5h6.84l-3.42,-5.91zM150.91,675.61l3.42,-5.91h-6.84zM150.91,581.08l3.42,-5.91h-6.84z"/>
<path fill="#f28e21" stroke="#f28e21" d="M75.65,746.5l3.42,-5.91h-6.84zM243.27,740.59l3.42,-5.91h-6.84zM250.11,728.78l3.42,-5.91h-6.84zM233.01,722.87l3.42,-5.91h-6.84zM85.91,716.96l3.42,-5.91h-6.84zM92.75,669.7l3.42,-5.91h-6.84zM140.65,598.81h6.84l-3.42,-5.91z"/>
<path fill="#f37c1d" stroke="#f37c1d" d="M75.65,746.5h6.84l-3.42,-5.91zM92.75,705.15l3.42,-5.91h-6.84zM147.49,681.51h6.84l-3.42,-5.91zM171.43,569.27h6.84l-3.42,-5.91z"/>
<path fill="#f4741c" stroke="#f4741c" d="M82.49,746.5l3.42,-5.91h-6.84zM89.33,722.87l3.42,-5.91h-6.84zM250.11,716.96h6.84l-3.42,-5.91zM99.6,646.07h6.84l-3.42,-5.91zM161.17,575.17h6.84l-3.42,-5.91zM168.01,575.17l3.42,-5.91h-6.84z"/>
<path fill="#f6651a" stroke="#f6651a" d="M82.49,746.5h6.84l-3.42,-5.91zM219.32,722.87h6.84l-3.42,-5.91zM96.17,711.05l3.42,-5.91h-6.84zM116.7,628.34h6.84l-3.42,-5.91zM164.59,604.71l3.42,-5.91h-6.84zM164.59,592.9l3.42,-5.91h-6.84z"/>
<path fill="#f75c18" stroke="#f75c18" d="M89.33,746.5l3.42,-5.91h-6.84zM130.38,687.42l3.42,-5.91h-6.84zM130.38,687.42h6.84l-3.42,-5.91zM137.22,687.42h6.84l-3.42,-5.91zM144.07,687.42h6.84l-3.42,-5.91zM126.96,681.51l3.42,-5.91h-6.84zM123.54,675.61l3.42,-5.91h-6.84zM103.02,651.98h6.84l-3.42,-5.91zM144.07,651.98h6.84l-3.42,-5.91zM116.7,640.16l3.42,-5.91h-6.84zM120.12,634.25l3.42,-5.91h-6.84zM174.85,622.44l3.42,-5.91h-6.84z"/>
<path fill="#f84e16" stroke="#f84e16" d="M89.33,746.5h6.84l-3.42,-5.91zM99.6,716.96l3.42,-5.91h-6.84zM157.75,675.61h6.84l-3.42,-5.91zM157.75,663.79h6.84l-3.42,-5.91zM126.96,646.07h6.84l-3.42,-5.91zM209.06,646.07l3.42,-5.91h-6.84zM126.96,634.25h6.84l-3.42,-5.91zM188.54,610.62h6.84l-3.42,-5.91z"/>
<path fill="#f94314" stroke="#f94314" d="M96.17,746.5l3.42,-5.91h-6.84zM103.02,675.61h6.84l-3.42,-5.91zM133.8,646.07h6.84l-3.42,-5.91zM181.7,634.25l3.42,-5.91h-6.84zM150.91,628.34h6.84l-3.42,-5.91zM164.59,628.34l3.42,-5.91h-6.84z"/>
<path fill="#fa3913" stroke="#fa3913" d="M96.17,746.5h6.84l-3.42,-5.91zM113.28,705.15l3.42,-5.91h-6.84zM236.43,705.15h6.84l-3.42,-5.91zM120.12,646.07h6.84l-3.42,-5.91zM140.65,646.07h6.84l-3.42,-5.91zM174.85,634.25h6.84l-3.42,-5.91z"/>
<path fill="#fb3312" stroke="#fb3312" d="M103.02,746.5l3.42,-5.91h-6.84zM212.48,746.5h6.84l-3.42,-5.91zM209.06,728.78h6.84l-3.42,-5.91zM109.86,711.05l3.42,-5.91h-6.84zM116.7,663.79l3.42,-5.91h-6.84zM154.33,634.25l3.42,-5.91h-6.84z"/>
<path fill="#fb3111" stroke="#fb3111" d="M103.02,746.5h6.84l-3.42,-5.91zM99.6,728.78h6.84l-3.42,-5.91zM106.44,669.7h6.84l-3.42,-5.91zM205.64,651.98l3.42,-5.91h-6.84zM168.01,634.25l3.42,-5.91h-6.84z"/>
<path fill="#fc2a10" stroke="#fc2a10" d="M109.86,746.5l3.42,-5.91h-6.84zM157.75,687.42h6.84l-3.42,-5.91zM137.22,640.16h6.84l-3.42,-5.91z"/>
<path fill="#fc2810" stroke="#fc2810" d="M109.86,746.5h6.84l-3.42,-5.91zM106.44,740.59l3.42,-5.91h-6.84zM140.65,716.96l3.42,-5.91h-6.84zM140.65,716.96h6.84l-3.42,-5.91zM137.22,711.05l3.42,-5.91h-6.84zM137.22,711.05h6.84l-3.42,-5.91zM144.07,711.05l3.42,-5.91h-6.84zM144.07,711.05h6.84l-3.42,-5.91zM133.8,705.15l3.42,-5.91h-6.84zM133.8,705.15h6.84l-3.42,-5.91zM140.65,705.15l3.42,-5.91h-6.84zM140.65,705.15h6.84l-3.42,-5.91zM147.49,705.15l3.42,-5.91h-6.84zM147.49,705.15h6.84l-3.42,-5.91zM130.38,699.24l3.42,-5.91h-6.84zM130.38,699.24h6.84l-3.42,-5.91zM137.22,699.24l3.42,-5.91h-6.84zM137.22,699.24h6.84l-3.42,-5.91zM144.07,699.24l3.42,-5.91h-6.84zM144.07,699.24h6.84l-3.42,-5.91zM150.91,699.24l3.42,-5.91h-6.84zM150.91,699.24h6.84l-3.42,-5.91zM154.33,634.25h6.84l-3.42,-5.91z"/>
<path fill="#fc210f" stroke="#fc210f" d="M116.7,746.5l3.42,-5.91h-6.84zM137.22,734.68l3.42,-5.91h-6.84zM144.07,734.68l3.42,-5.91h-6.84zM147.49,728.78h6.84l-3.42,-5.91zM130.38,722.87h6.84l-3.42,-5.91zM150.91,722.87h6.84l-3.42,-5.91zM154.33,716.96h6.84l-3.42,-5.91zM116.7,711.05l3.42,-5.91h-6.84zM157.75,711.05h6.84l-3.42,-5.91zM236.43,705.15l3.42,-5.91h-6.84zM229.59,669.7h6.84l-3.42,-5.91zM209.06,657.88l3.42,-5.91h-6.84zM178.27,651.98l3.42,-5.91h-6.84z"/>
<path fill="#fd1f0e" stroke="#fd1f0e" d="M116.7,746.5h6.84l-3.42,-5.91zM130.38,722.87l3.42,-5.91h-6.84zM126.96,716.96l3.42,-5.91h-6.84zM123.54,711.05l3.42,-5.91h-6.84zM144.07,640.16h6.84l-3.42,-5.91z"/>
<path fill="#f91c0e" stroke="#f91c0e" d="M123.54,746.5l3.42,-5.91h-6.84zM123.54,746.5h6.84l-3.42,-5.91zM120.12,728.78h6.84l-3.42,-5.91zM109.86,722.87l3.42,-5.91h-6.84zM171.43,711.05l3.42,-5.91h-6.84zM168.01,681.51h6.84l-3.42,-5.91zM181.7,657.88h6.84l-3.42,-5.91zM171.43,651.98l3.42,-5.91h-6.84zM154.33,646.07h6.84l-3.42,-5.91z"/>
<path fill="#fb1c0e" stroke="#fb1c0e" d="M130.38,746.5l3.42,-5.91h-6.84zM137.22,746.5l3.42,-5.91h-6.84zM144.07,746.5l3.42,-5.91h-6.84zM150.91,746.5l3.42,-5.91h-6.84zM154.33,740.59h6.84l-3.42,-5.91zM123.54,734.68h6.84l-3.42,-5.91zM157.75,734.68h6.84l-3.42,-5.91zM161.17,728.78h6.84l-3.42,-5.91zM164.59,722.87h6.84l-3.42,-5.91zM246.69,699.24l3.42,-5.91h-6.84z"/>
<path fill="#fa1c0e" stroke="#fa1c0e" d="M130.38,746.5h6.84l-3.42,-5.91zM137.22,746.5h6.84l-3.42,-5.91zM144.07,746.5h6.84l-3.42,-5.91zM150.91,746.5h6.84l-3.42,-5.91zM157.75,746.5l3.42,-5.91h-6.84zM191.96,746.5l3.42,-5.91h-6.84zM126.96,740.59l3.42,-5.91h-6.84zM161.17,740.59l3.42,-5.91h-6.84zM195.38,740.59l3.42,-5.91h-6.84zM164.59,734.68l3.42,-5.91h-6.84zM198.8,734.68l3.42,-5.91h-6.84zM106.44,728.78h6.84l-3.42,-5.91zM168.01,728.78l3.42,-5.91h-6.84zM202.22,728.78l3.42,-5.91h-6.84zM123.54,722.87l3.42,-5.91h-6.84zM171.43,722.87l3.42,-5.91h-6.84zM205.64,722.87l3.42,-5.91h-6.84zM120.12,716.96l3.42,-5.91h-6.84zM168.01,716.96h6.84l-3.42,-5.91zM236.43,681.51h6.84l-3.42,-5.91zM171.43,675.61l3.42,-5.91h-6.84zM168.01,646.07h6.84l-3.42,-5.91z"/>
<path fill="#f81c0e" stroke="#f81c0e" d="M157.75,746.5h6.84l-3.42,-5.91zM164.59,746.5l3.42,-5.91h-6.84zM164.59,746.5h6.84l-3.42,-5.91zM171.43,746.5l3.42,-5.91h-6.84zM171.43,746.5h6.84l-3.42,-5.91zM178.28,746.5l3.42,-5.91h-6.84zM178.28,746.5h6.84l-3.42,-5.91zM185.12,746.5l3.42,-5.91h-6.84zM185.12,746.5h6.84l-3.42,-5.91zM161.17,740.59h6.84l-3.42,-5.91zM168.01,740.59l3.42,-5.91h-6.84zM168.01,740.59h6.84l-3.42,-5.91zM174.85,740.59l3.42,-5.91h-6.84zM174.85,740.59h6.84l-3.42,-5.91zM181.7,740.59l3.42,-5.91h-6.84zM181.7,740.59h6.84l-3.42,-5.91zM188.54,740.59l3.42,-5.91h-6.84zM188.54,740.59h6.84l-3.42,-5.91zM123.54,734.68l3.42,-5.91h-6.84zM164.59,734.68h6.84l-3.42,-5.91zM171.43,734.68l3.42,-5.91h-6.84zM171.43,734.68h6.84l-3.42,-5.91zM178.28,734.68l3.42,-5.91h-6.84zM178.28,734.68h6.84l-3.42,-5.91zM185.12,734.68l3.42,-5.91h-6.84zM185.12,734.68h6.84l-3.42,-5.91zM191.96,734.68l3.42,-5.91h-6.84zM191.96,734.68h6.84l-3.42,-5.91zM168.01,728.78h6.84l-3.42,-5.91zM174.85,728.78l3.42,-5.91h-6.84zM174.85,728.78h6.84l-3.42,-5.91zM181.7,728.78l3.42,-5.91h-6.84zM181.7,728.78h6.84l-3.42,-5.91zM188.54,728.78l3.42,-5.91h-6.84zM188.54,728.78h6.84l-3.42,-5.91zM195.38,728.78l3.42,-5.91h-6.84zM195.38,728.78h6.84l-3.42,-5.91zM171.43,722.87h6.84l-3.42,-5.91zM178.28,722.87h6.84l-3.42,-5.91zM185.12,722.87h6.84l-3.42,-5.91zM191.96,722.87h6.84l-3.42,-5.91zM198.8,722.87h6.84l-3.42,-5.91zM168.01,705.15h6.84l-3.42,-5.91zM171.43,687.42l3.42,-5.91h-6.84zM168.01,657.88h6.84l-3.42,-5.91zM191.96,651.98h6.84l-3.42,-5.91zM157.75,640.16l3.42,-5.91h-6.84z"/>
<path fill="#fd1e0e" stroke="#fd1e0e" d="M191.96,746.5h6.84l-3.42,-5.91zM133.8,740.59l3.42,-5.91h-6.84zM140.65,740.59l3.42,-5.91h-6.84zM147.49,740.59l3.42,-5.91h-6.84zM195.38,740.59h6.84l-3.42,-5.91zM109.86,734.68l3.42,-5.91h-6.84zM150.91,734.68h6.84l-3.42,-5.91zM198.8,734.68h6.84l-3.42,-5.91zM126.96,728.78h6.84l-3.42,-5.91zM154.33,728.78h6.84l-3.42,-5.91zM202.22,728.78h6.84l-3.42,-5.91zM157.75,722.87h6.84l-3.42,-5.91zM161.17,716.96h6.84l-3.42,-5.91zM209.06,716.96h6.84l-3.42,-5.91zM185.12,651.98h6.84l-3.42,-5.91zM174.85,646.07l3.42,-5.91h-6.84z"/>
<path fill="#fd200f" stroke="#fd200f" d="M198.8,746.5l3.42,-5.91h-6.84zM202.22,740.59l3.42,-5.91h-6.84zM137.22,734.68h6.84l-3.42,-5.91zM144.07,734.68h6.84l-3.42,-5.91zM150.91,734.68l3.42,-5.91h-6.84zM205.64,734.68l3.42,-5.91h-6.84zM154.33,728.78l3.42,-5.91h-6.84zM157.75,722.87l3.42,-5.91h-6.84zM106.44,716.96h6.84l-3.42,-5.91zM161.17,716.96l3.42,-5.91h-6.84zM215.9,716.96l3.42,-5.91h-6.84zM164.59,711.05l3.42,-5.91h-6.84zM168.01,669.7h6.84l-3.42,-5.91zM161.17,657.88h6.84l-3.42,-5.91zM174.85,657.88h6.84l-3.42,-5.91z"/>
<path fill="#fc250f" stroke="#fc250f" d="M198.8,746.5h6.84l-3.42,-5.91zM202.22,740.59h6.84l-3.42,-5.91zM205.64,734.68h6.84l-3.42,-5.91zM140.65,728.78l3.42,-5.91h-6.84zM144.07,722.87h6.84l-3.42,-5.91zM147.49,716.96h6.84l-3.42,-5.91zM150.91,711.05h6.84l-3.42,-5.91zM219.32,711.05h6.84l-3.42,-5.91zM154.33,705.15h6.84l-3.42,-5.91zM198.8,651.98l3.42,-5.91h-6.84zM171.43,640.16l3.42,-5.91h-6.84z"/>
<path fill="#fc2710" stroke="#fc2710" d="M205.64,746.5l3.42,-5.91h-6.84zM209.06,740.59l3.42,-5.91h-6.84zM209.06,728.78l3.42,-5.91h-6.84zM137.22,722.87h6.84l-3.42,-5.91zM144.07,722.87l3.42,-5.91h-6.84zM147.49,716.96l3.42,-5.91h-6.84zM150.91,711.05l3.42,-5.91h-6.84zM226.17,711.05l3.42,-5.91h-6.84zM120.12,705.15l3.42,-5.91h-6.84zM154.33,705.15l3.42,-5.91h-6.84zM157.75,699.24l3.42,-5.91h-6.84zM161.17,681.51h6.84l-3.42,-5.91zM185.12,651.98l3.42,-5.91h-6.84zM181.7,646.07l3.42,-5.91h-6.84zM188.54,646.07h6.84l-3.42,-5.91zM161.17,634.25h6.84l-3.42,-5.91z"/>
<path fill="#fb2c11" stroke="#fb2c11" d="M205.64,746.5h6.84l-3.42,-5.91zM209.06,740.59h6.84l-3.42,-5.91zM205.64,722.87h6.84l-3.42,-5.91zM123.54,699.24l3.42,-5.91h-6.84zM188.54,646.07l3.42,-5.91h-6.84z"/>
<path fill="#fb2f11" stroke="#fb2f11" d="M212.48,746.5l3.42,-5.91h-6.84zM99.6,740.59h6.84l-3.42,-5.91zM212.48,734.68l3.42,-5.91h-6.84zM113.28,669.7l3.42,-5.91h-6.84zM226.17,663.79l3.42,-5.91h-6.84zM226.17,663.79h6.84l-3.42,-5.91zM215.9,657.88l3.42,-5.91h-6.84zM215.9,657.88h6.84l-3.42,-5.91zM147.49,634.25h6.84l-3.42,-5.91z"/>
<path fill="#fa3d13" stroke="#fa3d13" d="M219.32,746.5l3.42,-5.91h-6.84zM222.75,716.96l3.42,-5.91h-6.84zM106.44,705.15h6.84l-3.42,-5.91zM222.75,657.88l3.42,-5.91h-6.84zM222.75,657.88h6.84l-3.42,-5.91zM212.48,651.98h6.84l-3.42,-5.91zM126.96,646.07l3.42,-5.91h-6.84zM157.75,628.34h6.84l-3.42,-5.91zM164.59,628.34h6.84l-3.42,-5.91z"/>
<path fill="#f94515" stroke="#f94515" d="M219.32,746.5h6.84l-3.42,-5.91zM106.44,657.88h6.84l-3.42,-5.91z"/>
<path fill="#f85217" stroke="#f85217" d="M226.17,746.5l3.42,-5.91h-6.84zM222.75,740.59l3.42,-5.91h-6.84zM219.32,722.87l3.42,-5.91h-6.84zM168.01,622.44h6.84l-3.42,-5.91z"/>
<path fill="#f75717" stroke="#f75717" d="M226.17,746.5h6.84l-3.42,-5.91zM92.75,740.59l3.42,-5.91h-6.84zM219.32,734.68h6.84l-3.42,-5.91zM222.75,716.96h6.84l-3.42,-5.91zM246.69,711.05l3.42,-5.91h-6.84zM109.86,651.98l3.42,-5.91h-6.84z"/>
<path fill="#f66419" stroke="#f66419" d="M233.01,746.5l3.42,-5.91h-6.84zM171.43,616.53h6.84l-3.42,-5.91zM181.7,610.62l3.42,-5.91h-6.84zM161.17,598.81h6.84l-3.42,-5.91z"/>
<path fill="#f5691a" stroke="#f5691a" d="M233.01,746.5h6.84l-3.42,-5.91zM256.95,716.96l3.42,-5.91h-6.84zM99.6,693.33l3.42,-5.91h-6.84zM137.22,687.42l3.42,-5.91h-6.84zM144.07,687.42l3.42,-5.91h-6.84zM150.91,687.42l3.42,-5.91h-6.84zM126.96,681.51h6.84l-3.42,-5.91zM123.54,675.61h6.84l-3.42,-5.91zM157.75,675.61l3.42,-5.91h-6.84zM120.12,669.7h6.84l-3.42,-5.91zM123.54,628.34l3.42,-5.91h-6.84zM171.43,616.53l3.42,-5.91h-6.84zM157.75,604.71h6.84l-3.42,-5.91zM171.43,604.71l3.42,-5.91h-6.84zM154.33,598.81l3.42,-5.91h-6.84zM168.01,598.81h6.84l-3.42,-5.91zM150.91,592.9h6.84l-3.42,-5.91z"/>
<path fill="#f4761c" stroke="#f4761c" d="M239.85,746.5l3.42,-5.91h-6.84zM126.96,657.88h6.84l-3.42,-5.91zM103.02,640.16h6.84l-3.42,-5.91zM106.44,634.25h6.84l-3.42,-5.91zM109.86,628.34h6.84l-3.42,-5.91zM133.8,622.44l3.42,-5.91h-6.84zM147.49,610.62h6.84l-3.42,-5.91zM181.7,586.99l3.42,-5.91h-6.84z"/>
<path fill="#f47a1d" stroke="#f47a1d" d="M239.85,746.5h6.84l-3.42,-5.91zM174.85,575.17h6.84l-3.42,-5.91z"/>
<path fill="#f38920" stroke="#f38920" d="M246.69,746.5l3.42,-5.91h-6.84zM79.07,740.59l3.42,-5.91h-6.84zM85.91,705.15h6.84l-3.42,-5.91zM92.75,693.33l3.42,-5.91h-6.84zM144.07,604.71l3.42,-5.91h-6.84z"/>
<path fill="#f38b20" stroke="#f38b20" d="M246.69,746.5h6.84l-3.42,-5.91zM250.11,728.78h6.84l-3.42,-5.91z"/>
<path fill="#f2a126" stroke="#f2a126" d="M253.53,746.5l3.42,-5.91h-6.84zM82.49,711.05l3.42,-5.91h-6.84zM130.38,663.79h6.84l-3.42,-5.91zM140.65,598.81l3.42,-5.91h-6.84zM140.65,586.99h6.84l-3.42,-5.91zM154.33,575.17l3.42,-5.91h-6.84z"/>
<path fill="#ecff3e" stroke="#ecff3e" d="M253.53,746.5h6.84l-3.42,-5.91z"/>
<path fill="#cbff5a" stroke="#cbff5a" d="M260.38,746.5l3.42,-5.91h-6.84z"/>
<path fill="#92ff99" stroke="#92ff99" d="M260.38,746.5h6.84l-3.42,-5.91z"/>
<path fill="#89ffc4" stroke="#89ffc4" d="M267.22,746.5l3.42,-5.91h-6.84z"/>
<path fill="#6dd8fb" stroke="#6dd8fb" d="M267.22,746.5h6.84l-3.42,-5.91z"/>
<path fill="#59a8fd" stroke="#59a8fd" d="M274.06,746.5l3.42,-5.91h-6.84z"/>
<path fill="#3147ff" stroke="#3147ff" d="M274.06,746.5h6.84l-3.42,-5.91z"/>
<path fill="#5eb3fd" stroke="#5eb3fd" d="M38.02,740.59h6.84l-3.42,-5.91z"/>
<path fill="#7ffff1" stroke="#7ffff1" d="M44.86,740.59l3.42,-5.91h-6.84z"/>
<path fill="#89ffc3" stroke="#89ffc3" d="M44.86,740.59h6.84l-3.42,-5.91z"/>
<path fill="#a3ff7c" stroke="#a3ff7c" d="M51.7,740.59l3.42,-5.91h-6.84z"/>
<path fill="#c6ff5e" stroke="#c6ff5e" d="M51.7,740.59h6.84l-3.42,-5.91z"/>
<path fill="#efe436" stroke="#efe436" d="M58.55,740.59l3.42,-5.91h-6.84zM51.7,728.78h6.84l-3.42,-5.91z"/>
<path fill="#f0c42e" stroke="#f0c42e" d="M58.55,740.59h6.84l-3.42,-5.91z"/>
<path fill="#f1bc2c" stroke="#f1bc2c" d="M65.39,740.59l3.42,-5.91h-6.84z"/>
<path fill="#f1b029" stroke="#f1b029" d="M65.39,740.59h6.84l-3.42,-5.91zM144.07,663.79l3.42,-5.91h-6.84zM133.8,598.81h6.84l-3.42,-5.91zM150.91,569.27h6.84l-3.42,-5.91z"/>
<path fill="#f1a627" stroke="#f1a627" d="M72.23,740.59l3.42,-5.91h-6.84z"/>
<path fill="#f29423" stroke="#f29423" d="M72.23,740.59h6.84l-3.42,-5.91zM239.85,734.68h6.84l-3.42,-5.91zM239.85,722.87l3.42,-5.91h-6.84zM85.91,693.33h6.84l-3.42,-5.91z"/>
<path fill="#f4791d" stroke="#f4791d" d="M79.07,740.59h6.84l-3.42,-5.91zM236.43,740.59l3.42,-5.91h-6.84zM85.91,716.96h6.84l-3.42,-5.91zM243.27,716.96h6.84l-3.42,-5.91zM150.91,675.61h6.84l-3.42,-5.91zM150.91,663.79h6.84l-3.42,-5.91zM113.28,622.44h6.84l-3.42,-5.91zM126.96,622.44l3.42,-5.91h-6.84zM150.91,616.53l3.42,-5.91h-6.84zM150.91,592.9l3.42,-5.91h-6.84zM178.28,581.08h6.84l-3.42,-5.91zM174.85,575.17l3.42,-5.91h-6.84z"/>
<path fill="#f5701b" stroke="#f5701b" d="M85.91,740.59l3.42,-5.91h-6.84zM226.17,734.68h6.84l-3.42,-5.91zM236.43,716.96l3.42,-5.91h-6.84zM154.33,610.62h6.84l-3.42,-5.91zM150.91,604.71l3.42,-5.91h-6.84zM147.49,598.81h6.84l-3.42,-5.91zM178.27,592.9l3.42,-5.91h-6.84zM174.85,586.99l3.42,-5.91h-6.84z"/>
<path fill="#f66219" stroke="#f66219" d="M85.91,740.59h6.84l-3.42,-5.91zM89.33,722.87h6.84l-3.42,-5.91zM239.85,711.05h6.84l-3.42,-5.91zM109.86,640.16h6.84l-3.42,-5.91zM113.28,634.25h6.84l-3.42,-5.91zM157.75,592.9h6.84l-3.42,-5.91z"/>
<path fill="#f94615" stroke="#f94615" d="M92.75,740.59h6.84l-3.42,-5.91zM243.27,705.15h6.84l-3.42,-5.91zM113.28,693.33l3.42,-5.91h-6.84zM109.86,687.42l3.42,-5.91h-6.84zM157.75,687.42l3.42,-5.91h-6.84zM106.44,681.51l3.42,-5.91h-6.84zM140.65,634.25l3.42,-5.91h-6.84zM171.43,628.34h6.84l-3.42,-5.91z"/>
<path fill="#fa3813" stroke="#fa3813" d="M99.6,740.59l3.42,-5.91h-6.84z"/>
<path fill="#fc2610" stroke="#fc2610" d="M106.44,740.59h6.84l-3.42,-5.91zM103.02,722.87h6.84l-3.42,-5.91zM133.8,716.96h6.84l-3.42,-5.91zM109.86,711.05h6.84l-3.42,-5.91zM130.38,711.05h6.84l-3.42,-5.91zM126.96,705.15h6.84l-3.42,-5.91zM123.54,699.24h6.84l-3.42,-5.91zM178.27,651.98h6.84l-3.42,-5.91zM147.49,646.07l3.42,-5.91h-6.84z"/>
<path fill="#fd1f0f" stroke="#fd1f0f" d="M113.28,740.59l3.42,-5.91h-6.84zM130.38,734.68h6.84l-3.42,-5.91zM164.59,699.24l3.42,-5.91h-6.84zM161.17,693.33h6.84l-3.42,-5.91z"/>
<path fill="#fd1d0e" stroke="#fd1d0e" d="M113.28,740.59h6.84l-3.42,-5.91zM133.8,740.59h6.84l-3.42,-5.91zM140.65,740.59h6.84l-3.42,-5.91zM147.49,740.59h6.84l-3.42,-5.91zM154.33,740.59l3.42,-5.91h-6.84zM130.38,734.68l3.42,-5.91h-6.84zM157.75,734.68l3.42,-5.91h-6.84zM161.17,728.78l3.42,-5.91h-6.84zM164.59,722.87l3.42,-5.91h-6.84zM168.01,716.96l3.42,-5.91h-6.84zM164.59,711.05h6.84l-3.42,-5.91zM239.85,699.24h6.84l-3.42,-5.91zM168.01,681.51l3.42,-5.91h-6.84zM233.01,675.61h6.84l-3.42,-5.91zM171.43,651.98h6.84l-3.42,-5.91z"/>
<path fill="#f71b0e" stroke="#f71b0e" d="M120.12,740.59l3.42,-5.91h-6.84zM120.12,740.59h6.84l-3.42,-5.91zM116.7,722.87h6.84l-3.42,-5.91zM171.43,699.24l3.42,-5.91h-6.84zM168.01,693.33h6.84l-3.42,-5.91zM233.01,675.61l3.42,-5.91h-6.84zM171.43,663.79l3.42,-5.91h-6.84z"/>
<path fill="#fd1c0e" stroke="#fd1c0e" d="M126.96,740.59h6.84l-3.42,-5.91zM123.54,722.87h6.84l-3.42,-5.91zM113.28,716.96l3.42,-5.91h-6.84zM168.01,705.15l3.42,-5.91h-6.84zM164.59,687.42h6.84l-3.42,-5.91zM178.28,663.79l3.42,-5.91h-6.84zM174.85,657.88l3.42,-5.91h-6.84zM157.75,651.98h6.84l-3.42,-5.91zM191.96,651.98l3.42,-5.91h-6.84zM164.59,640.16l3.42,-5.91h-6.84z"/>
<path fill="#fa3612" stroke="#fa3612" d="M215.9,740.59l3.42,-5.91h-6.84zM212.48,722.87l3.42,-5.91h-6.84zM120.12,657.88l3.42,-5.91h-6.84zM137.22,640.16l3.42,-5.91h-6.84z"/>
<path fill="#f94114" stroke="#f94114" d="M215.9,740.59h6.84l-3.42,-5.91zM99.6,728.78l3.42,-5.91h-6.84zM202.22,646.07l3.42,-5.91h-6.84zM130.38,640.16l3.42,-5.91h-6.84zM195.38,610.62h6.84l-3.42,-5.91z"/>
<path fill="#f75a18" stroke="#f75a18" d="M222.75,740.59h6.84l-3.42,-5.91zM123.54,663.79l3.42,-5.91h-6.84zM215.9,646.07l3.42,-5.91h-6.84zM215.9,646.07h6.84l-3.42,-5.91zM181.7,610.62h6.84l-3.42,-5.91z"/>
<path fill="#f5671a" stroke="#f5671a" d="M229.59,740.59l3.42,-5.91h-6.84zM226.17,734.68l3.42,-5.91h-6.84zM99.6,669.7l3.42,-5.91h-6.84zM168.01,610.62h6.84l-3.42,-5.91zM185.12,604.71l3.42,-5.91h-6.84zM154.33,598.81h6.84l-3.42,-5.91zM164.59,592.9h6.84l-3.42,-5.91z"/>
<path fill="#f56c1b" stroke="#f56c1b" d="M229.59,740.59h6.84l-3.42,-5.91zM222.75,728.78h6.84l-3.42,-5.91zM92.75,716.96l3.42,-5.91h-6.84zM161.17,610.62l3.42,-5.91h-6.84zM174.85,598.81l3.42,-5.91h-6.84zM168.01,586.99h6.84l-3.42,-5.91z"/>
<path fill="#f37e1e" stroke="#f37e1e" d="M236.43,740.59h6.84l-3.42,-5.91zM85.91,728.78l3.42,-5.91h-6.84zM96.17,663.79l3.42,-5.91h-6.84zM137.22,616.53h6.84l-3.42,-5.91zM144.07,616.53l3.42,-5.91h-6.84zM157.75,581.08l3.42,-5.91h-6.84z"/>
<path fill="#f28f22" stroke="#f28f22" d="M243.27,740.59h6.84l-3.42,-5.91zM246.69,722.87h6.84l-3.42,-5.91zM89.33,699.24l3.42,-5.91h-6.84zM109.86,616.53h6.84l-3.42,-5.91zM164.59,569.27l3.42,-5.91h-6.84z"/>
<path fill="#f38c21" stroke="#f38c21" d="M250.11,740.59l3.42,-5.91h-6.84zM89.33,687.42h6.84l-3.42,-5.91zM92.75,681.51l3.42,-5.91h-6.84zM89.33,675.61h6.84l-3.42,-5.91zM154.33,669.7l3.42,-5.91h-6.84zM96.17,640.16h6.84l-3.42,-5.91zM99.6,634.25h6.84l-3.42,-5.91zM103.02,628.34h6.84l-3.42,-5.91zM106.44,622.44h6.84l-3.42,-5.91zM130.38,616.53l3.42,-5.91h-6.84zM154.33,575.17h6.84l-3.42,-5.91z"/>
<path fill="#f38820" stroke="#f38820" d="M250.11,740.59h6.84l-3.42,-5.91zM256.95,728.78l3.42,-5.91h-6.84zM253.53,722.87h6.84l-3.42,-5.91z"/>
<path fill="#f29e25" stroke="#f29e25" d="M256.95,740.59l3.42,-5.91h-6.84zM161.17,563.36h6.84l-3.42,-5.91z"/>
<path fill="#eeff3c" stroke="#eeff3c" d="M256.95,740.59h6.84l-3.42,-5.91z"/>
<path fill="#cdff58" stroke="#cdff58" d="M263.8,740.59l3.42,-5.91h-6.84z"/>
<path fill="#92ff97" stroke="#92ff97" d="M263.8,740.59h6.84l-3.42,-5.91z"/>
<path fill="#89ffc2" stroke="#89ffc2" d="M270.64,740.59l3.42,-5.91h-6.84z"/>
<path fill="#6edbfb" stroke="#6edbfb" d="M270.64,740.59h6.84l-3.42,-5.91z"/>
<path fill="#86ffd1" stroke="#86ffd1" d="M41.44,734.68h6.84l-3.42,-5.91z"/>
<path fill="#98ff85" stroke="#98ff85" d="M48.28,734.68l3.42,-5.91h-6.84z"/>
<path fill="#bbff67" stroke="#bbff67" d="M48.28,734.68h6.84l-3.42,-5.91z"/>
<path fill="#eef439" stroke="#eef439" d="M55.12,734.68l3.42,-5.91h-6.84zM48.28,722.87h6.84l-3.42,-5.91z"/>
<path fill="#f0cc30" stroke="#f0cc30" d="M61.97,734.68l3.42,-5.91h-6.84zM120.12,598.81h6.84l-3.42,-5.91z"/>
<path fill="#f0c02d" stroke="#f0c02d" d="M61.97,734.68h6.84l-3.42,-5.91zM72.23,705.15h6.84l-3.42,-5.91zM79.07,693.33l3.42,-5.91h-6.84z"/>
<path fill="#f1b82b" stroke="#f1b82b" d="M68.81,734.68l3.42,-5.91h-6.84zM116.7,604.71h6.84l-3.42,-5.91z"/>
<path fill="#f1ac28" stroke="#f1ac28" d="M68.81,734.68h6.84l-3.42,-5.91z"/>
<path fill="#f2a226" stroke="#f2a226" d="M75.65,734.68l3.42,-5.91h-6.84z"/>
<path fill="#f29022" stroke="#f29022" d="M75.65,734.68h6.84l-3.42,-5.91zM92.75,646.07h6.84l-3.42,-5.91zM123.54,616.53l3.42,-5.91h-6.84z"/>
<path fill="#f3851f" stroke="#f3851f" d="M82.49,734.68l3.42,-5.91h-6.84zM89.33,711.05l3.42,-5.91h-6.84zM144.07,592.9h6.84l-3.42,-5.91z"/>
<path fill="#f4751c" stroke="#f4751c" d="M82.49,734.68h6.84l-3.42,-5.91zM96.17,699.24l3.42,-5.91h-6.84zM154.33,669.7h6.84l-3.42,-5.91zM147.49,657.88h6.84l-3.42,-5.91zM96.17,651.98h6.84l-3.42,-5.91zM120.12,622.44h6.84l-3.42,-5.91zM185.12,592.9l3.42,-5.91h-6.84zM168.01,575.17h6.84l-3.42,-5.91z"/>
<path fill="#f56a1a" stroke="#f56a1a" d="M89.33,734.68l3.42,-5.91h-6.84z"/>
<path fill="#f75918" stroke="#f75918" d="M89.33,734.68h6.84l-3.42,-5.91zM229.59,716.96l3.42,-5.91h-6.84z"/>
<path fill="#f84c16" stroke="#f84c16" d="M96.17,734.68l3.42,-5.91h-6.84zM116.7,663.79h6.84l-3.42,-5.91zM219.32,651.98l3.42,-5.91h-6.84zM219.32,651.98h6.84l-3.42,-5.91zM113.28,646.07h6.84l-3.42,-5.91z"/>
<path fill="#fa3b13" stroke="#fa3b13" d="M96.17,734.68h6.84l-3.42,-5.91zM133.8,646.07l3.42,-5.91h-6.84zM198.8,616.53l3.42,-5.91h-6.84z"/>
<path fill="#fb2e11" stroke="#fb2e11" d="M103.02,734.68l3.42,-5.91h-6.84zM120.12,693.33h6.84l-3.42,-5.91zM154.33,693.33h6.84l-3.42,-5.91zM116.7,687.42h6.84l-3.42,-5.91zM113.28,681.51h6.84l-3.42,-5.91zM109.86,675.61h6.84l-3.42,-5.91zM109.86,663.79h6.84l-3.42,-5.91zM147.49,646.07h6.84l-3.42,-5.91zM178.27,640.16l3.42,-5.91h-6.84z"/>
<path fill="#fc240f" stroke="#fc240f" d="M103.02,734.68h6.84l-3.42,-5.91zM140.65,728.78h6.84l-3.42,-5.91zM147.49,728.78l3.42,-5.91h-6.84zM137.22,722.87l3.42,-5.91h-6.84zM150.91,722.87l3.42,-5.91h-6.84zM133.8,716.96l3.42,-5.91h-6.84zM154.33,716.96l3.42,-5.91h-6.84zM130.38,711.05l3.42,-5.91h-6.84zM157.75,711.05l3.42,-5.91h-6.84zM126.96,705.15l3.42,-5.91h-6.84zM161.17,705.15l3.42,-5.91h-6.84zM229.59,705.15h6.84l-3.42,-5.91zM157.75,699.24h6.84l-3.42,-5.91zM161.17,693.33l3.42,-5.91h-6.84zM198.8,651.98h6.84l-3.42,-5.91zM171.43,640.16h6.84l-3.42,-5.91z"/>
<path fill="#fc1c0e" stroke="#fc1c0e" d="M109.86,734.68h6.84l-3.42,-5.91zM126.96,728.78l3.42,-5.91h-6.84zM120.12,716.96h6.84l-3.42,-5.91zM116.7,711.05h6.84l-3.42,-5.91zM164.59,699.24h6.84l-3.42,-5.91zM168.01,693.33l3.42,-5.91h-6.84zM171.43,663.79h6.84l-3.42,-5.91zM154.33,646.07l3.42,-5.91h-6.84zM164.59,640.16h6.84l-3.42,-5.91z"/>
<path fill="#f41b0e" stroke="#f41b0e" d="M116.7,734.68l3.42,-5.91h-6.84zM116.7,734.68h6.84l-3.42,-5.91zM116.7,722.87l3.42,-5.91h-6.84zM174.85,716.96l3.42,-5.91h-6.84zM171.43,711.05h6.84l-3.42,-5.91zM174.85,681.51l3.42,-5.91h-6.84zM171.43,675.61h6.84l-3.42,-5.91zM150.91,640.16h6.84l-3.42,-5.91z"/>
<path fill="#fa3a13" stroke="#fa3a13" d="M212.48,734.68h6.84l-3.42,-5.91zM215.9,716.96h6.84l-3.42,-5.91zM250.11,705.15l3.42,-5.91h-6.84zM123.54,651.98l3.42,-5.91h-6.84zM191.96,640.16h6.84l-3.42,-5.91zM140.65,634.25h6.84l-3.42,-5.91zM174.85,634.25l3.42,-5.91h-6.84zM188.54,634.25l3.42,-5.91h-6.84zM195.38,634.25h6.84l-3.42,-5.91zM191.96,628.34l3.42,-5.91h-6.84zM198.8,628.34h6.84l-3.42,-5.91zM195.38,622.44l3.42,-5.91h-6.84zM202.22,622.44h6.84l-3.42,-5.91z"/>
<path fill="#f84b16" stroke="#f84b16" d="M219.32,734.68l3.42,-5.91h-6.84zM205.64,640.16l3.42,-5.91h-6.84zM209.06,634.25l3.42,-5.91h-6.84zM178.28,628.34h6.84l-3.42,-5.91zM181.7,622.44h6.84l-3.42,-5.91zM185.12,616.53h6.84l-3.42,-5.91zM195.38,610.62l3.42,-5.91h-6.84z"/>
<path fill="#f37d1d" stroke="#f37d1d" d="M233.01,734.68l3.42,-5.91h-6.84zM229.59,728.78l3.42,-5.91h-6.84zM120.12,622.44l3.42,-5.91h-6.84z"/>
<path fill="#f3821e" stroke="#f3821e" d="M233.01,734.68h6.84l-3.42,-5.91zM226.17,722.87h6.84l-3.42,-5.91zM260.38,722.87h6.84l-3.42,-5.91zM130.38,616.53h6.84l-3.42,-5.91z"/>
<path fill="#f29222" stroke="#f29222" d="M239.85,734.68l3.42,-5.91h-6.84zM82.49,711.05h6.84l-3.42,-5.91zM89.33,663.79h6.84l-3.42,-5.91zM140.65,610.62l3.42,-5.91h-6.84z"/>
<path fill="#f29122" stroke="#f29122" d="M246.69,734.68l3.42,-5.91h-6.84zM243.27,728.78h6.84l-3.42,-5.91z"/>
<path fill="#f28d21" stroke="#f28d21" d="M246.69,734.68h6.84l-3.42,-5.91zM246.69,722.87l3.42,-5.91h-6.84zM140.65,657.88h6.84l-3.42,-5.91z"/>
<path fill="#f38a20" stroke="#f38a20" d="M253.53,734.68l3.42,-5.91h-6.84z"/>
<path fill="#f3861f" stroke="#f3861f" d="M253.53,734.68h6.84l-3.42,-5.91zM133.8,657.88l3.42,-5.91h-6.84zM161.17,575.17l3.42,-5.91h-6.84z"/>
<path fill="#f29c25" stroke="#f29c25" d="M260.38,734.68l3.42,-5.91h-6.84z"/>
<path fill="#eefd3c" stroke="#eefd3c" d="M260.38,734.68h6.84l-3.42,-5.91z"/>
<path fill="#ceff57" stroke="#ceff57" d="M267.22,734.68l3.42,-5.91h-6.84z"/>
<path fill="#93ff95" stroke="#93ff95" d="M267.22,734.68h6.84l-3.42,-5.91z"/>
<path fill="#b0ff71" stroke="#b0ff71" d="M44.86,728.78h6.84l-3.42,-5.91zM144.07,557.45h6.84l-3.42,-5.91z"/>
<path fill="#ebff3f" stroke="#ebff3f" d="M51.7,728.78l3.42,-5.91h-6.84z"/>
<path fill="#efdc34" stroke="#efdc34" d="M58.55,728.78l3.42,-5.91h-6.84zM72.23,681.51h6.84l-3.42,-5.91zM130.38,592.9l3.42,-5.91h-6.84z"/>
<path fill="#f0d031" stroke="#f0d031" d="M58.55,728.78h6.84l-3.42,-5.91zM79.07,669.7h6.84l-3.42,-5.91z"/>
<path fill="#f0c72f" stroke="#f0c72f" d="M65.39,728.78l3.42,-5.91h-6.84z"/>
<path fill="#f1bb2c" stroke="#f1bb2c" d="M65.39,728.78h6.84l-3.42,-5.91zM82.49,687.42l3.42,-5.91h-6.84zM85.91,669.7l3.42,-5.91h-6.84zM144.07,581.08l3.42,-5.91h-6.84z"/>
<path fill="#f1b32a" stroke="#f1b32a" d="M72.23,728.78l3.42,-5.91h-6.84zM137.22,663.79l3.42,-5.91h-6.84z"/>
<path fill="#f1a727" stroke="#f1a727" d="M72.23,728.78h6.84l-3.42,-5.91zM137.22,592.9h6.84l-3.42,-5.91zM147.49,575.17h6.84l-3.42,-5.91z"/>
<path fill="#f29d25" stroke="#f29d25" d="M79.07,728.78l3.42,-5.91h-6.84zM233.01,722.87h6.84l-3.42,-5.91z"/>
<path fill="#f38b21" stroke="#f38b21" d="M79.07,728.78h6.84l-3.42,-5.91zM96.17,651.98l3.42,-5.91h-6.84zM116.7,616.53h6.84l-3.42,-5.91z"/>
<path fill="#f56d1b" stroke="#f56d1b" d="M85.91,728.78h6.84l-3.42,-5.91zM154.33,681.51l3.42,-5.91h-6.84zM157.75,616.53h6.84l-3.42,-5.91zM171.43,592.9h6.84l-3.42,-5.91zM157.75,581.08h6.84l-3.42,-5.91zM164.59,581.08l3.42,-5.91h-6.84z"/>
<path fill="#f65f19" stroke="#f65f19" d="M92.75,728.78l3.42,-5.91h-6.84zM161.17,669.7l3.42,-5.91h-6.84zM137.22,651.98l3.42,-5.91h-6.84z"/>
<path fill="#f84f16" stroke="#f84f16" d="M92.75,728.78h6.84l-3.42,-5.91zM99.6,705.15h6.84l-3.42,-5.91zM120.12,657.88h6.84l-3.42,-5.91zM116.7,640.16h6.84l-3.42,-5.91z"/>
<path fill="#fc230f" stroke="#fc230f" d="M106.44,728.78l3.42,-5.91h-6.84zM133.8,728.78h6.84l-3.42,-5.91zM164.59,675.61h6.84l-3.42,-5.91zM164.59,663.79h6.84l-3.42,-5.91z"/>
<path fill="#f21b0e" stroke="#f21b0e" d="M113.28,728.78l3.42,-5.91h-6.84zM113.28,728.78h6.84l-3.42,-5.91zM174.85,705.15l3.42,-5.91h-6.84zM171.43,699.24h6.84l-3.42,-5.91zM174.85,693.33l3.42,-5.91h-6.84zM171.43,687.42h6.84l-3.42,-5.91zM222.75,669.7l3.42,-5.91h-6.84zM212.48,663.79l3.42,-5.91h-6.84zM212.48,663.79h6.84l-3.42,-5.91z"/>
<path fill="#f61b0e" stroke="#f61b0e" d="M120.12,728.78l3.42,-5.91h-6.84zM113.28,716.96h6.84l-3.42,-5.91z"/>
<path fill="#fd210f" stroke="#fd210f" d="M133.8,728.78l3.42,-5.91h-6.84zM126.96,716.96h6.84l-3.42,-5.91zM123.54,711.05h6.84l-3.42,-5.91zM120.12,705.15h6.84l-3.42,-5.91zM161.17,705.15h6.84l-3.42,-5.91zM164.59,687.42l3.42,-5.91h-6.84zM229.59,669.7l3.42,-5.91h-6.84zM219.32,663.79l3.42,-5.91h-6.84zM219.32,663.79h6.84l-3.42,-5.91zM209.06,657.88h6.84l-3.42,-5.91zM150.91,640.16l3.42,-5.91h-6.84z"/>
<path fill="#f94414" stroke="#f94414" d="M215.9,728.78l3.42,-5.91h-6.84zM96.17,722.87h6.84l-3.42,-5.91zM106.44,669.7l3.42,-5.91h-6.84zM116.7,651.98l3.42,-5.91h-6.84zM133.8,634.25h6.84l-3.42,-5.91z"/>
<path fill="#f85016" stroke="#f85016" d="M215.9,728.78h6.84l-3.42,-5.91zM109.86,699.24l3.42,-5.91h-6.84zM178.28,628.34l3.42,-5.91h-6.84z"/>
<path fill="#f66019" stroke="#f66019" d="M222.75,728.78l3.42,-5.91h-6.84zM106.44,646.07h6.84l-3.42,-5.91zM212.48,640.16h6.84l-3.42,-5.91zM178.28,616.53l3.42,-5.91h-6.84z"/>
<path fill="#f38620" stroke="#f38620" d="M229.59,728.78h6.84l-3.42,-5.91zM253.53,722.87l3.42,-5.91h-6.84zM123.54,616.53h6.84l-3.42,-5.91z"/>
<path fill="#f29723" stroke="#f29723" d="M236.43,728.78l3.42,-5.91h-6.84zM82.49,722.87l3.42,-5.91h-6.84zM137.22,604.71h6.84l-3.42,-5.91zM147.49,586.99l3.42,-5.91h-6.84z"/>
<path fill="#f29824" stroke="#f29824" d="M236.43,728.78h6.84l-3.42,-5.91zM85.91,705.15l3.42,-5.91h-6.84zM144.07,592.9l3.42,-5.91h-6.84z"/>
<path fill="#f29523" stroke="#f29523" d="M243.27,728.78l3.42,-5.91h-6.84zM140.65,681.51l3.42,-5.91h-6.84zM147.49,681.51l3.42,-5.91h-6.84zM130.38,675.61h6.84l-3.42,-5.91zM126.96,669.7h6.84l-3.42,-5.91zM116.7,616.53l3.42,-5.91h-6.84zM157.75,569.27h6.84l-3.42,-5.91z"/>
<path fill="#f3841f" stroke="#f3841f" d="M256.95,728.78h6.84l-3.42,-5.91zM133.8,681.51l3.42,-5.91h-6.84zM133.8,681.51h6.84l-3.42,-5.91zM140.65,681.51h6.84l-3.42,-5.91zM130.38,675.61l3.42,-5.91h-6.84zM103.02,640.16l3.42,-5.91h-6.84zM106.44,634.25l3.42,-5.91h-6.84zM109.86,628.34l3.42,-5.91h-6.84zM113.28,622.44l3.42,-5.91h-6.84z"/>
<path fill="#f29a24" stroke="#f29a24" d="M263.8,728.78l3.42,-5.91h-6.84z"/>
<path fill="#eefb3b" stroke="#eefb3b" d="M263.8,728.78h6.84l-3.42,-5.91z"/>
<path fill="#efec38" stroke="#efec38" d="M55.12,722.87l3.42,-5.91h-6.84zM137.22,569.27h6.84l-3.42,-5.91z"/>
<path fill="#efe035" stroke="#efe035" d="M55.12,722.87h6.84l-3.42,-5.91zM140.65,669.7l3.42,-5.91h-6.84z"/>
<path fill="#f0d833" stroke="#f0d833" d="M61.97,722.87l3.42,-5.91h-6.84zM65.39,705.15h6.84l-3.42,-5.91zM75.65,675.61h6.84l-3.42,-5.91z"/>
<path fill="#f0cb30" stroke="#f0cb30" d="M61.97,722.87h6.84l-3.42,-5.91zM144.07,569.27h6.84l-3.42,-5.91z"/>
<path fill="#f0c32e" stroke="#f0c32e" d="M68.81,722.87l3.42,-5.91h-6.84zM133.8,598.81l3.42,-5.91h-6.84zM133.8,586.99h6.84l-3.42,-5.91z"/>
<path fill="#f1b72b" stroke="#f1b72b" d="M68.81,722.87h6.84l-3.42,-5.91zM75.65,699.24h6.84l-3.42,-5.91zM85.91,681.51l3.42,-5.91h-6.84z"/>
<path fill="#f1af29" stroke="#f1af29" d="M75.65,722.87l3.42,-5.91h-6.84zM79.07,693.33h6.84l-3.42,-5.91zM85.91,657.88h6.84l-3.42,-5.91zM130.38,604.71h6.84l-3.42,-5.91z"/>
<path fill="#f2a326" stroke="#f2a326" d="M75.65,722.87h6.84l-3.42,-5.91zM85.91,681.51h6.84l-3.42,-5.91zM89.33,675.61l3.42,-5.91h-6.84zM85.91,669.7h6.84l-3.42,-5.91z"/>
<path fill="#f3811e" stroke="#f3811e" d="M82.49,722.87h6.84l-3.42,-5.91zM130.38,663.79l3.42,-5.91h-6.84z"/>
<path fill="#f75517" stroke="#f75517" d="M96.17,722.87l3.42,-5.91h-6.84zM150.91,687.42h6.84l-3.42,-5.91z"/>
<path fill="#fa3712" stroke="#fa3712" d="M103.02,722.87l3.42,-5.91h-6.84zM103.02,711.05h6.84l-3.42,-5.91zM243.27,705.15l3.42,-5.91h-6.84zM185.12,640.16l3.42,-5.91h-6.84z"/>
<path fill="#f01b0e" stroke="#f01b0e" d="M109.86,722.87h6.84l-3.42,-5.91z"/>
<path fill="#f71c0e" stroke="#f71c0e" d="M178.28,722.87l3.42,-5.91h-6.84zM185.12,722.87l3.42,-5.91h-6.84zM191.96,722.87l3.42,-5.91h-6.84zM198.8,722.87l3.42,-5.91h-6.84zM174.85,669.7l3.42,-5.91h-6.84zM188.54,657.88l3.42,-5.91h-6.84z"/>
<path fill="#f94915" stroke="#f94915" d="M212.48,722.87h6.84l-3.42,-5.91zM109.86,651.98h6.84l-3.42,-5.91z"/>
<path fill="#f56f1b" stroke="#f56f1b" d="M226.17,722.87l3.42,-5.91h-6.84zM256.95,716.96h6.84l-3.42,-5.91zM109.86,640.16l3.42,-5.91h-6.84zM113.28,634.25l3.42,-5.91h-6.84zM116.7,628.34l3.42,-5.91h-6.84zM150.91,604.71h6.84l-3.42,-5.91zM174.85,598.81h6.84l-3.42,-5.91z"/>
<path fill="#f29623" stroke="#f29623" d="M239.85,722.87h6.84l-3.42,-5.91zM133.8,610.62h6.84l-3.42,-5.91z"/>
<path fill="#f3801e" stroke="#f3801e" d="M260.38,722.87l3.42,-5.91h-6.84zM89.33,699.24h6.84l-3.42,-5.91zM147.49,598.81l3.42,-5.91h-6.84zM147.49,586.99h6.84l-3.42,-5.91z"/>
<path fill="#eff139" stroke="#eff139" d="M51.7,716.96h6.84l-3.42,-5.91z"/>
<path fill="#efea37" stroke="#efea37" d="M58.55,716.96l3.42,-5.91h-6.84zM61.97,699.24h6.84l-3.42,-5.91zM133.8,575.17h6.84l-3.42,-5.91z"/>
<path fill="#efdd34" stroke="#efdd34" d="M58.55,716.96h6.84l-3.42,-5.91zM137.22,581.08l3.42,-5.91h-6.84z"/>
<path fill="#f0d532" stroke="#f0d532" d="M65.39,716.96l3.42,-5.91h-6.84z"/>
<path fill="#f0c92f" stroke="#f0c92f" d="M65.39,716.96h6.84l-3.42,-5.91zM130.38,592.9h6.84l-3.42,-5.91z"/>
<path fill="#f0c12d" stroke="#f0c12d" d="M72.23,716.96l3.42,-5.91h-6.84zM79.07,681.51h6.84l-3.42,-5.91z"/>
<path fill="#f1b42a" stroke="#f1b42a" d="M72.23,716.96h6.84l-3.42,-5.91zM79.07,705.15l3.42,-5.91h-6.84zM123.54,604.71h6.84l-3.42,-5.91z"/>
<path fill="#f29b24" stroke="#f29b24" d="M79.07,716.96h6.84l-3.42,-5.91zM82.49,699.24h6.84l-3.42,-5.91zM92.75,657.88l3.42,-5.91h-6.84zM133.8,657.88h6.84l-3.42,-5.91zM126.96,610.62h6.84l-3.42,-5.91z"/>
<path fill="#f75b18" stroke="#f75b18" d="M92.75,716.96h6.84l-3.42,-5.91zM103.02,663.79l3.42,-5.91h-6.84zM157.75,663.79l3.42,-5.91h-6.84zM113.28,646.07l3.42,-5.91h-6.84zM191.96,604.71l3.42,-5.91h-6.84z"/>
<path fill="#fa3c13" stroke="#fa3c13" d="M99.6,716.96h6.84l-3.42,-5.91zM109.86,663.79l3.42,-5.91h-6.84zM147.49,634.25l3.42,-5.91h-6.84z"/>
<path fill="#fb3011" stroke="#fb3011" d="M106.44,716.96l3.42,-5.91h-6.84zM116.7,699.24h6.84l-3.42,-5.91zM164.59,663.79l3.42,-5.91h-6.84zM205.64,651.98h6.84l-3.42,-5.91zM140.65,646.07l3.42,-5.91h-6.84zM168.01,634.25h6.84l-3.42,-5.91z"/>
<path fill="#f31b0e" stroke="#f31b0e" d="M174.85,716.96h6.84l-3.42,-5.91zM181.7,716.96h6.84l-3.42,-5.91zM188.54,716.96h6.84l-3.42,-5.91zM195.38,716.96h6.84l-3.42,-5.91zM236.43,681.51l3.42,-5.91h-6.84zM222.75,669.7h6.84l-3.42,-5.91zM178.28,663.79h6.84l-3.42,-5.91zM168.01,657.88l3.42,-5.91h-6.84zM202.22,657.88h6.84l-3.42,-5.91zM164.59,651.98h6.84l-3.42,-5.91z"/>
<path fill="#f11b0e" stroke="#f11b0e" d="M181.7,716.96l3.42,-5.91h-6.84zM188.54,716.96l3.42,-5.91h-6.84zM195.38,716.96l3.42,-5.91h-6.84zM243.27,693.33h6.84l-3.42,-5.91zM185.12,663.79l3.42,-5.91h-6.84zM157.75,640.16h6.84l-3.42,-5.91z"/>
<path fill="#eb1a0e" stroke="#eb1a0e" d="M202.22,716.96l3.42,-5.91h-6.84zM185.12,711.05l3.42,-5.91h-6.84zM191.96,711.05l3.42,-5.91h-6.84zM181.7,669.7l3.42,-5.91h-6.84zM195.38,657.88l3.42,-5.91h-6.84z"/>
<path fill="#e61a0e" stroke="#e61a0e" d="M202.22,716.96h6.84l-3.42,-5.91zM212.48,711.05h6.84l-3.42,-5.91zM181.7,705.15h6.84l-3.42,-5.91zM188.54,705.15h6.84l-3.42,-5.91zM226.17,675.61h6.84l-3.42,-5.91zM185.12,663.79h6.84l-3.42,-5.91z"/>
<path fill="#e11a0e" stroke="#e11a0e" d="M209.06,716.96l3.42,-5.91h-6.84zM229.59,681.51h6.84l-3.42,-5.91zM215.9,669.7l3.42,-5.91h-6.84zM205.64,663.79h6.84l-3.42,-5.91z"/>
<path fill="#f4721c" stroke="#f4721c" d="M229.59,716.96h6.84l-3.42,-5.91zM89.33,711.05h6.84l-3.42,-5.91zM99.6,657.88l3.42,-5.91h-6.84zM178.27,592.9h6.84l-3.42,-5.91zM171.43,581.08l3.42,-5.91h-6.84z"/>
<path fill="#f37f1e" stroke="#f37f1e" d="M236.43,716.96h6.84l-3.42,-5.91zM140.65,610.62h6.84l-3.42,-5.91z"/>
<path fill="#f4731c" stroke="#f4731c" d="M243.27,716.96l3.42,-5.91h-6.84zM123.54,663.79h6.84l-3.42,-5.91zM150.91,616.53h6.84l-3.42,-5.91zM157.75,616.53l3.42,-5.91h-6.84zM171.43,581.08h6.84l-3.42,-5.91z"/>
<path fill="#f56e1b" stroke="#f56e1b" d="M250.11,716.96l3.42,-5.91h-6.84zM106.44,646.07l3.42,-5.91h-6.84zM133.8,622.44h6.84l-3.42,-5.91zM164.59,616.53l3.42,-5.91h-6.84zM178.27,604.71l3.42,-5.91h-6.84zM181.7,598.81h6.84l-3.42,-5.91zM164.59,581.08h6.84l-3.42,-5.91z"/>
<path fill="#efef38" stroke="#efef38" d="M55.12,711.05h6.84l-3.42,-5.91zM140.65,563.36h6.84l-3.42,-5.91z"/>
<path fill="#efe736" stroke="#efe736" d="M61.97,711.05l3.42,-5.91h-6.84zM130.38,581.08h6.84l-3.42,-5.91z"/>
<path fill="#efdb33" stroke="#efdb33" d="M61.97,711.05h6.84l-3.42,-5.91zM72.23,693.33l3.42,-5.91h-6.84zM133.8,586.99l3.42,-5.91h-6.84z"/>
<path fill="#f0d332" stroke="#f0d332" d="M68.81,711.05l3.42,-5.91h-6.84z"/>
<path fill="#f0c62f" stroke="#f0c62f" d="M68.81,711.05h6.84l-3.42,-5.91zM144.07,675.61l3.42,-5.91h-6.84zM133.8,669.7h6.84l-3.42,-5.91zM161.17,563.36l3.42,-5.91h-6.84z"/>
<path fill="#f1bd2c" stroke="#f1bd2c" d="M75.65,711.05l3.42,-5.91h-6.84zM123.54,604.71l3.42,-5.91h-6.84zM147.49,575.17l3.42,-5.91h-6.84z"/>
<path fill="#f1ae29" stroke="#f1ae29" d="M75.65,711.05h6.84l-3.42,-5.91zM133.8,669.7l3.42,-5.91h-6.84z"/>
<path fill="#f75417" stroke="#f75417" d="M96.17,711.05h6.84l-3.42,-5.91zM103.02,699.24h6.84l-3.42,-5.91zM99.6,681.51h6.84l-3.42,-5.91zM103.02,675.61l3.42,-5.91h-6.84zM99.6,669.7h6.84l-3.42,-5.91zM106.44,657.88l3.42,-5.91h-6.84zM144.07,651.98l3.42,-5.91h-6.84zM137.22,628.34h6.84l-3.42,-5.91zM185.12,616.53l3.42,-5.91h-6.84z"/>
<path fill="#f94715" stroke="#f94715" d="M103.02,711.05l3.42,-5.91h-6.84zM103.02,663.79h6.84l-3.42,-5.91zM150.91,651.98h6.84l-3.42,-5.91zM120.12,646.07l3.42,-5.91h-6.84zM198.8,640.16h6.84l-3.42,-5.91zM202.22,634.25h6.84l-3.42,-5.91zM171.43,628.34l3.42,-5.91h-6.84zM185.12,628.34l3.42,-5.91h-6.84zM205.64,628.34h6.84l-3.42,-5.91zM188.54,622.44l3.42,-5.91h-6.84zM191.96,616.53l3.42,-5.91h-6.84z"/>
<path fill="#ee1b0e" stroke="#ee1b0e" d="M178.28,711.05l3.42,-5.91h-6.84zM239.85,687.42l3.42,-5.91h-6.84zM174.85,681.51h6.84l-3.42,-5.91zM164.59,651.98l3.42,-5.91h-6.84z"/>
<path fill="#ed1b0e" stroke="#ed1b0e" d="M178.28,711.05h6.84l-3.42,-5.91zM185.12,711.05h6.84l-3.42,-5.91zM191.96,711.05h6.84l-3.42,-5.91zM174.85,705.15h6.84l-3.42,-5.91zM222.75,705.15h6.84l-3.42,-5.91zM178.27,687.42l3.42,-5.91h-6.84zM188.54,657.88h6.84l-3.42,-5.91z"/>
<path fill="#e41a0e" stroke="#e41a0e" d="M198.8,711.05l3.42,-5.91h-6.84zM188.54,705.15l3.42,-5.91h-6.84zM191.96,663.79l3.42,-5.91h-6.84z"/>
<path fill="#e01a0e" stroke="#e01a0e" d="M198.8,711.05h6.84l-3.42,-5.91zM185.12,699.24h6.84l-3.42,-5.91z"/>
<path fill="#d1180d" stroke="#d1180d" d="M205.64,711.05l3.42,-5.91h-6.84zM236.43,693.33l3.42,-5.91h-6.84zM195.38,669.7l3.42,-5.91h-6.84zM209.06,669.7h6.84l-3.42,-5.91z"/>
<path fill="#cd180d" stroke="#cd180d" d="M205.64,711.05h6.84l-3.42,-5.91zM215.9,705.15h6.84l-3.42,-5.91zM191.96,687.42h6.84l-3.42,-5.91z"/>
<path fill="#c7170d" stroke="#c7170d" d="M212.48,711.05l3.42,-5.91h-6.84zM202.22,705.15h6.84l-3.42,-5.91zM195.38,681.51h6.84l-3.42,-5.91zM222.75,681.51l3.42,-5.91h-6.84z"/>
<path fill="#e91a0e" stroke="#e91a0e" d="M219.32,711.05l3.42,-5.91h-6.84zM181.7,681.51l3.42,-5.91h-6.84zM178.28,675.61h6.84l-3.42,-5.91z"/>
<path fill="#f94014" stroke="#f94014" d="M226.17,711.05h6.84l-3.42,-5.91zM250.11,705.15h6.84l-3.42,-5.91zM113.28,693.33h6.84l-3.42,-5.91zM109.86,687.42h6.84l-3.42,-5.91zM106.44,681.51h6.84l-3.42,-5.91zM113.28,657.88l3.42,-5.91h-6.84zM202.22,646.07h6.84l-3.42,-5.91z"/>
<path fill="#fa3e13" stroke="#fa3e13" d="M233.01,711.05l3.42,-5.91h-6.84zM116.7,699.24l3.42,-5.91h-6.84zM212.48,651.98l3.42,-5.91h-6.84zM123.54,640.16h6.84l-3.42,-5.91z"/>
<path fill="#f75617" stroke="#f75617" d="M233.01,711.05h6.84l-3.42,-5.91zM120.12,669.7l3.42,-5.91h-6.84zM126.96,634.25l3.42,-5.91h-6.84zM144.07,628.34l3.42,-5.91h-6.84z"/>
<path fill="#f75317" stroke="#f75317" d="M239.85,711.05l3.42,-5.91h-6.84zM205.64,640.16h6.84l-3.42,-5.91zM209.06,634.25h6.84l-3.42,-5.91zM181.7,622.44l3.42,-5.91h-6.84z"/>
<path fill="#f75d18" stroke="#f75d18" d="M246.69,711.05h6.84l-3.42,-5.91z"/>
<path fill="#f85117" stroke="#f85117" d="M253.53,711.05l3.42,-5.91h-6.84zM106.44,693.33h6.84l-3.42,-5.91zM103.02,687.42h6.84l-3.42,-5.91zM154.33,681.51h6.84l-3.42,-5.91zM120.12,634.25h6.84l-3.42,-5.91zM191.96,604.71h6.84l-3.42,-5.91z"/>
<path fill="#f75718" stroke="#f75718" d="M253.53,711.05h6.84l-3.42,-5.91zM106.44,693.33l3.42,-5.91h-6.84zM103.02,687.42l3.42,-5.91h-6.84zM154.33,657.88l3.42,-5.91h-6.84zM212.48,640.16l3.42,-5.91h-6.84zM174.85,622.44h6.84l-3.42,-5.91zM178.28,616.53h6.84l-3.42,-5.91zM188.54,610.62l3.42,-5.91h-6.84z"/>
<path fill="#efed38" stroke="#efed38" d="M58.55,705.15h6.84l-3.42,-5.91z"/>
<path fill="#efe536" stroke="#efe536" d="M65.39,705.15l3.42,-5.91h-6.84zM65.39,693.33h6.84l-3.42,-5.91zM126.96,586.99h6.84l-3.42,-5.91z"/>
<path fill="#f0cf31" stroke="#f0cf31" d="M72.23,705.15l3.42,-5.91h-6.84z"/>
<path fill="#f2a527" stroke="#f2a527" d="M79.07,705.15h6.84l-3.42,-5.91zM85.91,693.33l3.42,-5.91h-6.84zM126.96,610.62l3.42,-5.91h-6.84z"/>
<path fill="#f56b1b" stroke="#f56b1b" d="M92.75,705.15h6.84l-3.42,-5.91zM96.17,663.79h6.84l-3.42,-5.91zM103.02,651.98l3.42,-5.91h-6.84zM161.17,610.62h6.84l-3.42,-5.91zM171.43,604.71h6.84l-3.42,-5.91zM188.54,598.81l3.42,-5.91h-6.84zM168.01,586.99l3.42,-5.91h-6.84z"/>
<path fill="#f65e19" stroke="#f65e19" d="M99.6,705.15l3.42,-5.91h-6.84zM99.6,657.88h6.84l-3.42,-5.91zM130.38,628.34h6.84l-3.42,-5.91zM185.12,604.71h6.84l-3.42,-5.91z"/>
<path fill="#f84a15" stroke="#f84a15" d="M106.44,705.15l3.42,-5.91h-6.84zM161.17,669.7h6.84l-3.42,-5.91zM154.33,657.88h6.84l-3.42,-5.91zM144.07,628.34h6.84l-3.42,-5.91z"/>
<path fill="#fc2b10" stroke="#fc2b10" d="M113.28,705.15h6.84l-3.42,-5.91zM181.7,646.07h6.84l-3.42,-5.91z"/>
<path fill="#e81a0e" stroke="#e81a0e" d="M181.7,705.15l3.42,-5.91h-6.84zM178.27,687.42h6.84l-3.42,-5.91z"/>
<path fill="#de190d" stroke="#de190d" d="M195.38,705.15l3.42,-5.91h-6.84zM188.54,669.7l3.42,-5.91h-6.84z"/>
<path fill="#da190d" stroke="#da190d" d="M195.38,705.15h6.84l-3.42,-5.91zM229.59,681.51l3.42,-5.91h-6.84zM191.96,663.79h6.84l-3.42,-5.91z"/>
<path fill="#cb180d" stroke="#cb180d" d="M202.22,705.15l3.42,-5.91h-6.84zM195.38,693.33l3.42,-5.91h-6.84z"/>
<path fill="#b8160d" stroke="#b8160d" d="M209.06,705.15l3.42,-5.91h-6.84zM202.22,693.33l3.42,-5.91h-6.84zM229.59,693.33l3.42,-5.91h-6.84zM215.9,681.51h6.84l-3.42,-5.91zM205.64,675.61l3.42,-5.91h-6.84z"/>
<path fill="#b4160d" stroke="#b4160d" d="M209.06,705.15h6.84l-3.42,-5.91zM202.22,681.51h6.84l-3.42,-5.91zM205.64,675.61h6.84l-3.42,-5.91z"/>
<path fill="#ae150d" stroke="#ae150d" d="M215.9,705.15l3.42,-5.91h-6.84zM205.64,699.24h6.84l-3.42,-5.91zM202.22,693.33h6.84l-3.42,-5.91z"/>
<path fill="#d0180d" stroke="#d0180d" d="M222.75,705.15l3.42,-5.91h-6.84zM209.06,669.7l3.42,-5.91h-6.84z"/>
<path fill="#ea1a0e" stroke="#ea1a0e" d="M229.59,705.15l3.42,-5.91h-6.84zM243.27,693.33l3.42,-5.91h-6.84zM161.17,646.07l3.42,-5.91h-6.84z"/>
<path fill="#efe135" stroke="#efe135" d="M68.81,699.24l3.42,-5.91h-6.84zM68.81,687.42h6.84l-3.42,-5.91zM123.54,592.9h6.84l-3.42,-5.91zM144.07,569.27l3.42,-5.91h-6.84zM154.33,563.36l3.42,-5.91h-6.84z"/>
<path fill="#f0d231" stroke="#f0d231" d="M68.81,699.24h6.84l-3.42,-5.91zM79.07,681.51l3.42,-5.91h-6.84zM126.96,598.81l3.42,-5.91h-6.84z"/>
<path fill="#f0c62e" stroke="#f0c62e" d="M75.65,699.24l3.42,-5.91h-6.84zM75.65,687.42h6.84l-3.42,-5.91zM137.22,581.08h6.84l-3.42,-5.91z"/>
<path fill="#f6661a" stroke="#f6661a" d="M96.17,699.24h6.84l-3.42,-5.91zM96.17,687.42h6.84l-3.42,-5.91zM99.6,681.51l3.42,-5.91h-6.84zM96.17,675.61h6.84l-3.42,-5.91zM130.38,628.34l3.42,-5.91h-6.84zM164.59,604.71h6.84l-3.42,-5.91zM154.33,586.99h6.84l-3.42,-5.91zM161.17,586.99l3.42,-5.91h-6.84z"/>
<path fill="#f66119" stroke="#f66119" d="M103.02,699.24l3.42,-5.91h-6.84zM130.38,651.98l3.42,-5.91h-6.84zM123.54,628.34h6.84l-3.42,-5.91zM137.22,628.34l3.42,-5.91h-6.84zM188.54,598.81h6.84l-3.42,-5.91zM157.75,592.9l3.42,-5.91h-6.84z"/>
<path fill="#f94214" stroke="#f94214" d="M109.86,699.24h6.84l-3.42,-5.91zM133.8,693.33l3.42,-5.91h-6.84zM140.65,693.33l3.42,-5.91h-6.84zM147.49,693.33l3.42,-5.91h-6.84zM154.33,693.33l3.42,-5.91h-6.84zM123.54,687.42h6.84l-3.42,-5.91zM120.12,681.51h6.84l-3.42,-5.91zM161.17,681.51l3.42,-5.91h-6.84zM116.7,675.61h6.84l-3.42,-5.91zM113.28,669.7h6.84l-3.42,-5.91z"/>
<path fill="#ec1b0e" stroke="#ec1b0e" d="M178.27,699.24l3.42,-5.91h-6.84zM174.85,693.33h6.84l-3.42,-5.91z"/>
<path fill="#e71a0e" stroke="#e71a0e" d="M178.27,699.24h6.84l-3.42,-5.91zM181.7,693.33l3.42,-5.91h-6.84z"/>
<path fill="#e21a0e" stroke="#e21a0e" d="M185.12,699.24l3.42,-5.91h-6.84zM239.85,699.24l3.42,-5.91h-6.84zM181.7,693.33h6.84l-3.42,-5.91zM185.12,687.42l3.42,-5.91h-6.84zM181.7,681.51h6.84l-3.42,-5.91zM185.12,675.61l3.42,-5.91h-6.84zM181.7,669.7h6.84l-3.42,-5.91zM215.9,669.7h6.84l-3.42,-5.91zM205.64,663.79l3.42,-5.91h-6.84z"/>
<path fill="#d8190d" stroke="#d8190d" d="M191.96,699.24l3.42,-5.91h-6.84zM236.43,693.33h6.84l-3.42,-5.91zM198.8,663.79l3.42,-5.91h-6.84z"/>
<path fill="#d4180d" stroke="#d4180d" d="M191.96,699.24h6.84l-3.42,-5.91zM188.54,693.33h6.84l-3.42,-5.91z"/>
<path fill="#c5170d" stroke="#c5170d" d="M198.8,699.24l3.42,-5.91h-6.84zM198.8,687.42l3.42,-5.91h-6.84zM212.48,675.61h6.84l-3.42,-5.91zM202.22,669.7l3.42,-5.91h-6.84z"/>
<path fill="#c1170d" stroke="#c1170d" d="M198.8,699.24h6.84l-3.42,-5.91zM195.38,693.33h6.84l-3.42,-5.91zM198.8,675.61h6.84l-3.42,-5.91z"/>
<path fill="#b2160d" stroke="#b2160d" d="M205.64,699.24l3.42,-5.91h-6.84zM219.32,699.24h6.84l-3.42,-5.91zM205.64,687.42l3.42,-5.91h-6.84z"/>
<path fill="#9f140c" stroke="#9f140c" d="M212.48,699.24l3.42,-5.91h-6.84zM222.75,693.33l3.42,-5.91h-6.84zM212.48,687.42l3.42,-5.91h-6.84z"/>
<path fill="#9b140c" stroke="#9b140c" d="M212.48,699.24h6.84l-3.42,-5.91zM209.06,693.33h6.84l-3.42,-5.91zM212.48,687.42h6.84l-3.42,-5.91z"/>
<path fill="#95130c" stroke="#95130c" d="M219.32,699.24l3.42,-5.91h-6.84z"/>
<path fill="#b0150d" stroke="#b0150d" d="M226.17,699.24l3.42,-5.91h-6.84z"/>
<path fill="#cc180d" stroke="#cc180d" d="M226.17,699.24h6.84l-3.42,-5.91z"/>
<path fill="#c9180d" stroke="#c9180d" d="M233.01,699.24l3.42,-5.91h-6.84zM222.75,681.51h6.84l-3.42,-5.91zM198.8,675.61l3.42,-5.91h-6.84zM195.38,669.7h6.84l-3.42,-5.91z"/>
<path fill="#e51a0e" stroke="#e51a0e" d="M233.01,699.24h6.84l-3.42,-5.91zM226.17,675.61l3.42,-5.91h-6.84zM195.38,657.88h6.84l-3.42,-5.91z"/>
<path fill="#fc2910" stroke="#fc2910" d="M246.69,699.24h6.84l-3.42,-5.91zM157.75,651.98l3.42,-5.91h-6.84z"/>
<path fill="#f0ca30" stroke="#f0ca30" d="M72.23,693.33h6.84l-3.42,-5.91z"/>
<path fill="#f4781d" stroke="#f4781d" d="M92.75,693.33h6.84l-3.42,-5.91zM96.17,687.42l3.42,-5.91h-6.84zM92.75,681.51h6.84l-3.42,-5.91zM96.17,675.61l3.42,-5.91h-6.84zM92.75,669.7h6.84l-3.42,-5.91zM144.07,616.53h6.84l-3.42,-5.91z"/>
<path fill="#f66319" stroke="#f66319" d="M99.6,693.33h6.84l-3.42,-5.91zM154.33,622.44l3.42,-5.91h-6.84zM161.17,598.81l3.42,-5.91h-6.84z"/>
<path fill="#fb3412" stroke="#fb3412" d="M120.12,693.33l3.42,-5.91h-6.84zM116.7,687.42l3.42,-5.91h-6.84zM113.28,681.51l3.42,-5.91h-6.84zM109.86,675.61l3.42,-5.91h-6.84zM168.01,669.7l3.42,-5.91h-6.84zM195.38,646.07h6.84l-3.42,-5.91zM130.38,640.16h6.84l-3.42,-5.91z"/>
<path fill="#fa3512" stroke="#fa3512" d="M126.96,693.33l3.42,-5.91h-6.84zM126.96,693.33h6.84l-3.42,-5.91zM133.8,693.33h6.84l-3.42,-5.91zM140.65,693.33h6.84l-3.42,-5.91zM147.49,693.33h6.84l-3.42,-5.91zM123.54,687.42l3.42,-5.91h-6.84zM120.12,681.51l3.42,-5.91h-6.84zM116.7,675.61l3.42,-5.91h-6.84zM116.7,651.98h6.84l-3.42,-5.91zM195.38,646.07l3.42,-5.91h-6.84z"/>
<path fill="#dc190d" stroke="#dc190d" d="M188.54,693.33l3.42,-5.91h-6.84zM185.12,687.42h6.84l-3.42,-5.91zM233.01,687.42h6.84l-3.42,-5.91zM188.54,681.51l3.42,-5.91h-6.84zM185.12,675.61h6.84l-3.42,-5.91z"/>
<path fill="#a5150d" stroke="#a5150d" d="M209.06,693.33l3.42,-5.91h-6.84z"/>
<path fill="#93130c" stroke="#93130c" d="M215.9,693.33l3.42,-5.91h-6.84z"/>
<path fill="#8e130c" stroke="#8e130c" d="M215.9,693.33h6.84l-3.42,-5.91z"/>
<path fill="#a6150d" stroke="#a6150d" d="M222.75,693.33h6.84l-3.42,-5.91z"/>
<path fill="#bf170d" stroke="#bf170d" d="M229.59,693.33h6.84l-3.42,-5.91zM202.22,681.51l3.42,-5.91h-6.84z"/>
<path fill="#f0d632" stroke="#f0d632" d="M75.65,687.42l3.42,-5.91h-6.84z"/>
<path fill="#f2a026" stroke="#f2a026" d="M89.33,687.42l3.42,-5.91h-6.84zM133.8,610.62l3.42,-5.91h-6.84z"/>
<path fill="#d6190d" stroke="#d6190d" d="M191.96,687.42l3.42,-5.91h-6.84zM188.54,681.51h6.84l-3.42,-5.91zM191.96,675.61l3.42,-5.91h-6.84zM188.54,669.7h6.84l-3.42,-5.91z"/>
<path fill="#ba160d" stroke="#ba160d" d="M198.8,687.42h6.84l-3.42,-5.91z"/>
<path fill="#a8150d" stroke="#a8150d" d="M205.64,687.42h6.84l-3.42,-5.91z"/>
<path fill="#aa150d" stroke="#aa150d" d="M219.32,687.42l3.42,-5.91h-6.84z"/>
<path fill="#ab150d" stroke="#ab150d" d="M219.32,687.42h6.84l-3.42,-5.91z"/>
<path fill="#bc170d" stroke="#bc170d" d="M226.17,687.42l3.42,-5.91h-6.84z"/>
<path fill="#c3170d" stroke="#c3170d" d="M226.17,687.42h6.84l-3.42,-5.91zM212.48,675.61l3.42,-5.91h-6.84z"/>
<path fill="#d5190d" stroke="#d5190d" d="M233.01,687.42l3.42,-5.91h-6.84zM219.32,675.61h6.84l-3.42,-5.91z"/>
<path fill="#f51b0e" stroke="#f51b0e" d="M239.85,687.42h6.84l-3.42,-5.91zM202.22,657.88l3.42,-5.91h-6.84zM168.01,646.07l3.42,-5.91h-6.84z"/>
<path fill="#cf180d" stroke="#cf180d" d="M195.38,681.51l3.42,-5.91h-6.84zM191.96,675.61h6.84l-3.42,-5.91z"/>
<path fill="#ac150d" stroke="#ac150d" d="M209.06,681.51l3.42,-5.91h-6.84z"/>
<path fill="#a7150d" stroke="#a7150d" d="M209.06,681.51h6.84l-3.42,-5.91z"/>
<path fill="#b7160d" stroke="#b7160d" d="M215.9,681.51l3.42,-5.91h-6.84z"/>
<path fill="#f0cd30" stroke="#f0cd30" d="M82.49,675.61l3.42,-5.91h-6.84z"/>
<path fill="#f1ba2c" stroke="#f1ba2c" d="M82.49,675.61h6.84l-3.42,-5.91zM137.22,592.9l3.42,-5.91h-6.84z"/>
<path fill="#f1b62b" stroke="#f1b62b" d="M137.22,675.61l3.42,-5.91h-6.84zM137.22,675.61h6.84l-3.42,-5.91z"/>
<path fill="#f1ad29" stroke="#f1ad29" d="M144.07,675.61h6.84l-3.42,-5.91zM144.07,663.79h6.84l-3.42,-5.91z"/>
<path fill="#fa3f14" stroke="#fa3f14" d="M164.59,675.61l3.42,-5.91h-6.84zM198.8,640.16l3.42,-5.91h-6.84zM181.7,634.25h6.84l-3.42,-5.91zM202.22,634.25l3.42,-5.91h-6.84zM185.12,628.34h6.84l-3.42,-5.91zM205.64,628.34l3.42,-5.91h-6.84zM188.54,622.44h6.84l-3.42,-5.91zM191.96,616.53h6.84l-3.42,-5.91z"/>
<path fill="#ef1b0e" stroke="#ef1b0e" d="M178.28,675.61l3.42,-5.91h-6.84zM174.85,669.7h6.84l-3.42,-5.91zM161.17,646.07h6.84l-3.42,-5.91z"/>
<path fill="#d4190d" stroke="#d4190d" d="M219.32,675.61l3.42,-5.91h-6.84z"/>
<path fill="#f37d1e" stroke="#f37d1e" d="M126.96,669.7l3.42,-5.91h-6.84z"/>
<path fill="#efde34" stroke="#efde34" d="M140.65,669.7h6.84l-3.42,-5.91z"/>
<path fill="#f0c22e" stroke="#f0c22e" d="M147.49,669.7l3.42,-5.91h-6.84z"/>
<path fill="#f1a828" stroke="#f1a828" d="M147.49,669.7h6.84l-3.42,-5.91z"/>
<path fill="#c0170d" stroke="#c0170d" d="M202.22,669.7h6.84l-3.42,-5.91z"/>
<path fill="#f1bf2d" stroke="#f1bf2d" d="M82.49,663.79h6.84l-3.42,-5.91z"/>
<path fill="#f0c82f" stroke="#f0c82f" d="M137.22,663.79h6.84l-3.42,-5.91zM126.96,598.81h6.84l-3.42,-5.91zM140.65,575.17h6.84l-3.42,-5.91z"/>
<path fill="#f38720" stroke="#f38720" d="M150.91,663.79l3.42,-5.91h-6.84zM137.22,616.53l3.42,-5.91h-6.84z"/>
<path fill="#d2180d" stroke="#d2180d" d="M198.8,663.79h6.84l-3.42,-5.91z"/>
<path fill="#f3821f" stroke="#f3821f" d="M92.75,657.88h6.84l-3.42,-5.91zM99.6,646.07l3.42,-5.91h-6.84z"/>
<path fill="#fb3211" stroke="#fb3211" d="M113.28,657.88h6.84l-3.42,-5.91z"/>
<path fill="#f65d18" stroke="#f65d18" d="M126.96,657.88l3.42,-5.91h-6.84zM147.49,622.44h6.84l-3.42,-5.91zM161.17,622.44l3.42,-5.91h-6.84z"/>
<path fill="#f3831f" stroke="#f3831f" d="M140.65,657.88l3.42,-5.91h-6.84zM150.91,581.08h6.84l-3.42,-5.91zM168.01,563.36h6.84l-3.42,-5.91z"/>
<path fill="#f4771d" stroke="#f4771d" d="M147.49,657.88l3.42,-5.91h-6.84zM147.49,610.62l3.42,-5.91h-6.84zM144.07,604.71h6.84l-3.42,-5.91zM154.33,586.99l3.42,-5.91h-6.84zM181.7,586.99h6.84l-3.42,-5.91zM178.28,581.08l3.42,-5.91h-6.84z"/>
<path fill="#fb2d11" stroke="#fb2d11" d="M161.17,657.88l3.42,-5.91h-6.84zM178.27,640.16h6.84l-3.42,-5.91zM161.17,634.25l3.42,-5.91h-6.84z"/>
<path fill="#fc220f" stroke="#fc220f" d="M181.7,657.88l3.42,-5.91h-6.84zM174.85,646.07h6.84l-3.42,-5.91z"/>
<path fill="#f2a025" stroke="#f2a025" d="M89.33,651.98h6.84l-3.42,-5.91z"/>
<path fill="#f85317" stroke="#f85317" d="M123.54,651.98h6.84l-3.42,-5.91zM161.17,622.44h6.84l-3.42,-5.91z"/>
<path fill="#f4711c" stroke="#f4711c" d="M130.38,651.98h6.84l-3.42,-5.91zM126.96,622.44h6.84l-3.42,-5.91zM154.33,610.62l3.42,-5.91h-6.84zM181.7,598.81l3.42,-5.91h-6.84zM185.12,592.9h6.84l-3.42,-5.91zM174.85,586.99h6.84l-3.42,-5.91z"/>
<path fill="#f6671a" stroke="#f6671a" d="M137.22,651.98h6.84l-3.42,-5.91zM168.01,610.62l3.42,-5.91h-6.84zM174.85,610.62h6.84l-3.42,-5.91zM168.01,598.81l3.42,-5.91h-6.84zM161.17,586.99h6.84l-3.42,-5.91z"/>
<path fill="#f84915" stroke="#f84915" d="M150.91,651.98l3.42,-5.91h-6.84z"/>
<path fill="#f84d16" stroke="#f84d16" d="M209.06,646.07h6.84l-3.42,-5.91zM150.91,628.34l3.42,-5.91h-6.84z"/>
<path fill="#f94815" stroke="#f94815" d="M123.54,640.16l3.42,-5.91h-6.84zM157.75,628.34l3.42,-5.91h-6.84z"/>
<path fill="#fb2c10" stroke="#fb2c10" d="M144.07,640.16l3.42,-5.91h-6.84z"/>
<path fill="#fb3212" stroke="#fb3212" d="M185.12,640.16h6.84l-3.42,-5.91zM191.96,640.16l3.42,-5.91h-6.84zM188.54,634.25h6.84l-3.42,-5.91zM195.38,634.25l3.42,-5.91h-6.84zM191.96,628.34h6.84l-3.42,-5.91zM198.8,628.34l3.42,-5.91h-6.84zM195.38,622.44h6.84l-3.42,-5.91zM202.22,622.44l3.42,-5.91h-6.84zM198.8,616.53h6.84l-3.42,-5.91z"/>
<path fill="#f85116" stroke="#f85116" d="M133.8,634.25l3.42,-5.91h-6.84z"/>
<path fill="#f5711c" stroke="#f5711c" d="M140.65,622.44l3.42,-5.91h-6.84z"/>
<path fill="#f6641a" stroke="#f6641a" d="M140.65,622.44h6.84l-3.42,-5.91z"/>
<path fill="#f5681a" stroke="#f5681a" d="M147.49,622.44l3.42,-5.91h-6.84zM164.59,616.53h6.84l-3.42,-5.91z"/>
<path fill="#f75818" stroke="#f75818" d="M154.33,622.44h6.84l-3.42,-5.91zM168.01,622.44l3.42,-5.91h-6.84z"/>
<path fill="#f2a426" stroke="#f2a426" d="M113.28,610.62h6.84l-3.42,-5.91zM144.07,581.08h6.84l-3.42,-5.91z"/>
<path fill="#f1a928" stroke="#f1a928" d="M120.12,610.62l3.42,-5.91h-6.84z"/>
<path fill="#f29f25" stroke="#f29f25" d="M120.12,610.62h6.84l-3.42,-5.91z"/>
<path fill="#f56a1b" stroke="#f56a1b" d="M174.85,610.62l3.42,-5.91h-6.84zM157.75,604.71l3.42,-5.91h-6.84zM178.27,604.71h6.84l-3.42,-5.91zM171.43,592.9l3.42,-5.91h-6.84z"/>
<path fill="#f1b92b" stroke="#f1b92b" d="M130.38,604.71l3.42,-5.91h-6.84zM140.65,586.99l3.42,-5.91h-6.84z"/>
<path fill="#efdf34" stroke="#efdf34" d="M140.65,575.17l3.42,-5.91h-6.84z"/>
<path fill="#f0c52e" stroke="#f0c52e" d="M150.91,569.27l3.42,-5.91h-6.84z"/>
<path fill="#f1aa28" stroke="#f1aa28" d="M157.75,569.27l3.42,-5.91h-6.84z"/>
<path fill="#f37b1d" stroke="#f37b1d" d="M164.59,569.27h6.84l-3.42,-5.91z"/>
<path fill="#f47b1d" stroke="#f47b1d" d="M171.43,569.27l3.42,-5.91h-6.84z"/>
<path fill="#eefd3b" stroke="#eefd3b" d="M147.49,563.36l3.42,-5.91h-6.84z"/>
<path fill="#f1b92c" stroke="#f1b92c" d="M154.33,563.36h6.84l-3.42,-5.91z"/>
<path fill="#9aff84" stroke="#9aff84" d="M150.91,557.45l3.42,-5.91h-6.84z"/>
<path fill="#c3ff61" stroke="#c3ff61" d="M150.91,557.45h6.84l-3.42,-5.91z"/>
<path fill="#acff74" stroke="#acff74" d="M157.75,557.45l3.42,-5.91h-6.84z"/>
<path fill="#d6ff51" stroke="#d6ff51" d="M157.75,557.45h6.84l-3.42,-5.91z"/>
<path fill="#bfff64" stroke="#bfff64" d="M164.59,557.45l3.42,-5.91h-6.84z"/>
<path fill="#e8ff41" stroke="#e8ff41" d="M164.59,557.45h6.84l-3.42,-5.91z"/>
<path fill="#85ffd5" stroke="#85ffd5" d="M147.49,551.54h6.84l-3.42,-5.91z"/>
<path fill="#7ffff3" stroke="#7ffff3" d="M154.33,551.54l3.42,-5.91h-6.84z"/>
<path fill="#8affbd" stroke="#8affbd" d="M154.33,551.54h6.84l-3.42,-5.91z"/>
<path fill="#84ffda" stroke="#84ffda" d="M161.17,551.54l3.42,-5.91h-6.84z"/>
<path fill="#90ffa4" stroke="#90ffa4" d="M161.17,551.54h6.84l-3.42,-5.91z"/>
<path fill="#5aa9fd" stroke="#5aa9fd" d="M150.91,545.64h6.84l-3.42,-5.91z"/>
<path fill="#4d88ff" stroke="#4d88ff" d="M157.75,545.64l3.42,-5.91h-6.84z"/>
<path fill="#65c5fc" stroke="#65c5fc" d="M157.75,545.64h6.84l-3.42,-5.91z"/>
<path fill="#272dff" stroke="#272dff" d="M154.33,539.73h6.84l-3.42,-5.91z"/>
</g>
<circle cx="219.32" cy="693.33" r="11" fill="url(#spot)" opacity="0.6"/>
</g>
<path d="M142.36,560.4L250.11,746.5M126.96,586.99L219.32,746.5M111.57,613.57L188.54,746.5M96.17,640.16L157.75,746.5M80.78,666.74L126.96,746.5M65.39,693.33L96.17,746.5M49.99,719.91L65.39,746.5" fill="none" stroke="#2418c8" stroke-width="0.7" stroke-dasharray="2.3 1.5"/>
<path d="M65.39,746.5L173.14,560.4M96.17,746.5L188.54,586.99M126.96,746.5L203.93,613.57M157.75,746.5L219.32,640.16M188.54,746.5L234.72,666.74M219.32,746.5L250.11,693.33M250.11,746.5L265.51,719.91" fill="none" stroke="#e83030" stroke-width="0.7" stroke-dasharray="2.3 1.5"/>
<path d="M49.99,719.5H265.51M65.39,693.5H250.11M80.78,666.5H234.72M96.17,640.5H219.32M111.57,613.5H203.93M126.96,586.5H188.54M142.36,560.5H173.14" fill="none" stroke="#202020" stroke-width="0.62" stroke-dasharray="2.5 1.4"/>
<polygon points="34.6,746.5 280.9,746.5 157.75,533.82" fill="none" stroke="#000" stroke-width="0.7" stroke-linejoin="round"/>
<circle cx="34.6" cy="746.5" r="3.2" fill="#fff" stroke="#000" stroke-width="1"/>
<circle cx="280.9" cy="746.5" r="3.2" fill="#fff" stroke="#000" stroke-width="1"/>
<circle cx="157.75" cy="533.82" r="3.2" fill="#fff" stroke="#000" stroke-width="1"/>
<g font-family='"Liberation Serif","DejaVu Serif",serif' font-size="11.2" letter-spacing="0.18" fill="#1a1aff" stroke="#1a1aff" stroke-width="0.22">
<text x="123.74" y="536.7">0</text>
<text x="108.35" y="563.37">0.125</text>
<text x="92.96" y="590.03">0.25</text>
<text x="77.56" y="616.69">0.375</text>
<text x="62.17" y="643.35">0.5</text>
<text x="46.77" y="670.01">0.625</text>
<text x="31.38" y="696.68">0.75</text>
<text x="15.99" y="723.34">0.875</text>
<text x="0.59" y="750">1</text>
</g>
<g font-family='"Liberation Serif","DejaVu Serif",serif' font-size="11.2" letter-spacing="0.18" fill="#1a1a1a" stroke="#1a1a1a" stroke-width="0.22">
<text x="286.1" y="744.7">0</text>
<text x="270.71" y="718.04">0.125</text>
<text x="255.31" y="691.38">0.25</text>
<text x="239.92" y="664.71">0.375</text>
<text x="224.52" y="638.05">0.5</text>
<text x="209.13" y="611.39">0.625</text>
<text x="193.74" y="584.73">0.75</text>
<text x="178.34" y="558.07">0.875</text>
<text x="162.95" y="532.2">1</text>
</g>
<g font-family='"Liberation Serif","DejaVu Serif",serif' font-size="11.2" letter-spacing="0.18" fill="#e8222c" stroke="#e8222c" stroke-width="0.22">
<text x="34.8" y="760.8">0</text>
<text x="65.59" y="760.8">0.125</text>
<text x="96.38" y="760.8">0.25</text>
<text x="127.16" y="760.8">0.375</text>
<text x="157.95" y="760.8">0.5</text>
<text x="188.74" y="760.8">0.625</text>
<text x="219.52" y="760.8">0.75</text>
<text x="250.31" y="760.8">0.875</text>
<text x="281.1" y="760.8">1</text>
</g>
<text transform="translate(56.57,630.36) rotate(-60)" text-anchor="middle" font-family='"Liberation Serif","DejaVu Serif",serif' font-size="14.6" fill="#1a1aff" stroke="#1a1aff" stroke-width="0.3">Ge</text>
<text transform="translate(254.02,629.26) rotate(60)" text-anchor="middle" font-family='"Liberation Serif","DejaVu Serif",serif' font-size="14.6" fill="#1a1a1a" stroke="#1a1a1a" stroke-width="0.3">Sn</text>
<text x="157.95" y="774.9" text-anchor="middle" font-family='"Liberation Serif","DejaVu Serif",serif' font-size="14.4" fill="#e8222c" stroke="#e8222c" stroke-width="0.3">Si</text>
<text x="25.5" y="558" font-family='"Liberation Sans","DejaVu Sans",sans-serif' font-size="15.4" letter-spacing="0.15" fill="#111" stroke="#111" stroke-width="0.2">(c)AL1:UQ</text>
<rect x="304.9" y="533" width="9.9" height="213.2" fill="url(#jet)" stroke="#501010" stroke-opacity="0.5" stroke-width="0.4"/>
<path d="M304.9,550h1.8M314.8,550h-1.8M304.9,572.5h1.8M314.8,572.5h-1.8M304.9,595h1.8M314.8,595h-1.8M304.9,617.5h1.8M314.8,617.5h-1.8M304.9,640h1.8M314.8,640h-1.8M304.9,662.5h1.8M314.8,662.5h-1.8M304.9,685h1.8M314.8,685h-1.8M304.9,707.5h1.8M314.8,707.5h-1.8M304.9,730h1.8M314.8,730h-1.8" stroke="#222" stroke-width="0.5" fill="none"/>
<g font-family='"Liberation Serif","DejaVu Serif",serif' font-size="11.2" letter-spacing="0.18" fill="#1a1a1a" stroke="#1a1a1a" stroke-width="0.22">
<text x="318" y="553.1">13</text>
<text x="318" y="575.6">12</text>
<text x="318" y="598.1">11</text>
<text x="318" y="620.6">10</text>
<text x="318" y="643.1">9</text>
<text x="318" y="665.6">8</text>
<text x="318" y="688.1">7</text>
<text x="318" y="710.6">6</text>
<text x="318" y="733.1">5</text>
<text x="315.5" y="528.8">×10<tspan dy="-4.2" font-size="7.6">−4</tspan></text>
</g>
</g>
<g id="panel-d">
<polygon points="375,227.3 625.9,227.3 500.45,10.65" fill="#15049e"/>
<path d="M484.77,37.73L594.54,227.3M469.09,64.81L563.17,227.3M453.41,91.89L531.81,227.3M437.73,118.97L500.45,227.3M422.04,146.06L469.09,227.3M406.36,173.14L437.73,227.3M390.68,200.22L406.36,227.3" fill="none" stroke="#3424ff" stroke-width="0.9" stroke-dasharray="2.3 1.5"/>
<path d="M406.36,227.3L516.13,37.73M437.73,227.3L531.81,64.81M469.09,227.3L547.49,91.89M500.45,227.3L563.17,118.97M531.81,227.3L578.86,146.06M563.17,227.3L594.54,173.14M594.54,227.3L610.22,200.22" fill="none" stroke="#e01a40" stroke-width="0.7" stroke-dasharray="2.3 1.5"/>
<path d="M390.68,200.5H610.22M406.36,173.5H594.54M422.04,146.5H578.86M437.73,118.5H563.17M453.41,91.5H547.49M469.09,64.5H531.81M484.77,37.5H516.13" fill="none" stroke="#00001c" stroke-width="0.8" stroke-dasharray="2.1 1.75"/>
<polygon points="375,227.3 625.9,227.3 500.45,10.65" fill="none" stroke="#000" stroke-width="1" stroke-linejoin="round"/>
<circle cx="375" cy="227.3" r="3.2" fill="#fff" stroke="#000" stroke-width="1"/>
<circle cx="625.9" cy="227.3" r="3.2" fill="#fff" stroke="#000" stroke-width="1"/>
<circle cx="500.45" cy="10.65" r="3.2" fill="#fff" stroke="#000" stroke-width="1"/>
<circle cx="500.45" cy="118.97" r="2.85" fill="#fff" stroke="#000" stroke-width="1.2"/>
<circle cx="563.17" cy="173.14" r="2.85" fill="#fff" stroke="#000" stroke-width="1.2"/>
<circle cx="453.41" cy="200.22" r="2.85" fill="#fff" stroke="#000" stroke-width="1.2"/>
<g font-family='"Liberation Serif","DejaVu Serif",serif' font-size="11.2" letter-spacing="0.18" fill="#1a1aff" stroke="#1a1aff" stroke-width="0.22">
<text x="465.81" y="13.52">0</text>
<text x="450.13" y="40.68">0.125</text>
<text x="434.45" y="67.84">0.25</text>
<text x="418.76" y="95">0.375</text>
<text x="403.08" y="122.16">0.5</text>
<text x="387.4" y="149.32">0.625</text>
<text x="371.72" y="176.48">0.75</text>
<text x="356.04" y="203.64">0.875</text>
<text x="340.36" y="230.8">1</text>
</g>
<g font-family='"Liberation Serif","DejaVu Serif",serif' font-size="11.2" letter-spacing="0.18" fill="#1a1a1a" stroke="#1a1a1a" stroke-width="0.22">
<text x="631.1" y="225.5">0</text>
<text x="615.42" y="198.34">0.125</text>
<text x="599.74" y="171.18">0.25</text>
<text x="584.06" y="144.02">0.375</text>
<text x="568.38" y="116.86">0.5</text>
<text x="552.69" y="89.7">0.625</text>
<text x="537.01" y="62.54">0.75</text>
<text x="521.33" y="35.38">0.875</text>
<text x="505.65" y="9.02">1</text>
</g>
<g font-family='"Liberation Serif","DejaVu Serif",serif' font-size="11.2" letter-spacing="0.18" fill="#e8222c" stroke="#e8222c" stroke-width="0.22">
<text x="375.2" y="241.6">0</text>
<text x="406.56" y="241.6">0.125</text>
<text x="437.93" y="241.6">0.25</text>
<text x="469.29" y="241.6">0.375</text>
<text x="500.65" y="241.6">0.5</text>
<text x="532.01" y="241.6">0.625</text>
<text x="563.38" y="241.6">0.75</text>
<text x="594.74" y="241.6">0.875</text>
<text x="626.1" y="241.6">1</text>
</g>
<text transform="translate(398.12,109.17) rotate(-60)" text-anchor="middle" font-family='"Liberation Serif","DejaVu Serif",serif' font-size="14.6" fill="#1a1aff" stroke="#1a1aff" stroke-width="0.3">Ge</text>
<text transform="translate(597.88,108.07) rotate(60)" text-anchor="middle" font-family='"Liberation Serif","DejaVu Serif",serif' font-size="14.6" fill="#1a1a1a" stroke="#1a1a1a" stroke-width="0.3">Sn</text>
<text x="500.65" y="255.7" text-anchor="middle" font-family='"Liberation Serif","DejaVu Serif",serif' font-size="14.4" fill="#e8222c" stroke="#e8222c" stroke-width="0.3">Si</text>
<text x="368" y="38.4" font-family='"Liberation Sans","DejaVu Sans",sans-serif' font-size="15.4" letter-spacing="0.4" fill="#111" stroke="#111" stroke-width="0.2">(d)AL2:ρ</text>
<rect x="650.4" y="10.2" width="10" height="217.1" fill="url(#jet)" stroke="#501010" stroke-opacity="0.5" stroke-width="0.4"/>
<path d="M650.4,44.2h1.8M660.4,44.2h-1.8M650.4,85.3h1.8M660.4,85.3h-1.8M650.4,126.4h1.8M660.4,126.4h-1.8M650.4,167.5h1.8M660.4,167.5h-1.8M650.4,208.6h1.8M660.4,208.6h-1.8" stroke="#222" stroke-width="0.5" fill="none"/>
<g font-family='"Liberation Serif","DejaVu Serif",serif' font-size="11.2" letter-spacing="0.18" fill="#1a1a1a" stroke="#1a1a1a" stroke-width="0.22">
<text x="663" y="47.3">0.25</text>
<text x="663" y="88.4">0.2</text>
<text x="663" y="129.5">0.15</text>
<text x="663" y="170.6">0.1</text>
<text x="663" y="211.7">0.05</text>
</g>
</g>
<g id="panel-e">
<polygon points="374.9,487.6 625.8,487.6 500.35,270.95" fill="#15049e"/>
<path d="M484.67,298.03L594.44,487.6M468.99,325.11L563.07,487.6M453.31,352.19L531.71,487.6M437.62,379.27L500.35,487.6M421.94,406.36L468.99,487.6M406.26,433.44L437.62,487.6M390.58,460.52L406.26,487.6" fill="none" stroke="#3424ff" stroke-width="0.9" stroke-dasharray="2.3 1.5"/>
<path d="M406.26,487.6L516.03,298.03M437.62,487.6L531.71,325.11M468.99,487.6L547.39,352.19M500.35,487.6L563.07,379.27M531.71,487.6L578.76,406.36M563.07,487.6L594.44,433.44M594.44,487.6L610.12,460.52" fill="none" stroke="#e01a40" stroke-width="0.7" stroke-dasharray="2.3 1.5"/>
<path d="M390.58,460.5H610.12M406.26,433.5H594.44M421.94,406.5H578.76M437.62,379.5H563.07M453.31,352.5H547.39M468.99,325.5H531.71M484.67,298.5H516.03" fill="none" stroke="#00001c" stroke-width="0.8" stroke-dasharray="2.1 1.75"/>
<polygon points="374.9,487.6 625.8,487.6 500.35,270.95" fill="none" stroke="#000" stroke-width="1" stroke-linejoin="round"/>
<circle cx="374.9" cy="487.6" r="3.2" fill="#fff" stroke="#000" stroke-width="1"/>
<circle cx="625.8" cy="487.6" r="3.2" fill="#fff" stroke="#000" stroke-width="1"/>
<circle cx="500.35" cy="270.95" r="3.2" fill="#fff" stroke="#000" stroke-width="1"/>
<circle cx="500.35" cy="379.27" r="2.85" fill="#fff" stroke="#000" stroke-width="1.2"/>
<circle cx="563.07" cy="433.44" r="2.85" fill="#fff" stroke="#000" stroke-width="1.2"/>
<circle cx="453.31" cy="460.52" r="2.85" fill="#fff" stroke="#000" stroke-width="1.2"/>
<g font-family='"Liberation Serif","DejaVu Serif",serif' font-size="11.2" letter-spacing="0.18" fill="#1a1aff" stroke="#1a1aff" stroke-width="0.22">
<text x="465.71" y="273.82">0</text>
<text x="450.03" y="300.98">0.125</text>
<text x="434.35" y="328.14">0.25</text>
<text x="418.66" y="355.3">0.375</text>
<text x="402.98" y="382.46">0.5</text>
<text x="387.3" y="409.62">0.625</text>
<text x="371.62" y="436.78">0.75</text>
<text x="355.94" y="463.94">0.875</text>
<text x="340.26" y="491.1">1</text>
</g>
<g font-family='"Liberation Serif","DejaVu Serif",serif' font-size="11.2" letter-spacing="0.18" fill="#1a1a1a" stroke="#1a1a1a" stroke-width="0.22">
<text x="631" y="485.8">0</text>
<text x="615.32" y="458.64">0.125</text>
<text x="599.64" y="431.48">0.25</text>
<text x="583.96" y="404.32">0.375</text>
<text x="568.27" y="377.16">0.5</text>
<text x="552.59" y="350">0.625</text>
<text x="536.91" y="322.84">0.75</text>
<text x="521.23" y="295.68">0.875</text>
<text x="505.55" y="269.32">1</text>
</g>
<g font-family='"Liberation Serif","DejaVu Serif",serif' font-size="11.2" letter-spacing="0.18" fill="#e8222c" stroke="#e8222c" stroke-width="0.22">
<text x="375.1" y="501.9">0</text>
<text x="406.46" y="501.9">0.125</text>
<text x="437.82" y="501.9">0.25</text>
<text x="469.19" y="501.9">0.375</text>
<text x="500.55" y="501.9">0.5</text>
<text x="531.91" y="501.9">0.625</text>
<text x="563.27" y="501.9">0.75</text>
<text x="594.64" y="501.9">0.875</text>
<text x="626" y="501.9">1</text>
</g>
<text transform="translate(398.02,369.47) rotate(-60)" text-anchor="middle" font-family='"Liberation Serif","DejaVu Serif",serif' font-size="14.6" fill="#1a1aff" stroke="#1a1aff" stroke-width="0.3">Ge</text>
<text transform="translate(597.77,368.37) rotate(60)" text-anchor="middle" font-family='"Liberation Serif","DejaVu Serif",serif' font-size="14.6" fill="#1a1a1a" stroke="#1a1a1a" stroke-width="0.3">Sn</text>
<text x="500.55" y="516" text-anchor="middle" font-family='"Liberation Serif","DejaVu Serif",serif' font-size="14.4" fill="#e8222c" stroke="#e8222c" stroke-width="0.3">Si</text>
<text x="380.7" y="298" font-family='"Liberation Sans","DejaVu Sans",sans-serif' font-size="15.4" letter-spacing="0.15" fill="#111" stroke="#111" stroke-width="0.2">(e)AL2:</text>
<text x="381.2" y="318.5" font-family='"Liberation Sans","DejaVu Sans",sans-serif' font-size="15.4" letter-spacing="0.15" fill="#111" stroke="#111" stroke-width="0.2">Energy</text>
<rect x="650.4" y="271" width="10" height="216.8" fill="url(#jet)" stroke="#501010" stroke-opacity="0.5" stroke-width="0.4"/>
<path d="M650.4,296.5h1.8M660.4,296.5h-1.8M650.4,328.5h1.8M660.4,328.5h-1.8M650.4,360.5h1.8M660.4,360.5h-1.8M650.4,392.5h1.8M660.4,392.5h-1.8M650.4,424.5h1.8M660.4,424.5h-1.8M650.4,456.5h1.8M660.4,456.5h-1.8" stroke="#222" stroke-width="0.5" fill="none"/>
<g font-family='"Liberation Serif","DejaVu Serif",serif' font-size="11.2" letter-spacing="0.18" fill="#1a1a1a" stroke="#1a1a1a" stroke-width="0.22">
<text x="663" y="299.6">0.06</text>
<text x="663" y="331.6">0.05</text>
<text x="663" y="363.6">0.04</text>
<text x="663" y="395.6">0.03</text>
<text x="663" y="427.6">0.02</text>
<text x="663" y="459.6">0.01</text>
</g>
</g>
<g id="panel-f">
<polygon points="376.1,746.5 622.3,746.5 499.2,533.91" fill="#15049e"/>
<linearGradient id="fR" gradientUnits="userSpaceOnUse" x1="606.1" y1="737.15" x2="622.3" y2="746.5"><stop offset="0" stop-color="#15049e"/><stop offset="0.3" stop-color="#1a00e0"/><stop offset="0.55" stop-color="#2008ff"/><stop offset="0.8" stop-color="#2a30ff"/><stop offset="1" stop-color="#4a84ff"/></linearGradient>
<polygon points="597.68,746.5 622.3,746.5 609.99,725.24" fill="url(#fR)"/>
<linearGradient id="fT" gradientUnits="userSpaceOnUse" x1="0" y1="535.91" x2="0" y2="548.79"><stop offset="0" stop-color="#1e00ff"/><stop offset="1" stop-color="#15049e"/></linearGradient>
<polygon points="490.58,548.79 507.82,548.79 499.2,533.91" fill="url(#fT)"/>
<linearGradient id="fL" gradientUnits="userSpaceOnUse" x1="379.1" y1="0" x2="400.1" y2="0"><stop offset="0" stop-color="#1e00f0"/><stop offset="1" stop-color="#15049e"/></linearGradient>
<polygon points="376.1,746.5 400.1,746.5 379.6,741.5" fill="url(#fL)"/>
<path d="M483.81,560.48L591.52,746.5M468.43,587.05L560.75,746.5M453.04,613.63L529.97,746.5M437.65,640.2L499.2,746.5M422.26,666.78L468.43,746.5M406.88,693.35L437.65,746.5M391.49,719.93L406.88,746.5" fill="none" stroke="#3424ff" stroke-width="0.9" stroke-dasharray="2.3 1.5"/>
<path d="M406.88,746.5L514.59,560.48M437.65,746.5L529.97,587.05M468.43,746.5L545.36,613.63M499.2,746.5L560.75,640.2M529.97,746.5L576.14,666.78M560.75,746.5L591.52,693.35M591.52,746.5L606.91,719.93" fill="none" stroke="#e01a40" stroke-width="0.7" stroke-dasharray="2.3 1.5"/>
<path d="M391.49,719.5H606.91M406.88,693.5H591.52M422.26,666.5H576.14M437.65,640.5H560.75M453.04,613.5H545.36M468.43,587.5H529.97M483.81,560.5H514.59" fill="none" stroke="#00001c" stroke-width="0.8" stroke-dasharray="2.1 1.75"/>
<polygon points="376.1,746.5 622.3,746.5 499.2,533.91" fill="none" stroke="#000" stroke-width="1" stroke-linejoin="round"/>
<circle cx="376.1" cy="746.5" r="3.2" fill="#fff" stroke="#000" stroke-width="1"/>
<circle cx="622.3" cy="746.5" r="3.2" fill="#fff" stroke="#000" stroke-width="1"/>
<circle cx="499.2" cy="533.91" r="3.2" fill="#fff" stroke="#000" stroke-width="1"/>
<circle cx="499.2" cy="640.2" r="2.85" fill="#fff" stroke="#000" stroke-width="1.2"/>
<circle cx="560.75" cy="693.35" r="2.85" fill="#fff" stroke="#000" stroke-width="1.2"/>
<circle cx="453.04" cy="719.93" r="2.85" fill="#fff" stroke="#000" stroke-width="1.2"/>
<g font-family='"Liberation Serif","DejaVu Serif",serif' font-size="11.2" letter-spacing="0.18" fill="#1a1aff" stroke="#1a1aff" stroke-width="0.22">
<text x="465.21" y="536.79">0</text>
<text x="449.82" y="563.44">0.125</text>
<text x="434.43" y="590.09">0.25</text>
<text x="419.05" y="616.74">0.375</text>
<text x="403.66" y="643.4">0.5</text>
<text x="388.27" y="670.05">0.625</text>
<text x="372.88" y="696.7">0.75</text>
<text x="357.5" y="723.35">0.875</text>
<text x="342.11" y="750">1</text>
</g>
<g font-family='"Liberation Serif","DejaVu Serif",serif' font-size="11.2" letter-spacing="0.18" fill="#1a1a1a" stroke="#1a1a1a" stroke-width="0.22">
<text x="627.5" y="744.7">0</text>
<text x="612.11" y="718.05">0.125</text>
<text x="596.73" y="691.4">0.25</text>
<text x="581.34" y="664.75">0.375</text>
<text x="565.95" y="638.1">0.5</text>
<text x="550.56" y="611.44">0.625</text>
<text x="535.17" y="584.79">0.75</text>
<text x="519.79" y="558.14">0.875</text>
<text x="504.4" y="532.29">1</text>
</g>
<g font-family='"Liberation Serif","DejaVu Serif",serif' font-size="11.2" letter-spacing="0.18" fill="#e8222c" stroke="#e8222c" stroke-width="0.22">
<text x="376.3" y="760.8">0</text>
<text x="407.07" y="760.8">0.125</text>
<text x="437.85" y="760.8">0.25</text>
<text x="468.62" y="760.8">0.375</text>
<text x="499.4" y="760.8">0.5</text>
<text x="530.17" y="760.8">0.625</text>
<text x="560.95" y="760.8">0.75</text>
<text x="591.73" y="760.8">0.875</text>
<text x="622.5" y="760.8">1</text>
</g>
<text transform="translate(398.05,630.4) rotate(-60)" text-anchor="middle" font-family='"Liberation Serif","DejaVu Serif",serif' font-size="14.6" fill="#1a1aff" stroke="#1a1aff" stroke-width="0.3">Ge</text>
<text transform="translate(595.45,629.3) rotate(60)" text-anchor="middle" font-family='"Liberation Serif","DejaVu Serif",serif' font-size="14.6" fill="#1a1a1a" stroke="#1a1a1a" stroke-width="0.3">Sn</text>
<text x="499.4" y="774.9" text-anchor="middle" font-family='"Liberation Serif","DejaVu Serif",serif' font-size="14.4" fill="#e8222c" stroke="#e8222c" stroke-width="0.3">Si</text>
<text x="362.3" y="559.1" font-family='"Liberation Sans","DejaVu Sans",sans-serif' font-size="15.4" letter-spacing="0.15" fill="#111" stroke="#111" stroke-width="0.2">(f)AL2:UQ</text>
<rect x="646.3" y="533" width="10" height="213.2" fill="url(#jet)" stroke="#501010" stroke-opacity="0.5" stroke-width="0.4"/>
<path d="M646.3,550h1.8M656.3,550h-1.8M646.3,572.5h1.8M656.3,572.5h-1.8M646.3,595h1.8M656.3,595h-1.8M646.3,617.5h1.8M656.3,617.5h-1.8M646.3,640h1.8M656.3,640h-1.8M646.3,662.5h1.8M656.3,662.5h-1.8M646.3,685h1.8M656.3,685h-1.8M646.3,707.5h1.8M656.3,707.5h-1.8M646.3,730h1.8M656.3,730h-1.8" stroke="#222" stroke-width="0.5" fill="none"/>
<g font-family='"Liberation Serif","DejaVu Serif",serif' font-size="11.2" letter-spacing="0.18" fill="#1a1a1a" stroke="#1a1a1a" stroke-width="0.22">
<text x="659.6" y="553.1">13</text>
<text x="659.6" y="575.6">12</text>
<text x="659.6" y="598.1">11</text>
<text x="659.6" y="620.6">10</text>
<text x="659.6" y="643.1">9</text>
<text x="659.6" y="665.6">8</text>
<text x="659.6" y="688.1">7</text>
<text x="659.6" y="710.6">6</text>
<text x="659.6" y="733.1">5</text>
<text x="657.2" y="528.8">×10<tspan dy="-4.2" font-size="7.6">−4</tspan></text>
</g>
</g>
</svg></body></html>
